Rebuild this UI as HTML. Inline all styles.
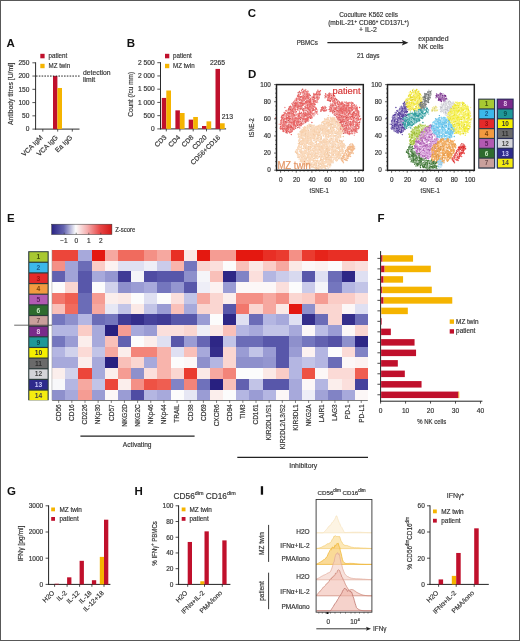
<!DOCTYPE html>
<html><head><meta charset="utf-8"><title>Figure</title>
<style>
html,body{margin:0;padding:0;background:#fff;}
body{width:520px;height:641px;overflow:hidden;position:relative;}
#frame{position:absolute;left:0;top:0;width:518px;height:639px;border:1px solid #585858;}
svg{position:absolute;left:0;top:0;font-family:"Liberation Sans", sans-serif;will-change:transform;}
</style></head><body>
<svg width="520" height="641" viewBox="0 0 520 641">
<text x="6.60" y="46.50" font-size="11.5" text-anchor="start" fill="#111" font-weight="bold">A</text>
<line x1="35.60" y1="62.30" x2="35.60" y2="129.60" stroke="#2a2a2a" stroke-width="1"/>
<line x1="35.10" y1="129.10" x2="79.50" y2="129.10" stroke="#2a2a2a" stroke-width="1"/>
<line x1="32.40" y1="129.10" x2="35.60" y2="129.10" stroke="#2a2a2a" stroke-width="0.8"/>
<text x="29.40" y="131.40" font-size="6.6" text-anchor="end" fill="#353535" font-weight="normal" stroke="#353535" stroke-width="0.18">0</text>
<line x1="32.40" y1="115.84" x2="35.60" y2="115.84" stroke="#2a2a2a" stroke-width="0.8"/>
<text x="29.40" y="118.14" font-size="6.6" text-anchor="end" fill="#353535" font-weight="normal" stroke="#353535" stroke-width="0.18">50</text>
<line x1="32.40" y1="102.58" x2="35.60" y2="102.58" stroke="#2a2a2a" stroke-width="0.8"/>
<text x="29.40" y="104.88" font-size="6.6" text-anchor="end" fill="#353535" font-weight="normal" stroke="#353535" stroke-width="0.18">100</text>
<line x1="32.40" y1="89.32" x2="35.60" y2="89.32" stroke="#2a2a2a" stroke-width="0.8"/>
<text x="29.40" y="91.62" font-size="6.6" text-anchor="end" fill="#353535" font-weight="normal" stroke="#353535" stroke-width="0.18">150</text>
<line x1="32.40" y1="76.06" x2="35.60" y2="76.06" stroke="#2a2a2a" stroke-width="0.8"/>
<text x="29.40" y="78.36" font-size="6.6" text-anchor="end" fill="#353535" font-weight="normal" stroke="#353535" stroke-width="0.18">200</text>
<line x1="32.40" y1="62.80" x2="35.60" y2="62.80" stroke="#2a2a2a" stroke-width="0.8"/>
<text x="29.40" y="65.10" font-size="6.6" text-anchor="end" fill="#353535" font-weight="normal" stroke="#353535" stroke-width="0.18">250</text>
<line x1="42.80" y1="129.10" x2="42.80" y2="131.60" stroke="#2a2a2a" stroke-width="0.8"/>
<line x1="57.70" y1="129.10" x2="57.70" y2="131.60" stroke="#2a2a2a" stroke-width="0.8"/>
<line x1="72.30" y1="129.10" x2="72.30" y2="131.60" stroke="#2a2a2a" stroke-width="0.8"/>
<rect x="53.00" y="76.06" width="4.40" height="53.04" fill="#c0102c"/>
<rect x="57.40" y="87.99" width="4.60" height="41.11" fill="#f5b400"/>
<line x1="36.00" y1="76.06" x2="80.00" y2="76.06" stroke="#111" stroke-width="0.9" stroke-dasharray="1.6,1.2"/>
<text x="83.00" y="75.00" font-size="6.8" text-anchor="start" fill="#353535" font-weight="normal" stroke="#353535" stroke-width="0.18">detection</text>
<text x="83.00" y="82.30" font-size="6.8" text-anchor="start" fill="#353535" font-weight="normal" stroke="#353535" stroke-width="0.18">limit</text>
<rect x="40.30" y="53.80" width="4.30" height="4.50" fill="#c0102c"/>
<text x="48.50" y="58.30" font-size="6.6" text-anchor="start" fill="#353535" font-weight="normal" stroke="#353535" stroke-width="0.18" textLength="18.8" lengthAdjust="spacingAndGlyphs">patient</text>
<rect x="40.30" y="63.80" width="4.30" height="4.40" fill="#f5b400"/>
<text x="48.50" y="68.30" font-size="6.6" text-anchor="start" fill="#353535" font-weight="normal" stroke="#353535" stroke-width="0.18" textLength="21.6" lengthAdjust="spacingAndGlyphs">MZ twin</text>
<text x="13.30" y="93.80" font-size="7" text-anchor="middle" fill="#353535" font-weight="normal" stroke="#353535" stroke-width="0.18" transform="rotate(-90 13.30 93.80)" textLength="62.5" lengthAdjust="spacingAndGlyphs">Antibody titres [U/ml]</text>
<text x="43.30" y="137.90" font-size="6.8" text-anchor="end" fill="#353535" font-weight="normal" stroke="#353535" stroke-width="0.18" transform="rotate(-45 43.30 137.90)">VCA IgM</text>
<text x="58.20" y="137.90" font-size="6.8" text-anchor="end" fill="#353535" font-weight="normal" stroke="#353535" stroke-width="0.18" transform="rotate(-45 58.20 137.90)">VCA IgG</text>
<text x="72.80" y="137.90" font-size="6.8" text-anchor="end" fill="#353535" font-weight="normal" stroke="#353535" stroke-width="0.18" transform="rotate(-45 72.80 137.90)">Ea IgG</text>
<text x="126.80" y="47.00" font-size="11.5" text-anchor="start" fill="#111" font-weight="bold">B</text>
<line x1="160.50" y1="62.20" x2="160.50" y2="129.40" stroke="#2a2a2a" stroke-width="1"/>
<line x1="160.00" y1="128.90" x2="226.10" y2="128.90" stroke="#2a2a2a" stroke-width="1"/>
<line x1="157.30" y1="128.90" x2="160.50" y2="128.90" stroke="#2a2a2a" stroke-width="0.8"/>
<text x="154.60" y="131.20" font-size="6.6" text-anchor="end" fill="#353535" font-weight="normal" stroke="#353535" stroke-width="0.18">0</text>
<line x1="157.30" y1="115.66" x2="160.50" y2="115.66" stroke="#2a2a2a" stroke-width="0.8"/>
<text x="154.60" y="117.96" font-size="6.6" text-anchor="end" fill="#353535" font-weight="normal" stroke="#353535" stroke-width="0.18">500</text>
<line x1="157.30" y1="102.42" x2="160.50" y2="102.42" stroke="#2a2a2a" stroke-width="0.8"/>
<text x="154.60" y="104.72" font-size="6.6" text-anchor="end" fill="#353535" font-weight="normal" stroke="#353535" stroke-width="0.18">1 000</text>
<line x1="157.30" y1="89.18" x2="160.50" y2="89.18" stroke="#2a2a2a" stroke-width="0.8"/>
<text x="154.60" y="91.48" font-size="6.6" text-anchor="end" fill="#353535" font-weight="normal" stroke="#353535" stroke-width="0.18">1 500</text>
<line x1="157.30" y1="75.94" x2="160.50" y2="75.94" stroke="#2a2a2a" stroke-width="0.8"/>
<text x="154.60" y="78.24" font-size="6.6" text-anchor="end" fill="#353535" font-weight="normal" stroke="#353535" stroke-width="0.18">2 000</text>
<line x1="157.30" y1="62.70" x2="160.50" y2="62.70" stroke="#2a2a2a" stroke-width="0.8"/>
<text x="154.60" y="65.00" font-size="6.6" text-anchor="end" fill="#353535" font-weight="normal" stroke="#353535" stroke-width="0.18">2 500</text>
<rect x="161.80" y="97.92" width="4.50" height="30.98" fill="#c0102c"/>
<rect x="166.30" y="90.50" width="4.70" height="38.40" fill="#f5b400"/>
<line x1="166.30" y1="128.90" x2="166.30" y2="131.40" stroke="#2a2a2a" stroke-width="0.8"/>
<rect x="175.40" y="110.36" width="4.50" height="18.54" fill="#c0102c"/>
<rect x="179.90" y="113.01" width="4.70" height="15.89" fill="#f5b400"/>
<line x1="179.90" y1="128.90" x2="179.90" y2="131.40" stroke="#2a2a2a" stroke-width="0.8"/>
<rect x="188.70" y="119.63" width="4.50" height="9.27" fill="#c0102c"/>
<rect x="193.20" y="116.98" width="4.70" height="11.92" fill="#f5b400"/>
<line x1="193.20" y1="128.90" x2="193.20" y2="131.40" stroke="#2a2a2a" stroke-width="0.8"/>
<rect x="202.00" y="125.99" width="4.50" height="2.91" fill="#c0102c"/>
<rect x="206.50" y="121.35" width="4.70" height="7.55" fill="#f5b400"/>
<line x1="206.50" y1="128.90" x2="206.50" y2="131.40" stroke="#2a2a2a" stroke-width="0.8"/>
<rect x="215.50" y="68.92" width="4.50" height="59.98" fill="#c0102c"/>
<rect x="220.00" y="123.26" width="4.70" height="5.64" fill="#f5b400"/>
<line x1="220.00" y1="128.90" x2="220.00" y2="131.40" stroke="#2a2a2a" stroke-width="0.8"/>
<text x="217.60" y="65.00" font-size="6.8" text-anchor="middle" fill="#353535" font-weight="normal" stroke="#353535" stroke-width="0.18">2265</text>
<text x="221.80" y="119.20" font-size="6.8" text-anchor="start" fill="#353535" font-weight="normal" stroke="#353535" stroke-width="0.18">213</text>
<rect x="165.00" y="53.80" width="4.30" height="4.50" fill="#c0102c"/>
<text x="173.00" y="58.30" font-size="6.6" text-anchor="start" fill="#353535" font-weight="normal" stroke="#353535" stroke-width="0.18" textLength="18.8" lengthAdjust="spacingAndGlyphs">patient</text>
<rect x="165.00" y="63.80" width="4.30" height="4.40" fill="#f5b400"/>
<text x="173.00" y="68.30" font-size="6.6" text-anchor="start" fill="#353535" font-weight="normal" stroke="#353535" stroke-width="0.18" textLength="21.6" lengthAdjust="spacingAndGlyphs">MZ twin</text>
<text x="133.30" y="94.30" font-size="7" text-anchor="middle" fill="#353535" font-weight="normal" stroke="#353535" stroke-width="0.18" transform="rotate(-90 133.30 94.30)" textLength="45" lengthAdjust="spacingAndGlyphs">Count (/cu mm)</text>
<text x="167.00" y="137.80" font-size="6.8" text-anchor="end" fill="#353535" font-weight="normal" stroke="#353535" stroke-width="0.18" transform="rotate(-45 167.00 137.80)">CD3</text>
<text x="180.60" y="137.80" font-size="6.8" text-anchor="end" fill="#353535" font-weight="normal" stroke="#353535" stroke-width="0.18" transform="rotate(-45 180.60 137.80)">CD4</text>
<text x="193.90" y="137.80" font-size="6.8" text-anchor="end" fill="#353535" font-weight="normal" stroke="#353535" stroke-width="0.18" transform="rotate(-45 193.90 137.80)">CD8</text>
<text x="207.20" y="137.80" font-size="6.8" text-anchor="end" fill="#353535" font-weight="normal" stroke="#353535" stroke-width="0.18" transform="rotate(-45 207.20 137.80)">CD20</text>
<text x="220.70" y="137.80" font-size="6.8" text-anchor="end" fill="#353535" font-weight="normal" stroke="#353535" stroke-width="0.18" transform="rotate(-45 220.70 137.80)">CD56+CD16</text>
<text x="247.70" y="16.50" font-size="11.5" text-anchor="start" fill="#111" font-weight="bold">C</text>
<text x="296.70" y="45.30" font-size="6.9" text-anchor="start" fill="#353535" font-weight="normal" stroke="#353535" stroke-width="0.18" textLength="21.2" lengthAdjust="spacingAndGlyphs">PBMCs</text>
<text x="368.60" y="16.60" font-size="6.9" text-anchor="middle" fill="#353535" font-weight="normal" stroke="#353535" stroke-width="0.18" textLength="58.8" lengthAdjust="spacingAndGlyphs">Coculture K562 cells</text>
<text x="368.60" y="24.70" font-size="6.9" text-anchor="middle" fill="#353535" font-weight="normal" stroke="#353535" stroke-width="0.18" textLength="80.9" lengthAdjust="spacingAndGlyphs">(mbIL-21<tspan dy="-2" font-size="4.5">+</tspan><tspan dy="2"> CD86</tspan><tspan dy="-2" font-size="4.5">+</tspan><tspan dy="2"> CD137L</tspan><tspan dy="-2" font-size="4.5">+</tspan><tspan dy="2">)</tspan></text>
<text x="368.00" y="31.90" font-size="6.9" text-anchor="middle" fill="#353535" font-weight="normal" stroke="#353535" stroke-width="0.18">+ IL-2</text>
<line x1="327.40" y1="42.70" x2="403.50" y2="42.70" stroke="#222" stroke-width="1.3"/>
<path d="M408.4 42.7 L401.8 39.9 L403.2 42.7 L401.8 45.5 Z" fill="#222"/>
<text x="368.30" y="57.80" font-size="6.9" text-anchor="middle" fill="#353535" font-weight="normal" stroke="#353535" stroke-width="0.18" textLength="22.6" lengthAdjust="spacingAndGlyphs">21 days</text>
<text x="418.20" y="41.20" font-size="6.9" text-anchor="start" fill="#353535" font-weight="normal" stroke="#353535" stroke-width="0.18">expanded</text>
<text x="418.20" y="48.60" font-size="6.9" text-anchor="start" fill="#353535" font-weight="normal" stroke="#353535" stroke-width="0.18">NK cells</text>
<text x="248.00" y="78.00" font-size="11.5" text-anchor="start" fill="#111" font-weight="bold">D</text>
<path d="M289.0 113.1h0M287.8 122.2h0M283.4 117.1h0M287.8 112.9h0M297.3 105.5h0M295.0 103.3h0M286.5 113.9h0M289.4 119.8h0M293.7 121.8h0M287.4 118.5h0M291.2 127.3h0M294.2 115.6h0M289.1 109.0h0M287.0 117.7h0M288.0 117.6h0M283.4 119.5h0M289.4 119.0h0M283.9 123.6h0M288.0 112.8h0M293.3 111.1h0M289.7 117.1h0M287.3 128.2h0M288.7 116.3h0M294.9 110.9h0M286.4 131.8h0M286.0 110.8h0M283.9 119.2h0M287.3 130.4h0M291.2 126.2h0M290.0 113.8h0M288.9 108.5h0M291.9 106.9h0M286.3 128.7h0M283.7 126.0h0M291.8 116.1h0M294.3 111.3h0M291.0 108.5h0M294.6 119.4h0M289.9 122.8h0M291.0 111.4h0M294.8 106.8h0M286.9 118.4h0M291.9 130.3h0M287.3 130.9h0M293.5 127.8h0M292.8 111.6h0M287.9 125.7h0M285.9 125.0h0M283.3 129.1h0M287.8 127.3h0M292.6 129.2h0M293.6 123.4h0M292.4 113.5h0M286.0 121.5h0M286.3 123.0h0M296.0 102.3h0M291.3 126.2h0M287.3 130.5h0M289.4 109.8h0M294.3 120.0h0M292.7 109.2h0M290.2 109.3h0M282.9 126.5h0M288.2 120.8h0M290.7 129.3h0M292.9 118.9h0M288.8 117.9h0M293.7 106.2h0M291.1 127.6h0M283.7 121.6h0M286.3 122.5h0M288.9 124.8h0M286.8 126.9h0M282.3 126.3h0M289.9 112.6h0M286.0 125.8h0M288.4 127.6h0M283.5 128.7h0M285.3 121.5h0M287.1 133.0h0M288.2 115.3h0M286.7 128.6h0M292.0 127.3h0M283.9 119.9h0M288.6 120.5h0M294.1 105.7h0M293.3 102.8h0M282.4 115.6h0M291.3 110.0h0M290.0 118.4h0M283.8 124.5h0M308.9 97.8h0M302.0 105.0h0M295.7 105.2h0M297.2 106.1h0M310.0 108.0h0M307.0 97.3h0M302.3 109.4h0M309.5 104.2h0M307.0 101.0h0M296.5 106.4h0M303.9 98.2h0M301.0 103.3h0M302.7 105.2h0M311.6 104.3h0M306.0 91.6h0M303.1 100.9h0M298.9 106.0h0M299.1 95.9h0M296.4 104.1h0M300.0 92.6h0M299.8 99.9h0M307.3 107.1h0M303.8 108.7h0M298.1 96.0h0M307.9 98.5h0M307.0 94.5h0M304.7 96.9h0M299.3 102.8h0M301.9 108.4h0M295.9 103.7h0M310.4 105.8h0M298.1 106.6h0M310.9 100.0h0M300.9 106.2h0M309.4 101.3h0M310.3 108.0h0M307.2 108.2h0M309.3 100.3h0M311.7 104.8h0M302.3 103.6h0M298.2 92.8h0M302.9 92.3h0M304.2 93.5h0M299.0 99.2h0M300.1 97.7h0M298.8 98.6h0M301.8 101.0h0M300.6 97.4h0M304.6 96.7h0M309.5 102.0h0M308.1 94.5h0M301.1 99.5h0M298.0 105.2h0M302.6 105.5h0M299.4 105.4h0M300.2 108.9h0M301.4 96.7h0M306.1 110.5h0M310.2 95.4h0M300.4 94.1h0M308.8 101.0h0M302.7 89.3h0M300.1 104.9h0M297.5 106.1h0M316.8 92.3h0M314.0 99.5h0M317.1 96.4h0M317.2 97.1h0M316.3 101.3h0M313.6 101.7h0M314.2 103.7h0M313.4 97.5h0M312.7 105.8h0M313.2 108.3h0M314.9 98.6h0M309.8 102.4h0M309.7 105.8h0M319.8 93.2h0M320.0 94.5h0M311.7 103.2h0M314.0 94.2h0M318.1 97.3h0M313.7 96.8h0M315.9 94.1h0M317.2 95.1h0M313.9 99.9h0M306.0 121.0h0M305.9 115.3h0M304.0 119.8h0M310.3 109.9h0M304.5 116.6h0M300.9 125.5h0M299.2 117.1h0M306.1 115.8h0M299.3 117.5h0M300.1 122.1h0M293.6 122.6h0M312.9 109.5h0M305.0 118.8h0M301.9 117.1h0M304.9 113.3h0M294.2 121.3h0M302.5 121.0h0M294.6 120.1h0M305.6 122.5h0M298.0 118.4h0M313.7 110.1h0M310.3 115.1h0M293.9 128.0h0M310.4 118.3h0M303.5 111.9h0M300.5 119.2h0M301.3 123.4h0M310.9 113.1h0M303.0 123.3h0M307.2 120.7h0M313.0 110.2h0M297.9 121.1h0M293.7 120.8h0M307.5 111.6h0M307.8 113.1h0M297.3 124.4h0M313.9 113.7h0M299.3 124.6h0M301.6 118.1h0M307.1 114.8h0M296.3 121.9h0M308.7 117.1h0M304.7 118.9h0M297.2 119.7h0M310.4 114.8h0M309.0 112.3h0M294.6 121.7h0M299.0 127.0h0M313.1 108.5h0M297.8 121.8h0M297.0 125.2h0M303.5 113.2h0M303.9 113.0h0M297.7 127.6h0M328.3 100.4h0M328.2 100.2h0M329.8 100.8h0M330.7 100.6h0M331.6 99.0h0M328.6 95.6h0M329.2 96.4h0M331.5 97.4h0M329.5 96.6h0M329.4 93.1h0M329.0 93.8h0M329.2 95.6h0M326.0 96.1h0M333.0 98.3h0M325.7 96.2h0M338.4 115.1h0M332.7 111.5h0M335.0 105.0h0M330.8 104.2h0M340.8 110.6h0M340.0 103.8h0M334.9 103.5h0M339.0 108.5h0M337.8 104.0h0M334.7 111.5h0M339.7 102.6h0M336.9 110.4h0M336.9 108.5h0M334.5 112.1h0M335.2 115.2h0M333.1 105.0h0M332.5 106.1h0M333.7 109.9h0M329.1 109.6h0M333.2 101.9h0M336.9 100.2h0M333.5 110.2h0M339.6 110.2h0M336.7 99.4h0M338.4 106.8h0M340.8 108.5h0M338.4 101.1h0M334.8 113.4h0M339.1 105.3h0M332.6 110.9h0M335.5 108.3h0M337.7 103.0h0M338.6 113.2h0M330.7 105.8h0M339.9 107.7h0M338.0 107.1h0M338.1 104.6h0M332.8 112.7h0M338.9 106.6h0M356.8 120.9h0M345.6 116.2h0M346.9 124.6h0M356.5 118.1h0M346.9 129.1h0M353.2 114.7h0M357.2 112.4h0M342.8 129.9h0M345.9 105.6h0M347.7 119.1h0M344.6 130.1h0M353.3 112.8h0M359.7 121.9h0M344.8 107.6h0M344.4 121.7h0M346.4 124.5h0M355.3 130.3h0M357.2 107.9h0M346.4 130.5h0M343.2 104.1h0M346.4 124.6h0M348.0 104.0h0M345.7 116.9h0M345.4 128.9h0M357.4 111.9h0M340.5 109.7h0M346.1 109.8h0M347.5 132.6h0M346.5 112.5h0M347.5 131.0h0M341.9 109.9h0M356.6 112.2h0M353.6 129.2h0M348.7 119.2h0M347.3 112.1h0M336.9 121.8h0M352.3 131.6h0M345.2 105.2h0M341.5 116.8h0M350.3 121.4h0M343.1 124.6h0M347.8 105.5h0M342.3 106.5h0M343.6 111.9h0M351.0 103.1h0M346.9 110.5h0M338.2 120.4h0M339.3 119.0h0M353.0 103.3h0M349.8 123.4h0M353.8 129.6h0M349.9 116.2h0M343.6 112.1h0M349.9 111.0h0M347.9 123.8h0M355.3 126.2h0M347.0 107.6h0M354.4 128.8h0M346.0 108.7h0M359.2 122.6h0M349.8 123.8h0M340.6 122.7h0M338.8 120.0h0M342.6 125.0h0M350.5 117.6h0M339.7 115.0h0M351.5 130.2h0M358.6 111.2h0M354.1 121.5h0M346.0 125.6h0M354.4 113.3h0M342.9 111.2h0M338.3 113.2h0M344.8 132.0h0M349.3 110.6h0M346.2 127.7h0M343.7 133.3h0M342.8 117.0h0M356.7 112.7h0M341.2 121.3h0M351.3 130.8h0M350.2 118.6h0M346.3 102.1h0M343.4 121.5h0M356.1 131.6h0M358.0 115.2h0M348.7 121.8h0M350.7 124.9h0M341.0 119.5h0M341.1 120.3h0M341.6 117.1h0M357.4 120.7h0M338.7 117.5h0M349.6 108.4h0M348.0 124.5h0M341.7 122.7h0M336.9 114.6h0M354.0 126.8h0M340.6 122.2h0M340.6 115.6h0M352.7 128.3h0M343.0 108.3h0M352.4 114.5h0M341.1 120.2h0M338.9 125.1h0M349.9 107.6h0M348.2 122.4h0M341.9 121.6h0M340.6 117.7h0M343.7 117.0h0M346.9 128.5h0M348.5 110.6h0M357.0 126.6h0M346.6 117.8h0M339.2 119.4h0M345.0 129.8h0M353.7 111.9h0M358.2 118.9h0M345.3 127.6h0M346.5 107.0h0M337.5 117.0h0M352.6 110.0h0M341.9 107.3h0M340.2 127.9h0M354.6 117.4h0M341.0 121.6h0M342.5 115.6h0M340.2 120.3h0M343.3 127.9h0M343.6 119.3h0M342.7 121.0h0M349.7 108.2h0M349.8 112.4h0M345.6 123.6h0M349.7 112.2h0M348.8 127.2h0M337.8 113.4h0M345.1 130.8h0M355.9 125.3h0M358.7 111.7h0M353.8 107.9h0M344.6 120.0h0M342.6 112.9h0M323.9 108.1h0M320.8 110.9h0M323.5 110.8h0M324.1 110.8h0M324.9 106.4h0M324.0 109.7h0M322.2 109.7h0M321.3 109.4h0M323.0 108.4h0M325.4 108.1h0" stroke="#ca4949" stroke-width="1.45" stroke-linecap="round" fill="none"/>
<path d="M293.8 104.1h0M291.4 114.8h0M288.6 131.4h0M294.2 106.2h0M291.0 119.0h0M294.7 111.1h0M290.4 106.3h0M280.7 129.1h0M275.8 117.9h0M294.0 125.4h0M288.0 131.8h0M290.1 130.8h0M290.3 118.8h0M287.8 118.8h0M281.8 116.5h0M288.4 118.3h0M286.7 116.8h0M292.1 103.4h0M294.4 124.6h0M282.8 125.2h0M292.3 127.7h0M280.5 128.0h0M293.0 113.7h0M282.2 127.5h0M285.0 124.5h0M286.1 115.2h0M294.5 122.6h0M286.8 118.5h0M293.6 108.3h0M291.7 124.3h0M284.0 115.3h0M285.1 129.0h0M283.5 114.7h0M291.5 113.8h0M286.0 132.4h0M291.3 134.6h0M287.6 118.2h0M285.4 113.1h0M294.9 122.9h0M283.9 120.9h0M285.1 123.7h0M294.7 106.4h0M294.3 114.5h0M280.9 120.4h0M293.5 126.9h0M290.4 112.6h0M295.4 104.1h0M283.5 121.0h0M289.7 132.8h0M280.6 126.5h0M292.1 117.3h0M287.6 114.6h0M283.2 131.5h0M293.1 115.1h0M282.2 115.3h0M293.1 127.9h0M284.9 118.6h0M281.8 128.4h0M288.4 117.4h0M286.8 115.2h0M289.6 117.2h0M290.5 112.6h0M288.5 126.7h0M289.8 127.8h0M293.8 112.6h0M290.9 125.8h0M291.2 122.3h0M291.6 112.5h0M290.5 116.3h0M291.2 127.4h0M293.8 121.3h0M294.4 115.3h0M292.1 119.5h0M295.4 118.0h0M290.0 126.4h0M289.3 106.9h0M282.5 126.6h0M295.8 109.3h0M296.3 102.4h0M283.3 115.4h0M286.5 130.9h0M295.4 117.4h0M281.4 123.2h0M284.0 119.4h0M281.4 128.6h0M287.7 129.0h0M283.7 131.0h0M293.4 109.8h0M292.4 108.9h0M294.2 109.9h0M280.4 124.6h0M282.0 128.7h0M288.2 118.2h0M295.5 106.7h0M290.1 107.5h0M282.3 124.8h0M294.0 107.9h0M291.4 111.9h0M308.0 103.1h0M306.5 102.0h0M298.2 108.1h0M297.3 106.4h0M307.5 104.5h0M306.3 103.4h0M302.6 98.8h0M310.6 100.2h0M304.2 94.6h0M301.3 99.9h0M309.6 103.0h0M307.4 97.1h0M309.3 108.7h0M309.4 94.3h0M302.4 103.2h0M298.1 101.9h0M303.3 91.4h0M309.1 102.6h0M307.4 104.8h0M309.6 108.7h0M301.8 102.8h0M300.7 108.5h0M297.6 107.9h0M305.7 103.1h0M303.8 97.3h0M304.3 100.3h0M297.1 103.3h0M309.3 99.6h0M310.5 101.5h0M307.8 93.0h0M305.9 107.4h0M298.6 98.2h0M298.6 105.4h0M308.2 94.6h0M299.2 113.2h0M298.9 98.1h0M306.5 101.7h0M297.8 96.7h0M298.6 102.5h0M307.6 102.5h0M296.7 100.4h0M305.9 99.2h0M303.9 103.9h0M305.3 90.1h0M302.1 92.7h0M300.9 104.9h0M303.7 103.2h0M299.6 106.6h0M299.5 98.9h0M310.7 98.8h0M307.8 106.9h0M300.5 109.4h0M307.9 91.2h0M302.8 105.6h0M308.8 108.7h0M300.5 105.6h0M297.2 99.0h0M302.2 93.0h0M295.0 105.1h0M303.5 99.6h0M305.0 109.9h0M310.7 106.1h0M319.0 98.1h0M316.2 97.5h0M317.7 94.5h0M314.7 106.9h0M316.3 101.5h0M308.1 104.5h0M309.8 106.6h0M315.7 101.9h0M317.8 98.9h0M319.5 91.8h0M312.2 97.7h0M317.6 94.3h0M319.6 94.9h0M310.8 108.4h0M317.3 95.4h0M316.4 102.2h0M317.3 100.9h0M319.2 97.2h0M318.5 93.9h0M314.3 98.5h0M313.0 103.3h0M313.2 103.0h0M320.4 90.8h0M305.4 114.2h0M308.8 113.7h0M300.4 121.6h0M297.7 122.1h0M311.2 112.5h0M294.6 118.5h0M302.9 119.3h0M310.0 114.1h0M299.4 115.1h0M307.8 111.1h0M316.2 113.1h0M295.6 118.4h0M297.7 119.8h0M312.1 110.8h0M300.2 113.8h0M307.1 117.7h0M304.5 114.4h0M300.6 117.4h0M301.1 124.9h0M301.4 122.2h0M304.8 118.9h0M295.7 120.7h0M306.5 119.0h0M316.0 108.2h0M316.9 111.5h0M308.9 113.6h0M292.7 118.0h0M301.8 115.2h0M301.1 113.4h0M298.4 115.8h0M298.8 117.6h0M295.7 128.2h0M293.6 123.1h0M297.9 116.1h0M300.3 121.1h0M316.2 109.3h0M297.8 114.3h0M295.2 118.3h0M297.7 120.1h0M307.9 118.5h0M297.5 120.5h0M304.7 119.1h0M311.4 116.3h0M301.9 115.7h0M315.4 111.8h0M308.1 120.9h0M307.2 113.8h0M316.7 112.1h0M305.1 119.3h0M295.3 128.0h0M294.2 120.0h0M305.3 115.4h0M298.8 124.6h0M308.4 115.0h0M305.7 113.2h0M299.2 116.4h0M297.6 125.5h0M301.6 115.4h0M307.6 115.7h0M313.9 115.1h0M301.2 124.6h0M298.3 116.9h0M312.4 110.2h0M293.1 118.0h0M295.1 126.0h0M296.6 117.9h0M325.1 95.8h0M329.7 100.4h0M334.6 98.9h0M329.8 96.2h0M330.4 101.6h0M332.5 100.9h0M333.2 100.7h0M334.4 95.7h0M332.0 93.9h0M334.1 99.0h0M334.0 101.0h0M332.4 96.9h0M328.8 98.0h0M327.6 100.0h0M329.2 98.3h0M333.4 100.9h0M341.7 113.4h0M331.5 108.7h0M339.6 107.4h0M342.2 102.3h0M342.4 107.0h0M333.3 109.6h0M335.2 102.0h0M341.8 110.6h0M331.2 110.7h0M340.3 110.6h0M343.2 107.5h0M336.8 102.5h0M330.2 111.3h0M341.0 109.2h0M329.9 108.9h0M336.1 112.0h0M344.3 106.2h0M338.9 104.6h0M343.7 108.7h0M340.8 104.3h0M337.3 110.4h0M335.0 102.2h0M341.8 108.5h0M341.8 104.7h0M341.8 107.4h0M340.8 110.2h0M338.3 104.8h0M339.3 114.7h0M336.8 106.3h0M332.9 112.8h0M332.3 104.0h0M339.9 106.6h0M337.6 101.7h0M350.9 117.0h0M352.3 117.2h0M354.4 108.0h0M346.0 132.1h0M360.1 119.7h0M352.1 102.7h0M339.6 122.5h0M348.5 105.9h0M352.2 116.6h0M344.3 113.4h0M358.8 122.6h0M341.0 125.5h0M338.4 118.1h0M342.9 116.3h0M349.8 123.9h0M351.6 104.8h0M348.1 113.2h0M338.4 115.2h0M347.0 121.9h0M350.7 110.1h0M352.4 106.3h0M349.9 108.0h0M338.2 124.8h0M358.7 115.1h0M357.2 124.8h0M355.2 108.3h0M354.3 130.3h0M337.0 114.3h0M353.8 122.7h0M349.1 102.4h0M356.5 113.1h0M340.2 112.3h0M346.7 107.9h0M346.1 125.4h0M342.1 129.1h0M345.0 126.0h0M342.9 109.8h0M357.0 107.1h0M348.4 120.0h0M351.3 108.0h0M348.4 108.2h0M348.4 119.4h0M337.5 112.6h0M346.1 121.5h0M356.2 118.4h0M359.5 116.4h0M348.4 115.0h0M348.9 125.3h0M344.7 114.8h0M359.6 107.4h0M346.5 127.2h0M337.5 118.3h0M350.2 131.1h0M343.3 116.7h0M346.5 118.9h0M342.6 105.9h0M357.9 112.3h0M342.8 131.2h0M360.7 118.7h0M352.7 116.4h0M349.4 133.0h0M345.9 108.0h0M347.7 111.1h0M348.9 129.7h0M346.6 127.6h0M345.5 121.7h0M347.8 131.4h0M357.9 117.4h0M338.6 112.3h0M352.9 123.6h0M344.5 116.5h0M353.0 113.7h0M352.8 125.6h0M348.9 113.9h0M342.3 118.9h0M352.2 106.5h0M353.1 115.6h0M339.2 113.0h0M344.2 105.0h0M359.1 124.2h0M351.5 124.0h0M342.7 120.1h0M351.0 133.5h0M341.6 115.9h0M357.9 125.7h0M339.1 111.2h0M354.0 128.3h0M342.8 113.4h0M346.9 103.5h0M346.3 107.0h0M356.3 129.6h0M347.8 114.9h0M341.2 126.2h0M351.7 116.1h0M346.0 113.5h0M342.6 115.5h0M347.4 133.3h0M350.2 124.6h0M348.9 105.0h0M342.1 111.6h0M343.8 105.6h0M354.8 111.6h0M355.4 124.8h0M348.0 129.5h0M352.5 115.1h0M357.0 132.3h0M358.4 120.1h0M358.9 127.3h0M353.2 116.2h0M348.0 106.1h0M348.6 119.3h0M346.7 130.7h0M338.9 117.7h0M345.2 116.5h0M350.7 125.3h0M356.3 124.3h0M343.2 126.4h0M342.2 108.5h0M355.1 131.8h0M356.1 110.7h0M347.3 120.5h0M344.9 108.2h0M345.7 108.3h0M349.7 107.7h0M358.2 119.2h0M355.9 114.6h0M352.7 113.2h0M344.3 110.4h0M350.0 117.9h0M353.4 124.7h0M358.6 112.4h0M341.9 108.1h0M323.8 107.4h0M322.5 108.5h0M321.7 110.3h0M321.1 110.8h0M326.3 110.5h0" stroke="#e65454" stroke-width="1.45" stroke-linecap="round" fill="none"/>
<path d="M291.0 114.4h0M284.7 127.9h0M294.4 110.4h0M281.5 127.8h0M291.0 110.4h0M293.7 116.5h0M286.6 121.1h0M284.1 119.2h0M291.7 119.4h0M284.2 116.3h0M287.2 114.8h0M292.6 127.8h0M291.7 125.4h0M284.8 114.1h0M290.5 131.2h0M287.2 110.2h0M290.8 116.2h0M293.2 107.2h0M296.5 107.0h0M293.7 109.5h0M290.9 115.1h0M283.5 125.1h0M291.1 123.2h0M300.3 108.9h0M290.7 111.9h0M289.1 129.2h0M294.7 110.0h0M286.8 120.1h0M292.4 129.0h0M293.9 125.1h0M283.2 127.7h0M295.1 110.4h0M294.6 111.9h0M287.0 120.5h0M293.7 124.3h0M291.3 124.2h0M285.4 122.5h0M287.0 123.0h0M284.5 113.9h0M295.4 112.1h0M291.8 117.3h0M291.8 113.4h0M281.4 122.5h0M287.7 130.9h0M281.5 125.5h0M288.1 121.9h0M283.0 117.1h0M293.8 110.8h0M280.6 121.5h0M290.3 124.2h0M286.9 124.4h0M285.1 124.3h0M290.3 119.8h0M284.6 114.7h0M288.7 128.4h0M283.6 123.8h0M295.7 115.5h0M288.1 118.7h0M291.8 108.8h0M284.7 131.4h0M292.6 103.8h0M291.0 108.5h0M288.7 110.5h0M295.7 112.0h0M291.1 111.9h0M281.9 126.6h0M280.6 122.9h0M292.5 123.8h0M293.0 106.2h0M279.2 124.2h0M286.5 111.3h0M289.5 114.5h0M294.1 104.4h0M285.5 116.8h0M284.0 126.1h0M290.7 130.4h0M300.3 100.5h0M304.3 92.6h0M305.4 97.6h0M299.3 99.3h0M306.4 95.9h0M308.0 108.3h0M297.4 108.9h0M311.0 105.9h0M306.3 98.3h0M299.6 104.9h0M305.8 105.3h0M296.6 106.9h0M300.3 105.5h0M308.3 95.9h0M307.3 99.1h0M299.4 95.0h0M303.5 97.0h0M295.2 99.2h0M299.3 110.7h0M307.1 91.8h0M304.4 100.7h0M298.6 108.9h0M304.5 95.4h0M298.4 102.1h0M299.0 108.7h0M309.1 96.9h0M298.6 104.0h0M302.5 107.6h0M301.4 97.6h0M298.8 96.6h0M305.6 108.2h0M297.9 103.7h0M304.7 100.3h0M308.1 97.0h0M305.8 89.5h0M304.6 103.4h0M307.2 94.8h0M308.5 99.1h0M308.7 94.0h0M302.3 95.2h0M307.2 91.2h0M311.1 97.3h0M304.8 92.8h0M298.6 98.9h0M306.1 103.9h0M298.6 102.6h0M303.3 94.5h0M297.3 101.1h0M308.8 98.5h0M306.7 108.9h0M309.7 107.8h0M305.9 103.4h0M296.1 103.5h0M304.1 92.0h0M304.9 104.5h0M303.5 111.4h0M302.4 91.8h0M300.3 107.6h0M312.9 107.5h0M314.4 101.2h0M316.7 99.3h0M317.1 100.3h0M319.7 92.9h0M315.0 93.8h0M316.6 98.7h0M310.8 108.0h0M311.4 106.0h0M308.4 104.1h0M315.1 93.6h0M314.6 100.3h0M317.3 95.4h0M314.3 98.6h0M318.9 97.3h0M311.1 102.6h0M314.8 98.4h0M311.5 102.8h0M312.4 96.5h0M312.2 99.0h0M309.7 104.4h0M311.4 106.7h0M311.5 101.7h0M317.6 102.4h0M310.1 104.5h0M311.8 107.0h0M315.0 94.8h0M317.3 92.3h0M316.6 101.7h0M312.3 106.1h0M314.6 96.3h0M309.8 108.3h0M313.7 102.9h0M318.0 95.9h0M312.0 109.6h0M314.1 105.2h0M311.4 107.6h0M315.3 96.1h0M297.7 114.6h0M300.4 123.3h0M298.7 123.2h0M312.0 114.5h0M298.2 124.0h0M309.9 116.9h0M303.6 120.0h0M295.6 120.8h0M312.1 116.2h0M298.8 123.6h0M304.9 113.6h0M304.5 121.4h0M314.1 113.5h0M302.3 116.3h0M298.4 119.7h0M298.8 116.9h0M312.3 114.3h0M293.6 127.0h0M303.2 117.3h0M304.8 117.3h0M297.5 118.8h0M299.3 117.9h0M305.9 113.4h0M303.4 122.0h0M309.1 113.4h0M304.9 122.1h0M307.2 116.0h0M313.9 116.0h0M302.0 115.6h0M308.8 120.3h0M304.4 118.5h0M315.5 110.8h0M307.2 113.1h0M294.4 116.7h0M298.4 122.7h0M304.4 123.1h0M292.0 122.8h0M305.9 111.1h0M296.0 125.4h0M299.4 116.5h0M300.7 122.3h0M312.3 114.8h0M299.2 118.8h0M317.5 109.9h0M302.4 124.1h0M309.4 116.6h0M301.7 120.1h0M315.0 114.3h0M297.0 115.7h0M294.4 125.6h0M304.5 119.4h0M304.0 112.3h0M307.6 109.7h0M294.3 118.0h0M314.5 112.8h0M311.6 118.6h0M325.8 95.5h0M333.3 96.8h0M331.8 96.1h0M333.4 102.5h0M331.9 98.6h0M334.8 96.2h0M328.3 99.5h0M330.7 94.7h0M328.6 96.7h0M328.0 99.8h0M328.3 99.4h0M330.0 99.0h0M329.0 96.8h0M325.6 97.6h0M333.1 96.7h0M333.0 99.6h0M330.5 97.7h0M330.0 99.3h0M326.2 94.9h0M329.1 95.0h0M330.2 95.7h0M332.5 100.3h0M334.1 100.8h0M328.3 95.5h0M329.2 96.5h0M333.8 96.6h0M332.9 97.0h0M341.1 105.8h0M334.7 112.7h0M334.7 105.3h0M334.0 109.4h0M338.5 111.5h0M337.2 113.1h0M336.2 102.3h0M335.0 113.3h0M340.4 106.0h0M339.3 103.6h0M343.0 107.5h0M342.1 103.2h0M338.5 111.1h0M331.3 105.6h0M341.2 105.5h0M330.4 104.3h0M335.0 113.2h0M338.0 107.1h0M333.6 108.7h0M335.7 103.2h0M338.4 113.4h0M337.8 116.2h0M334.5 110.0h0M330.0 107.5h0M334.4 107.3h0M339.0 105.1h0M334.5 112.9h0M331.1 111.3h0M336.6 108.6h0M338.8 110.9h0M330.1 108.8h0M337.5 112.1h0M342.2 108.9h0M330.7 111.6h0M338.5 101.2h0M329.8 111.5h0M340.2 106.3h0M336.0 102.5h0M332.1 109.5h0M335.5 102.0h0M344.6 106.3h0M329.4 106.5h0M338.3 114.1h0M338.7 105.4h0M344.8 105.4h0M331.7 110.6h0M334.0 106.7h0M336.3 111.3h0M339.0 116.3h0M336.5 116.0h0M338.5 112.6h0M345.2 103.1h0M345.3 110.2h0M354.4 127.3h0M359.0 113.4h0M344.1 126.5h0M353.4 107.2h0M344.9 120.3h0M345.9 125.1h0M352.0 105.6h0M352.6 128.2h0M354.7 128.4h0M354.6 122.1h0M344.8 126.3h0M358.6 112.4h0M337.9 117.9h0M337.3 118.8h0M355.3 106.4h0M346.2 131.1h0M343.4 110.2h0M340.7 113.4h0M343.4 115.7h0M347.3 128.3h0M345.1 128.6h0M351.5 110.5h0M355.5 124.2h0M354.3 135.3h0M342.0 118.4h0M349.4 119.2h0M342.7 110.6h0M357.3 116.5h0M348.9 107.1h0M346.1 107.0h0M348.5 124.3h0M355.0 109.0h0M345.3 108.8h0M348.7 132.1h0M338.6 121.9h0M354.0 131.1h0M344.5 129.8h0M352.6 107.2h0M339.5 109.2h0M348.7 118.5h0M344.8 120.5h0M340.8 124.3h0M348.1 107.6h0M345.8 112.9h0M352.3 121.2h0M341.8 106.4h0M339.7 120.3h0M356.6 112.5h0M338.5 121.7h0M350.5 119.5h0M344.6 113.5h0M355.6 113.4h0M345.2 115.5h0M350.3 113.9h0M343.4 104.6h0M345.1 114.9h0M351.6 124.8h0M340.5 125.9h0M356.8 106.5h0M356.6 129.1h0M349.5 121.5h0M341.7 126.3h0M355.9 122.0h0M356.9 129.9h0M357.3 119.3h0M345.9 112.0h0M346.7 124.0h0M349.4 133.7h0M341.6 125.3h0M348.1 103.1h0M356.7 107.3h0M356.0 127.7h0M346.0 121.3h0M341.1 112.8h0M349.2 129.6h0M351.1 123.4h0M352.6 107.5h0M352.1 112.1h0M352.9 126.7h0M356.2 114.8h0M348.0 121.6h0M339.9 112.3h0M354.5 113.2h0M347.7 103.7h0M340.6 112.5h0M342.5 116.1h0M346.2 109.9h0M350.1 107.5h0M345.3 113.2h0M341.3 126.7h0M355.8 126.0h0M359.6 115.5h0M345.5 102.5h0M353.3 128.8h0M346.6 126.3h0M346.9 131.0h0M343.9 116.1h0M343.9 118.4h0M345.4 128.0h0M343.9 129.5h0M354.7 116.1h0M351.5 117.8h0M357.1 114.8h0M357.7 113.3h0M352.9 105.8h0M353.7 131.6h0M351.2 109.8h0M342.9 126.7h0M343.9 112.9h0M355.4 124.3h0M340.4 116.3h0M345.1 125.3h0M352.5 105.5h0M348.4 109.4h0M343.5 114.3h0M354.3 108.3h0M341.7 118.9h0M351.8 108.7h0M353.7 130.8h0M339.9 118.2h0M350.2 128.8h0M349.0 128.2h0M344.5 133.1h0M346.8 125.6h0M338.9 120.8h0M337.4 114.2h0M357.9 120.3h0M321.4 110.1h0M324.0 107.6h0M325.8 110.4h0M322.0 110.1h0M320.8 110.2h0M324.9 107.6h0M323.7 109.5h0M324.7 106.5h0M321.5 110.7h0M321.7 108.4h0" stroke="#f2a9a9" stroke-width="1.45" stroke-linecap="round" fill="none"/>
<path d="M294.2 106.6h0M293.2 120.7h0M294.8 114.4h0M284.1 112.4h0M293.4 116.3h0M294.6 108.4h0M286.2 115.8h0M280.6 122.9h0M292.7 110.5h0M295.2 109.2h0M280.0 128.1h0M289.2 109.5h0M294.4 119.5h0M292.2 131.1h0M289.4 124.1h0M291.2 111.1h0M292.5 130.6h0M295.4 110.4h0M285.6 128.2h0M286.9 127.8h0M294.0 109.3h0M284.5 127.1h0M290.8 130.7h0M286.7 119.7h0M282.6 127.2h0M281.8 118.0h0M293.5 115.4h0M284.9 107.5h0M283.2 130.7h0M288.8 122.6h0M284.2 118.6h0M284.3 123.3h0M292.1 128.6h0M291.0 128.5h0M285.0 118.5h0M292.8 115.2h0M281.6 119.7h0M287.1 120.4h0M282.0 123.0h0M281.3 117.3h0M289.8 124.9h0M286.2 110.5h0M291.3 108.0h0M291.0 128.8h0M289.5 121.7h0M281.4 121.9h0M284.5 129.3h0M285.2 130.8h0M288.3 117.9h0M282.0 121.1h0M286.0 129.5h0M284.2 118.0h0M282.1 124.2h0M283.2 121.0h0M285.6 126.9h0M286.7 115.8h0M294.7 125.2h0M289.6 117.2h0M284.2 114.2h0M293.6 129.2h0M290.4 120.0h0M288.4 118.4h0M290.0 112.0h0M287.7 118.6h0M288.8 115.5h0M285.3 125.0h0M293.1 114.7h0M289.2 109.1h0M290.1 111.4h0M293.3 124.6h0M292.5 115.0h0M293.6 102.0h0M291.6 119.1h0M293.4 128.9h0M292.1 116.3h0M282.2 126.4h0M285.0 112.4h0M291.6 115.3h0M283.4 130.6h0M289.8 125.7h0M288.2 113.6h0M295.1 115.8h0M281.8 120.9h0M299.3 100.6h0M297.4 105.8h0M308.0 93.8h0M306.0 101.8h0M303.7 111.5h0M305.7 97.3h0M310.8 107.1h0M309.7 100.8h0M302.6 99.2h0M303.3 99.1h0M301.6 106.9h0M302.8 110.3h0M304.4 92.0h0M303.4 104.5h0M298.8 105.4h0M294.4 101.1h0M304.3 99.0h0M307.4 107.0h0M303.9 99.4h0M296.5 106.4h0M298.2 99.0h0M303.6 109.6h0M310.6 103.6h0M307.0 100.2h0M297.3 102.3h0M308.2 102.9h0M300.0 97.1h0M309.8 103.6h0M301.5 99.4h0M308.3 107.5h0M307.3 105.1h0M298.7 106.2h0M303.0 97.5h0M304.8 97.4h0M297.5 96.0h0M311.9 105.0h0M296.2 102.8h0M304.9 103.3h0M297.4 103.2h0M296.0 106.9h0M299.5 97.0h0M298.7 108.0h0M301.9 91.9h0M305.7 98.3h0M307.8 91.6h0M307.3 98.2h0M305.5 91.7h0M306.9 102.2h0M296.0 103.8h0M305.5 90.2h0M298.8 94.3h0M300.7 108.0h0M304.6 98.0h0M307.3 93.3h0M308.9 94.4h0M305.8 95.5h0M312.5 98.9h0M309.9 110.0h0M317.1 91.9h0M313.9 104.9h0M318.5 91.8h0M314.1 95.9h0M309.6 103.4h0M309.1 106.1h0M310.9 104.9h0M313.6 93.5h0M317.2 97.6h0M309.0 105.5h0M314.9 94.4h0M313.0 106.7h0M312.2 108.7h0M313.9 102.8h0M317.9 95.5h0M314.8 106.9h0M312.1 106.2h0M314.7 101.5h0M312.6 108.5h0M310.8 107.6h0M310.3 106.1h0M313.9 96.0h0M310.9 106.9h0M311.6 104.4h0M319.4 92.8h0M314.8 104.0h0M319.0 93.3h0M303.6 116.5h0M297.9 120.7h0M304.7 119.1h0M316.8 112.5h0M294.7 125.5h0M316.1 108.7h0M293.4 123.4h0M299.2 118.5h0M297.0 124.0h0M296.4 114.6h0M291.9 118.9h0M303.3 115.7h0M303.6 118.9h0M310.2 114.0h0M298.1 121.4h0M297.0 118.4h0M298.0 120.4h0M317.6 114.1h0M292.3 122.5h0M295.0 127.1h0M304.4 121.0h0M298.9 123.0h0M302.5 116.0h0M315.5 109.0h0M310.8 109.9h0M300.0 115.9h0M296.4 124.4h0M315.1 109.7h0M294.2 122.5h0M301.8 113.9h0M312.5 114.2h0M296.0 119.3h0M310.2 116.2h0M306.2 116.4h0M307.3 112.6h0M308.9 110.0h0M294.1 125.6h0M315.4 107.5h0M300.9 125.3h0M294.1 123.9h0M297.2 123.2h0M308.2 118.9h0M298.1 113.9h0M293.6 125.8h0M292.5 122.7h0M307.9 112.0h0M293.3 124.5h0M312.0 111.7h0M306.8 119.9h0M299.2 121.7h0M303.0 114.4h0M301.5 113.3h0M302.8 124.2h0M311.9 117.2h0M295.7 117.8h0M299.7 120.9h0M298.9 125.3h0M304.3 118.6h0M303.0 119.5h0M309.2 117.8h0M304.6 113.4h0M293.7 120.2h0M299.8 128.0h0M304.6 121.3h0M309.4 114.8h0M294.2 123.2h0M307.6 116.5h0M303.4 115.0h0M294.2 118.6h0M305.4 112.8h0M311.7 113.3h0M302.8 114.5h0M296.9 119.9h0M308.3 119.6h0M301.6 118.0h0M293.2 126.1h0M302.4 118.4h0M299.6 121.7h0M296.5 122.8h0M305.9 120.5h0M298.2 120.5h0M309.8 110.3h0M300.9 125.8h0M303.8 110.8h0M328.9 99.5h0M329.1 94.0h0M328.6 96.2h0M333.5 101.5h0M332.1 99.4h0M329.2 99.7h0M332.7 99.9h0M325.0 97.8h0M325.8 94.8h0M330.5 93.6h0M331.1 98.1h0M333.7 95.2h0M329.3 94.4h0M327.7 98.3h0M332.0 95.8h0M327.9 95.8h0M338.4 115.3h0M338.2 109.6h0M339.3 101.7h0M336.8 107.0h0M334.3 107.6h0M336.0 105.5h0M343.2 104.8h0M342.0 103.7h0M344.0 105.1h0M339.9 112.5h0M335.5 108.7h0M333.4 105.1h0M340.6 112.9h0M340.5 107.3h0M340.0 113.6h0M339.4 105.5h0M341.7 108.8h0M331.7 110.5h0M330.6 111.2h0M340.6 107.4h0M340.8 113.3h0M344.6 106.3h0M341.7 106.9h0M338.0 104.3h0M332.4 111.9h0M340.1 103.8h0M339.3 107.7h0M331.6 109.4h0M333.9 108.6h0M336.4 106.8h0M337.2 104.0h0M340.4 104.8h0M335.4 107.8h0M342.9 109.3h0M338.1 116.5h0M333.9 102.9h0M330.6 110.9h0M337.2 111.6h0M338.2 101.5h0M329.7 109.6h0M334.6 109.0h0M346.2 109.3h0M358.5 126.2h0M356.8 124.6h0M353.1 108.8h0M340.3 117.7h0M347.6 128.6h0M343.2 126.2h0M355.1 122.0h0M345.8 102.6h0M352.4 121.4h0M356.0 122.2h0M344.8 109.0h0M337.4 117.4h0M352.5 128.5h0M341.6 123.9h0M341.4 112.6h0M338.0 118.8h0M356.0 108.2h0M347.1 119.5h0M344.1 109.4h0M341.7 117.9h0M349.1 131.9h0M344.8 130.6h0M342.7 122.2h0M338.5 123.2h0M348.8 121.7h0M356.2 105.3h0M342.1 127.1h0M354.6 111.3h0M355.2 124.3h0M359.8 119.8h0M352.8 129.2h0M345.1 129.2h0M350.5 111.3h0M343.4 117.3h0M349.3 128.9h0M351.6 106.3h0M351.7 123.5h0M342.1 109.9h0M350.6 126.5h0M348.0 118.1h0M357.8 123.2h0M346.6 115.8h0M339.1 112.0h0M346.7 103.6h0M349.2 134.5h0M351.7 110.4h0M349.6 134.4h0M343.6 107.2h0M344.7 116.8h0M344.3 111.5h0M355.3 106.8h0M343.7 111.7h0M347.1 130.3h0M345.2 107.4h0M342.9 106.5h0M342.9 116.9h0M359.1 124.8h0M340.9 120.3h0M349.6 108.5h0M349.0 109.0h0M351.8 109.6h0M346.7 130.7h0M356.1 113.8h0M350.8 122.9h0M344.2 120.0h0M351.9 119.1h0M348.4 122.4h0M347.3 125.2h0M358.1 111.4h0M348.7 107.4h0M353.7 117.6h0M353.8 105.5h0M348.6 111.7h0M350.0 118.3h0M345.5 118.2h0M349.4 123.6h0M352.3 130.8h0M350.8 111.9h0M351.4 119.0h0M347.5 103.2h0M356.7 130.3h0M347.1 119.3h0M346.7 126.6h0M354.8 133.3h0M352.0 106.3h0M352.0 125.6h0M354.9 106.3h0M348.2 103.4h0M349.1 131.8h0M357.3 117.7h0M351.3 102.2h0M340.4 125.2h0M347.5 117.6h0M350.3 113.4h0M346.2 122.7h0M349.8 111.0h0M348.1 126.6h0M353.5 116.0h0M351.1 105.7h0M349.9 102.8h0M354.3 131.8h0M358.0 114.2h0M353.6 116.3h0M357.0 109.0h0M348.1 128.4h0M358.4 117.0h0M336.3 117.1h0M351.1 111.3h0M346.2 105.4h0M347.4 129.5h0M345.9 113.1h0M354.3 108.7h0M340.7 113.4h0M356.2 128.5h0M349.0 117.0h0M338.9 118.1h0M347.7 119.5h0M357.7 117.7h0M350.4 118.6h0M352.7 105.2h0M343.8 107.1h0M347.7 110.8h0M344.3 106.8h0M346.1 122.3h0M342.7 118.6h0M341.8 120.1h0M345.3 128.2h0M347.6 119.2h0M346.4 120.3h0M352.1 123.2h0M348.8 128.9h0M345.2 120.0h0M347.5 133.3h0M348.7 127.0h0M355.4 127.7h0M356.4 127.4h0M356.8 122.6h0M352.2 133.8h0M357.3 119.3h0M343.4 121.7h0M344.6 117.1h0M350.7 110.2h0M342.0 113.9h0M355.1 127.6h0M344.0 124.0h0M342.9 105.7h0M355.4 121.3h0M352.8 107.7h0M345.8 119.4h0M345.7 105.5h0M339.8 118.1h0M357.7 116.3h0M347.1 110.1h0M348.5 122.6h0M322.8 106.8h0M322.1 108.3h0M326.7 109.7h0M325.3 107.4h0" stroke="#ed8787" stroke-width="1.45" stroke-linecap="round" fill="none"/>
<path d="M285.0 113.8h0M285.8 130.0h0M289.9 121.8h0M288.0 118.2h0M284.5 126.1h0M291.9 131.4h0M291.0 122.5h0M283.9 122.8h0M281.7 120.0h0M283.4 130.6h0M281.6 117.3h0M282.8 117.9h0M288.4 124.1h0M288.2 113.8h0M284.0 124.7h0M284.9 118.6h0M289.2 112.7h0M295.3 109.3h0M285.4 122.6h0M297.4 109.5h0M286.5 122.0h0M296.4 111.4h0M292.1 121.7h0M283.8 125.9h0M287.1 125.9h0M293.6 123.6h0M283.5 115.3h0M291.9 113.4h0M290.7 125.8h0M287.9 130.6h0M291.6 122.9h0M289.1 118.8h0M295.1 118.1h0M292.5 110.9h0M294.0 107.3h0M294.4 115.5h0M290.0 121.2h0M283.1 122.8h0M292.9 105.6h0M282.6 129.6h0M295.3 120.3h0M283.9 119.7h0M294.1 124.4h0M294.5 122.6h0M289.5 116.3h0M286.6 129.9h0M293.5 112.7h0M291.1 110.5h0M288.5 109.8h0M288.0 111.9h0M289.7 113.8h0M289.8 131.9h0M288.4 129.3h0M284.6 128.5h0M289.0 128.0h0M286.3 117.7h0M292.9 128.4h0M282.0 119.0h0M290.9 132.3h0M294.0 129.4h0M293.6 114.5h0M290.4 127.1h0M288.7 109.2h0M287.1 128.6h0M292.4 104.6h0M294.6 103.7h0M292.6 127.7h0M281.9 117.4h0M282.0 128.4h0M282.5 128.3h0M286.1 119.4h0M292.1 120.2h0M286.0 129.8h0M295.9 112.9h0M310.7 103.8h0M294.9 102.9h0M307.2 107.2h0M298.6 106.2h0M300.0 108.3h0M304.1 90.4h0M303.6 92.0h0M303.6 97.9h0M303.7 103.4h0M302.6 105.4h0M304.2 100.2h0M307.7 95.6h0M295.9 103.8h0M307.2 97.1h0M305.6 98.6h0M302.6 103.3h0M298.3 96.4h0M299.4 102.6h0M306.6 92.0h0M308.9 107.7h0M300.9 105.6h0M300.5 102.2h0M306.6 96.3h0M304.8 108.1h0M295.1 100.7h0M308.7 97.0h0M302.2 101.0h0M307.7 105.4h0M305.0 106.4h0M296.4 98.3h0M300.4 92.9h0M308.3 101.2h0M304.6 103.5h0M307.0 93.7h0M302.9 97.2h0M307.1 105.5h0M308.3 108.7h0M306.6 102.5h0M305.5 102.6h0M307.1 94.5h0M297.9 110.1h0M306.2 96.7h0M305.5 101.7h0M299.4 91.5h0M301.3 106.6h0M296.8 103.5h0M298.0 107.7h0M307.2 108.2h0M296.4 99.2h0M303.3 110.6h0M309.2 101.3h0M301.6 90.2h0M307.3 100.9h0M306.4 101.1h0M305.5 107.1h0M302.8 104.0h0M297.9 104.8h0M297.7 107.4h0M305.1 108.2h0M303.5 95.7h0M297.9 95.8h0M309.1 95.2h0M308.5 98.6h0M307.3 96.7h0M309.2 104.6h0M305.7 94.0h0M302.6 97.0h0M300.0 96.5h0M305.2 106.7h0M298.3 94.6h0M300.4 108.5h0M301.8 96.6h0M300.3 103.5h0M299.5 100.0h0M310.0 106.5h0M303.6 110.4h0M301.3 103.1h0M300.9 96.6h0M317.9 90.2h0M313.6 106.6h0M313.8 94.9h0M316.2 94.4h0M309.4 106.6h0M316.6 93.4h0M318.0 99.6h0M313.1 101.2h0M314.5 94.7h0M315.2 104.5h0M312.1 103.8h0M312.8 99.8h0M315.1 100.6h0M318.1 91.7h0M311.9 107.9h0M313.9 100.9h0M314.6 98.2h0M314.0 104.7h0M313.8 101.8h0M315.2 100.7h0M310.6 102.6h0M314.2 97.3h0M317.3 97.9h0M313.9 103.3h0M315.3 94.6h0M310.7 104.5h0M312.0 104.6h0M298.4 122.4h0M304.3 115.6h0M310.0 111.8h0M308.8 113.8h0M313.4 109.3h0M307.5 119.5h0M312.9 113.2h0M305.7 121.5h0M310.7 111.5h0M311.9 117.8h0M311.1 115.8h0M293.4 122.6h0M310.5 117.4h0M299.6 112.0h0M309.6 114.3h0M294.5 121.6h0M301.4 112.4h0M306.2 118.8h0M306.7 114.0h0M316.2 108.4h0M303.8 117.0h0M298.9 116.5h0M306.1 120.6h0M295.8 126.3h0M298.4 118.9h0M298.9 115.3h0M311.9 122.5h0M310.5 112.5h0M303.9 118.9h0M296.7 123.2h0M299.1 113.9h0M296.1 126.4h0M307.8 117.8h0M294.4 123.6h0M293.1 125.0h0M305.5 113.2h0M300.9 117.1h0M302.9 118.7h0M309.4 110.2h0M299.0 116.5h0M310.2 117.6h0M298.6 121.5h0M309.4 116.6h0M308.4 117.6h0M297.0 121.6h0M299.7 124.9h0M309.8 109.9h0M294.5 124.2h0M303.2 113.8h0M297.0 118.2h0M306.0 121.6h0M314.8 110.0h0M305.9 119.7h0M295.2 125.2h0M300.5 123.8h0M299.6 118.6h0M308.8 109.5h0M305.4 119.4h0M299.7 118.4h0M334.3 100.4h0M334.8 99.6h0M334.3 95.7h0M328.5 97.4h0M331.5 95.6h0M327.6 94.9h0M329.7 94.3h0M335.6 98.8h0M329.5 95.3h0M333.8 97.1h0M325.6 93.7h0M335.4 98.3h0M327.7 99.9h0M330.9 98.4h0M331.1 99.0h0M326.9 97.0h0M328.5 95.3h0M327.4 100.1h0M329.4 96.8h0M333.5 110.7h0M334.9 109.3h0M336.1 110.3h0M331.3 106.9h0M342.1 103.5h0M331.1 109.0h0M335.7 103.2h0M342.5 109.4h0M335.7 109.6h0M338.6 104.5h0M343.2 106.6h0M341.8 102.2h0M341.3 108.1h0M335.4 108.6h0M333.3 105.7h0M338.0 110.9h0M343.5 110.2h0M336.6 107.6h0M342.9 103.4h0M340.0 109.6h0M342.0 111.7h0M334.9 100.8h0M331.9 105.3h0M333.0 107.7h0M339.8 102.4h0M335.4 104.9h0M341.4 103.4h0M330.7 111.0h0M340.8 104.1h0M344.0 105.7h0M330.4 107.3h0M329.7 109.2h0M331.5 108.2h0M335.6 108.4h0M342.7 109.5h0M336.1 109.1h0M334.2 114.8h0M344.5 104.8h0M334.7 103.0h0M336.2 113.9h0M352.8 115.3h0M349.8 111.8h0M356.0 110.6h0M343.4 106.7h0M347.9 125.2h0M355.9 115.5h0M350.3 121.8h0M353.0 117.9h0M345.1 114.5h0M353.3 118.9h0M355.4 131.0h0M358.9 118.9h0M340.5 125.8h0M340.1 120.6h0M343.4 121.3h0M345.9 118.6h0M341.1 109.8h0M346.3 125.6h0M345.8 133.0h0M355.0 115.7h0M357.1 128.6h0M349.3 113.5h0M348.8 103.3h0M358.2 128.8h0M352.5 122.1h0M356.5 114.9h0M346.6 108.6h0M354.1 120.1h0M353.2 130.3h0M351.7 127.1h0M344.4 113.0h0M358.6 114.6h0M340.0 110.4h0M340.9 111.2h0M346.6 105.1h0M349.5 133.4h0M353.0 120.9h0M350.4 123.0h0M341.0 128.8h0M344.4 105.7h0M339.1 110.1h0M342.1 125.0h0M352.1 109.4h0M348.5 114.2h0M338.9 111.9h0M339.7 124.0h0M348.7 105.0h0M336.6 116.8h0M347.6 117.2h0M355.8 128.8h0M338.1 121.9h0M341.4 122.5h0M349.3 131.7h0M358.3 112.4h0M337.6 119.0h0M344.3 102.1h0M357.3 109.3h0M342.6 126.3h0M352.3 107.2h0M345.3 110.9h0M344.8 128.4h0M340.5 108.9h0M345.7 110.0h0M358.4 113.3h0M341.0 129.4h0M356.5 107.9h0M347.1 116.5h0M355.2 118.9h0M337.7 114.1h0M351.0 129.3h0M358.9 128.1h0M354.3 104.6h0M347.1 109.3h0M342.9 121.1h0M356.0 122.8h0M345.7 108.5h0M344.6 110.1h0M357.7 110.5h0M351.3 132.1h0M351.4 114.3h0M351.0 114.8h0M342.3 112.4h0M351.3 124.4h0M343.5 122.9h0M356.7 118.7h0M353.1 124.7h0M357.4 124.3h0M341.2 124.9h0M352.7 109.4h0M347.7 103.2h0M353.3 121.0h0M343.6 116.6h0M343.5 129.6h0M355.0 113.4h0M342.3 120.1h0M341.8 107.9h0M353.8 117.9h0M344.4 128.7h0M352.1 110.1h0M351.4 108.3h0M346.3 111.3h0M356.6 107.6h0M352.0 122.3h0M356.7 124.9h0M357.2 123.0h0M354.4 112.7h0M354.3 104.9h0M349.2 107.5h0M346.6 123.0h0M344.5 104.7h0M346.6 115.3h0M343.2 117.1h0M351.2 106.1h0M354.6 114.1h0M344.2 126.0h0M344.1 116.6h0M345.1 125.1h0M341.1 121.8h0M342.6 111.8h0M356.0 116.1h0M353.9 129.3h0M350.1 127.9h0M339.8 116.9h0M355.8 109.8h0M352.0 114.1h0M347.5 106.0h0M356.8 114.3h0M348.9 109.3h0M352.1 103.2h0M350.5 107.7h0M339.9 114.8h0M341.4 122.4h0M338.9 117.4h0M354.0 120.8h0M346.3 107.6h0M346.7 105.2h0M356.1 108.7h0M355.9 129.8h0M348.9 113.8h0M352.8 133.1h0M348.3 117.2h0M355.6 126.0h0M358.9 126.3h0M348.1 133.8h0M351.6 119.4h0M325.0 111.0h0M321.4 109.9h0M325.4 110.1h0M321.5 107.7h0M326.0 107.6h0M322.5 107.2h0M324.1 110.4h0M323.7 108.2h0" stroke="#e86565" stroke-width="1.45" stroke-linecap="round" fill="none"/>
<path d="M301.5 144.2h0M304.3 139.4h0M301.7 132.6h0M309.2 128.0h0M311.1 125.6h0M299.6 143.7h0M307.6 128.2h0M304.5 134.2h0M298.8 136.6h0M299.7 140.0h0M316.4 130.0h0M307.0 136.6h0M300.2 131.4h0M308.1 135.4h0M302.5 138.6h0M301.6 135.1h0M308.5 130.3h0M311.8 129.6h0M308.3 131.9h0M304.7 129.5h0M318.3 126.4h0M308.0 126.5h0M301.9 137.6h0M303.5 130.6h0M305.5 133.3h0M306.3 138.6h0M305.6 137.5h0M310.8 138.7h0M304.6 143.9h0M305.6 133.2h0M301.6 142.4h0M301.7 135.6h0M299.6 142.4h0M311.9 131.7h0M301.8 136.1h0M305.8 134.3h0M303.9 128.8h0M299.0 134.6h0M310.2 126.5h0M301.7 132.5h0M315.4 132.0h0M311.3 132.1h0M301.2 142.1h0M308.4 137.7h0M304.2 135.8h0M314.2 130.2h0M310.6 129.1h0M302.6 133.1h0M307.4 140.0h0M303.1 135.0h0M301.3 130.6h0M309.4 125.5h0M308.9 134.5h0M308.8 133.1h0M316.7 127.8h0M305.6 136.5h0M303.9 138.5h0M302.8 133.6h0M303.5 142.9h0M305.3 136.1h0M310.9 124.8h0M302.6 131.5h0M303.2 141.0h0M312.1 128.5h0M315.3 131.3h0M301.5 137.9h0M302.3 130.4h0M300.7 144.4h0M303.1 132.0h0M311.4 126.9h0M310.0 135.7h0M313.9 130.7h0M310.4 129.8h0M314.7 128.8h0M301.5 133.7h0M299.7 138.9h0M298.8 134.9h0M301.6 135.8h0M308.2 146.4h0M307.1 147.9h0M308.6 148.2h0M310.7 146.4h0M314.9 138.0h0M305.4 153.2h0M309.6 137.6h0M320.6 136.2h0M319.0 129.6h0M325.2 142.8h0M304.9 146.7h0M325.3 142.0h0M307.1 153.9h0M318.2 132.9h0M308.9 143.1h0M310.2 142.1h0M307.8 152.4h0M317.3 156.1h0M320.9 151.6h0M303.9 146.7h0M320.3 149.5h0M316.6 144.7h0M324.3 141.8h0M316.4 141.2h0M320.3 141.5h0M312.1 144.1h0M305.7 146.8h0M314.9 145.8h0M320.0 145.1h0M321.3 136.9h0M320.4 149.4h0M322.0 150.8h0M320.8 154.3h0M320.3 142.5h0M316.4 130.6h0M321.0 139.2h0M319.3 156.6h0M327.2 139.3h0M318.1 138.6h0M304.5 147.4h0M323.3 135.7h0M319.6 156.7h0M312.3 130.5h0M321.4 153.2h0M312.5 154.8h0M319.3 146.8h0M314.5 130.2h0M310.5 137.8h0M311.7 143.0h0M314.4 135.6h0M311.2 153.0h0M305.9 148.7h0M318.1 135.4h0M318.0 137.2h0M314.7 158.6h0M311.2 143.0h0M307.3 142.1h0M314.7 136.6h0M318.7 144.3h0M323.6 151.4h0M324.8 131.2h0M313.5 133.9h0M316.8 156.0h0M304.7 141.5h0M308.4 149.5h0M317.0 138.7h0M308.2 135.9h0M315.1 156.3h0M314.0 140.4h0M304.8 141.3h0M315.5 153.9h0M307.7 142.1h0M322.0 128.0h0M322.5 131.0h0M308.3 150.3h0M314.1 150.7h0M315.6 149.9h0M309.4 158.0h0M319.7 134.1h0M315.3 153.2h0M325.1 146.5h0M323.0 142.4h0M322.3 145.9h0M315.5 147.8h0M316.7 138.1h0M319.5 132.4h0M320.6 134.1h0M325.4 147.8h0M309.3 153.5h0M305.8 148.3h0M305.6 144.7h0M321.7 142.9h0M310.4 147.1h0M314.4 145.9h0M309.5 149.2h0M316.8 129.5h0M308.9 147.3h0M310.3 131.9h0M322.9 140.2h0M307.2 142.3h0M321.3 146.8h0M318.4 134.6h0M309.5 146.7h0M315.6 135.0h0M304.9 144.8h0M310.6 148.6h0M304.3 150.1h0M305.2 148.0h0M316.9 156.2h0M319.2 144.9h0M306.6 140.6h0M321.7 151.7h0M321.1 149.8h0M320.7 142.5h0M309.4 153.0h0M320.0 144.8h0M322.7 142.2h0M314.9 147.0h0M319.4 149.7h0M317.5 128.8h0M317.4 134.7h0M317.4 145.1h0M308.3 138.2h0M319.3 135.4h0M323.1 140.8h0M307.7 152.8h0M320.0 125.8h0M317.1 134.2h0M318.1 149.1h0M314.4 155.8h0M307.4 143.0h0M305.4 146.3h0M310.3 154.4h0M313.7 134.8h0M324.6 139.1h0M318.9 131.7h0M314.5 150.6h0M321.2 138.4h0M313.8 153.1h0M325.7 136.5h0M324.6 130.7h0M314.3 134.5h0M311.8 155.7h0M317.2 145.7h0M320.7 129.9h0M322.2 142.8h0M314.3 154.9h0M318.3 153.1h0M317.3 133.5h0M312.3 137.9h0M317.0 156.2h0M324.9 132.0h0M314.4 131.9h0M331.7 124.3h0M338.8 136.5h0M341.0 131.5h0M339.4 125.0h0M338.3 128.9h0M336.0 135.4h0M328.3 125.0h0M324.2 127.5h0M329.6 125.2h0M331.9 121.9h0M328.3 119.3h0M335.7 125.6h0M328.8 129.8h0M325.0 128.4h0M329.0 122.7h0M334.9 119.9h0M339.8 125.3h0M331.8 124.7h0M330.8 135.6h0M332.8 123.8h0M331.6 126.4h0M326.9 120.1h0M335.3 133.3h0M324.5 126.8h0M337.6 132.1h0M335.7 121.7h0M336.6 139.5h0M340.6 125.0h0M327.3 124.4h0M340.8 132.0h0M336.6 127.9h0M323.8 128.7h0M323.6 128.6h0M338.7 133.0h0M327.2 118.9h0M334.2 118.2h0M330.5 128.8h0M328.0 131.7h0M332.9 120.3h0M332.0 132.9h0M328.6 122.2h0M328.0 125.5h0M331.7 138.4h0M333.8 127.5h0M325.5 133.0h0M330.4 124.4h0M323.9 132.9h0M337.0 139.0h0M328.6 132.0h0M331.5 130.3h0M322.9 131.8h0M337.2 132.7h0M324.1 125.2h0M328.5 123.3h0M336.5 133.8h0M337.4 122.0h0M327.8 123.1h0M340.6 127.4h0M326.7 119.1h0M325.6 134.4h0M323.8 129.0h0M323.4 128.7h0M327.4 118.1h0M328.1 131.8h0M328.8 131.0h0M337.7 134.7h0M332.2 131.7h0M338.5 121.7h0M327.6 130.4h0M339.5 133.6h0M338.3 136.7h0M337.8 124.8h0M331.0 126.8h0M322.9 126.7h0M322.3 132.2h0M340.7 125.2h0M337.0 136.9h0M330.7 123.8h0M338.8 137.1h0M341.0 126.4h0M329.1 124.7h0M321.4 128.7h0M325.1 129.3h0M328.9 135.4h0M330.6 127.1h0M329.8 132.1h0M323.7 121.5h0M333.4 128.4h0M336.9 133.5h0M331.4 120.0h0M333.8 135.6h0M339.3 131.3h0M332.1 124.6h0M326.1 128.6h0M326.2 131.5h0M322.5 131.4h0M333.9 124.7h0M322.1 122.7h0M330.7 129.2h0M335.3 136.1h0M323.9 123.5h0M329.1 123.4h0M338.6 131.3h0M328.2 126.4h0M331.0 127.3h0M322.6 129.7h0M333.2 120.9h0M330.6 118.3h0M334.0 125.3h0M321.8 129.4h0M325.6 135.1h0M335.4 121.0h0M328.4 134.3h0M328.0 132.6h0M332.5 127.5h0M340.0 133.7h0M343.1 127.9h0M325.0 124.5h0M335.4 139.7h0M333.3 119.1h0M343.3 136.5h0M320.7 128.5h0M326.0 129.9h0M320.9 150.8h0M336.5 151.0h0M342.8 150.7h0M323.0 146.8h0M327.0 141.3h0M330.2 143.5h0M328.1 161.3h0M321.4 149.8h0M336.2 141.1h0M333.6 151.2h0M332.9 154.4h0M332.7 153.6h0M343.2 151.6h0M341.8 141.0h0M342.1 143.2h0M320.9 159.0h0M325.4 152.6h0M325.1 161.4h0M322.1 156.6h0M327.0 145.0h0M330.7 157.3h0M332.9 161.2h0M338.7 158.2h0M337.3 141.7h0M342.6 149.2h0M326.9 141.9h0M339.8 150.5h0M338.6 154.8h0M327.1 142.0h0M335.0 150.5h0M337.8 154.2h0M343.3 144.8h0M333.1 154.2h0M323.1 150.0h0M332.4 139.8h0M327.4 152.2h0M326.0 159.0h0M333.4 146.4h0M327.2 153.5h0M324.8 155.3h0M339.6 151.9h0M336.4 154.4h0M328.0 157.2h0M339.3 146.2h0M332.9 149.4h0M337.4 155.3h0M342.6 156.4h0M325.6 161.2h0M335.7 158.0h0M335.5 140.0h0M338.2 147.3h0M335.6 144.4h0M337.3 159.5h0M329.3 152.4h0M339.1 156.0h0M332.0 145.6h0M336.3 160.4h0M327.5 146.2h0M339.4 140.3h0M335.4 151.0h0M339.2 147.5h0M326.5 157.6h0M325.5 162.5h0M338.2 148.5h0M333.8 145.3h0M329.4 141.7h0M340.4 151.5h0M321.8 150.2h0M338.3 151.7h0M338.1 146.1h0M328.4 153.9h0M339.5 147.9h0M326.6 148.7h0M340.7 155.8h0M332.2 150.5h0M329.0 160.8h0M338.6 152.9h0M340.8 155.3h0M324.8 161.6h0M325.8 150.2h0M329.4 141.2h0M325.6 157.8h0M331.9 138.8h0M324.8 145.9h0M340.8 145.7h0M329.1 149.2h0M340.0 155.4h0M323.4 158.7h0M330.0 141.3h0M336.9 155.5h0M335.7 155.5h0M332.1 144.3h0M327.3 148.5h0M342.7 153.3h0M328.1 157.9h0M332.6 147.6h0M335.9 150.3h0M321.0 152.0h0M325.6 154.9h0M328.7 156.4h0M323.3 154.1h0M327.5 158.0h0M333.0 141.4h0M343.1 151.4h0M329.1 142.2h0M338.2 153.9h0M321.4 156.3h0M333.9 153.5h0M339.5 140.9h0M325.1 156.3h0M336.8 148.3h0M336.5 139.8h0M328.0 157.6h0M329.4 155.3h0M321.4 147.7h0M327.2 141.4h0M330.9 140.8h0M327.8 153.1h0M328.1 151.3h0M326.3 146.2h0M326.6 159.7h0M345.0 145.8h0M340.5 141.0h0M320.9 159.8h0M331.1 153.4h0M332.0 157.3h0M331.2 159.3h0M328.2 155.4h0M342.4 147.0h0M335.3 146.9h0M332.3 146.3h0M326.7 151.0h0M332.0 143.2h0M340.2 150.9h0M338.6 145.4h0M326.8 154.4h0M331.5 157.6h0M336.9 157.6h0M331.7 150.8h0M338.9 154.2h0M333.0 162.7h0M342.0 145.2h0M335.0 152.0h0M324.5 151.7h0M328.8 157.6h0M326.7 149.2h0M336.0 145.1h0M337.4 140.4h0M336.9 155.7h0M341.8 146.1h0M324.0 153.4h0M322.2 159.8h0M341.4 142.0h0M333.4 154.9h0M330.9 161.3h0M323.9 154.6h0M332.5 148.6h0M333.2 141.7h0M301.9 151.9h0M309.4 162.7h0M318.2 169.0h0M301.7 153.4h0M312.2 166.4h0M310.2 160.3h0M309.1 159.8h0M307.3 157.1h0M323.4 166.9h0M311.6 165.2h0M316.4 164.7h0M324.4 165.8h0M308.6 157.2h0M319.2 163.9h0M301.2 152.0h0M308.9 161.8h0M311.2 164.9h0M320.5 163.4h0M325.8 168.5h0M320.2 164.1h0M300.3 152.0h0M297.4 153.8h0M316.8 160.9h0M303.7 156.5h0M314.6 164.1h0M321.1 164.3h0M306.7 157.9h0M313.5 165.1h0M323.5 163.7h0M320.4 160.2h0M304.9 162.2h0M314.3 164.2h0M311.2 159.7h0M316.4 163.0h0M313.9 167.5h0M307.2 160.8h0M317.6 160.8h0M315.5 164.4h0M300.5 160.0h0M318.2 167.1h0M321.0 166.4h0M311.3 163.1h0M305.9 158.3h0M314.7 165.0h0M313.9 164.6h0M318.7 165.4h0M311.7 164.7h0M310.4 164.8h0M301.7 151.0h0M295.6 151.8h0M318.3 163.4h0M306.5 165.4h0M314.7 158.1h0M310.6 163.5h0M296.6 153.0h0M311.9 166.9h0M301.0 149.7h0M307.1 164.2h0M302.0 157.2h0M308.1 164.2h0M320.3 167.1h0M326.0 165.9h0M324.4 166.6h0M309.5 158.4h0M302.3 160.6h0M298.4 148.5h0M301.6 161.0h0M308.2 156.7h0M297.1 152.4h0M301.7 161.1h0M318.4 162.9h0M321.1 168.6h0M316.3 163.4h0M305.9 159.3h0M317.9 168.5h0M316.5 167.7h0M304.7 160.6h0M297.7 157.1h0M311.7 166.0h0M298.9 157.3h0M322.2 165.2h0M316.4 169.2h0M317.0 166.0h0M328.9 162.3h0M330.1 160.8h0M327.2 166.2h0M328.5 159.7h0M330.6 164.7h0M328.2 168.1h0M328.1 164.8h0M328.7 163.5h0" stroke="#eac39f" stroke-width="1.45" stroke-linecap="round" fill="none"/>
<path d="M307.4 136.6h0M303.2 131.4h0M305.7 131.9h0M310.6 130.1h0M316.8 126.9h0M308.3 134.5h0M313.2 130.9h0M301.5 131.6h0M305.7 141.9h0M300.0 137.3h0M315.9 126.7h0M298.7 140.9h0M314.9 131.6h0M300.4 141.6h0M313.1 131.6h0M302.6 140.3h0M305.9 127.3h0M301.5 132.5h0M316.7 131.0h0M301.7 144.4h0M303.2 136.0h0M300.2 136.3h0M304.3 144.2h0M302.3 140.9h0M310.2 134.1h0M312.3 130.8h0M314.4 128.5h0M313.7 125.8h0M303.4 140.5h0M311.8 137.4h0M301.0 134.3h0M303.0 140.7h0M312.9 125.3h0M321.2 126.7h0M304.6 127.0h0M301.7 140.6h0M302.6 144.4h0M304.9 131.8h0M302.3 143.5h0M303.2 138.2h0M301.9 134.3h0M306.7 141.2h0M307.1 138.3h0M307.4 125.4h0M312.5 133.3h0M307.6 134.5h0M307.5 136.7h0M307.8 136.5h0M301.7 145.0h0M298.4 143.5h0M307.0 131.9h0M300.2 141.8h0M313.5 133.5h0M306.0 129.9h0M304.0 128.8h0M300.5 132.3h0M307.3 133.2h0M303.1 127.8h0M301.0 137.4h0M302.3 129.7h0M303.2 138.3h0M309.0 124.2h0M305.7 127.1h0M312.5 127.7h0M301.3 144.2h0M301.6 135.1h0M316.9 129.8h0M302.1 142.2h0M299.1 140.6h0M303.6 129.8h0M307.1 130.7h0M312.2 135.6h0M305.2 130.5h0M307.2 133.4h0M306.3 142.3h0M309.5 138.1h0M303.8 130.2h0M306.6 135.2h0M305.1 127.5h0M303.8 141.9h0M305.3 139.3h0M303.7 142.0h0M314.7 134.8h0M305.9 128.3h0M303.8 142.6h0M306.7 138.5h0M312.3 136.3h0M309.9 125.3h0M311.1 156.6h0M318.0 127.8h0M317.4 152.0h0M325.3 129.5h0M308.9 139.3h0M319.6 135.3h0M311.4 153.6h0M318.5 153.5h0M327.2 139.5h0M323.6 148.2h0M322.5 149.3h0M310.6 157.9h0M320.8 147.3h0M320.9 146.3h0M323.9 131.7h0M313.5 138.4h0M314.4 146.6h0M310.3 148.1h0M311.7 154.1h0M316.3 156.0h0M310.4 144.8h0M305.9 151.9h0M310.2 143.9h0M315.5 130.5h0M323.4 150.1h0M315.5 133.0h0M315.4 152.1h0M305.9 146.4h0M319.2 130.7h0M314.2 155.9h0M313.6 135.6h0M319.8 137.5h0M307.7 155.4h0M321.8 149.3h0M305.3 150.6h0M308.7 154.4h0M311.6 141.8h0M319.0 147.1h0M324.5 145.4h0M309.2 136.9h0M322.7 149.2h0M309.8 153.1h0M309.3 156.9h0M321.4 126.0h0M314.4 135.2h0M311.9 132.6h0M307.7 140.7h0M322.3 144.9h0M308.7 151.6h0M310.1 140.8h0M326.0 141.4h0M308.1 138.1h0M325.4 140.3h0M311.6 147.3h0M308.4 148.6h0M324.9 128.4h0M322.2 145.6h0M318.3 157.1h0M316.7 132.8h0M319.6 131.7h0M323.1 144.6h0M315.0 136.4h0M316.0 147.9h0M311.0 150.5h0M315.5 146.8h0M307.4 143.3h0M318.8 133.4h0M318.5 129.8h0M322.8 147.4h0M326.9 139.1h0M311.6 140.6h0M319.6 127.2h0M305.9 138.9h0M315.2 133.0h0M313.3 130.3h0M326.8 143.0h0M315.2 155.6h0M310.5 135.6h0M323.0 146.5h0M306.5 148.3h0M316.7 143.4h0M319.4 150.1h0M318.2 136.3h0M315.6 131.9h0M314.5 128.7h0M324.7 133.1h0M312.7 155.5h0M308.9 151.5h0M320.2 140.1h0M305.3 145.0h0M322.8 141.4h0M309.0 158.4h0M316.7 130.5h0M304.3 143.3h0M326.2 150.8h0M308.8 153.4h0M323.8 141.6h0M322.9 132.8h0M313.7 158.4h0M316.8 149.7h0M313.6 130.0h0M317.1 133.7h0M317.3 129.4h0M319.1 145.8h0M312.7 150.8h0M308.6 140.2h0M304.3 143.5h0M305.4 148.1h0M317.6 140.5h0M314.8 145.2h0M311.9 143.3h0M314.5 138.9h0M313.1 148.6h0M308.2 141.2h0M309.1 147.1h0M326.0 136.5h0M319.5 134.7h0M308.8 155.0h0M321.1 136.2h0M316.1 148.3h0M323.9 140.4h0M313.9 143.8h0M306.8 140.4h0M320.5 126.8h0M312.5 156.2h0M317.5 145.5h0M309.2 156.8h0M315.4 157.6h0M309.6 142.4h0M319.9 131.8h0M317.9 132.1h0M310.7 138.8h0M310.5 146.9h0M317.6 136.6h0M313.6 151.3h0M306.5 150.5h0M303.6 148.4h0M308.0 138.3h0M310.3 150.5h0M311.6 135.3h0M314.2 149.1h0M317.7 146.2h0M316.9 155.3h0M322.0 151.4h0M317.0 146.2h0M326.5 136.5h0M314.4 148.1h0M312.2 157.4h0M307.3 156.0h0M308.0 149.1h0M324.9 141.7h0M319.8 148.5h0M313.4 136.2h0M321.7 127.7h0M315.4 128.3h0M311.2 145.0h0M318.0 150.5h0M323.3 146.4h0M305.8 144.8h0M314.0 133.8h0M323.8 151.8h0M305.7 150.6h0M314.1 134.0h0M318.4 143.6h0M311.3 155.5h0M309.3 143.6h0M313.3 136.3h0M324.6 143.7h0M315.9 132.0h0M306.2 143.6h0M311.8 141.9h0M313.9 137.4h0M319.1 126.6h0M321.7 147.7h0M305.8 138.0h0M310.6 134.5h0M312.2 131.5h0M317.4 158.7h0M313.9 128.9h0M308.5 154.7h0M304.3 145.9h0M323.7 121.4h0M338.8 137.4h0M322.3 130.0h0M332.4 120.9h0M333.3 136.9h0M336.1 124.0h0M339.5 133.8h0M329.5 121.8h0M329.6 133.7h0M327.3 121.6h0M334.6 121.4h0M332.4 119.5h0M331.6 126.0h0M321.7 130.2h0M333.4 118.2h0M326.1 133.7h0M337.7 132.7h0M327.9 118.1h0M327.2 131.7h0M333.3 128.4h0M324.0 125.7h0M338.2 131.1h0M330.1 121.6h0M326.3 127.2h0M324.7 121.3h0M337.2 128.3h0M327.0 136.9h0M324.2 121.3h0M341.5 131.3h0M340.5 135.5h0M332.0 118.7h0M326.0 132.1h0M322.2 125.5h0M334.3 133.0h0M327.7 119.7h0M326.5 123.5h0M330.8 135.7h0M327.6 121.4h0M326.3 122.4h0M330.5 133.2h0M324.2 121.2h0M325.1 124.6h0M339.4 134.0h0M331.2 131.5h0M334.5 119.2h0M335.9 131.4h0M326.0 127.7h0M328.7 124.8h0M330.3 125.6h0M339.2 131.3h0M337.5 128.7h0M334.2 120.1h0M328.4 136.9h0M338.3 122.5h0M326.2 126.1h0M327.4 130.9h0M337.6 123.7h0M335.6 120.6h0M321.8 129.5h0M339.9 135.4h0M341.8 133.7h0M328.0 124.6h0M333.8 127.0h0M332.9 133.8h0M334.0 127.2h0M325.8 119.5h0M329.4 124.9h0M331.1 121.1h0M322.9 121.6h0M321.8 129.4h0M340.6 136.4h0M335.5 135.4h0M334.2 131.1h0M326.6 122.0h0M328.9 124.3h0M334.3 135.8h0M327.9 130.3h0M334.1 119.7h0M331.2 131.9h0M332.5 130.9h0M337.4 124.6h0M322.2 122.2h0M338.5 122.3h0M325.2 130.0h0M327.7 124.4h0M340.7 136.1h0M334.9 120.8h0M337.8 133.8h0M335.0 125.5h0M329.6 120.9h0M328.4 115.6h0M333.6 130.5h0M338.6 134.7h0M320.9 127.2h0M333.0 117.5h0M328.4 130.0h0M324.2 128.3h0M327.9 122.5h0M330.9 118.4h0M339.7 126.9h0M330.3 133.5h0M330.9 117.8h0M338.1 129.5h0M325.0 134.3h0M339.2 129.8h0M321.5 124.2h0M333.1 139.3h0M333.9 129.3h0M333.2 118.3h0M325.5 119.4h0M326.6 136.2h0M323.4 146.0h0M335.5 146.4h0M324.7 154.6h0M322.0 148.2h0M327.1 158.9h0M333.6 147.0h0M330.1 146.3h0M337.6 156.5h0M331.0 142.7h0M327.0 156.4h0M324.5 153.8h0M337.5 141.2h0M329.8 150.0h0M327.5 154.4h0M340.5 143.3h0M323.5 151.8h0M325.6 149.6h0M333.0 150.7h0M325.0 151.6h0M340.7 155.2h0M342.4 144.8h0M329.8 150.5h0M321.8 152.9h0M337.8 139.6h0M329.2 149.8h0M332.5 150.3h0M338.4 155.8h0M329.0 144.6h0M337.1 150.3h0M341.0 146.6h0M331.5 152.7h0M331.0 140.0h0M335.6 160.1h0M328.5 149.6h0M341.0 143.9h0M342.3 141.7h0M324.7 144.6h0M339.1 153.6h0M324.5 152.7h0M342.1 149.1h0M331.4 157.3h0M326.2 146.5h0M325.6 160.0h0M342.6 143.3h0M330.2 159.8h0M322.7 156.4h0M336.2 155.6h0M341.0 145.7h0M337.2 160.6h0M324.8 156.7h0M337.3 141.9h0M321.1 152.0h0M322.4 155.0h0M326.8 162.3h0M337.0 152.7h0M333.3 159.7h0M343.6 145.2h0M341.3 150.1h0M332.2 157.5h0M323.7 159.0h0M344.7 147.2h0M325.6 158.4h0M327.6 146.5h0M342.9 146.9h0M327.9 150.5h0M331.5 156.9h0M338.4 152.4h0M326.4 153.5h0M343.7 147.1h0M333.9 144.6h0M320.6 158.9h0M341.2 153.3h0M339.0 152.8h0M333.6 151.9h0M335.7 150.6h0M342.1 149.0h0M336.2 153.7h0M342.0 150.0h0M328.8 150.5h0M340.8 154.3h0M328.8 148.9h0M329.5 159.4h0M326.0 144.5h0M337.2 147.6h0M321.0 157.4h0M327.1 149.2h0M336.9 141.1h0M335.9 142.9h0M339.1 157.9h0M338.2 146.6h0M339.7 149.3h0M332.4 148.6h0M322.5 150.5h0M332.7 146.8h0M330.7 138.9h0M323.7 146.1h0M328.4 143.1h0M342.5 152.7h0M338.6 142.4h0M328.9 148.7h0M330.0 149.0h0M338.3 145.5h0M339.2 157.9h0M320.7 150.2h0M320.5 150.6h0M331.4 153.5h0M341.2 147.7h0M344.4 144.2h0M334.3 143.1h0M338.6 148.7h0M328.9 140.3h0M323.3 156.6h0M343.5 146.1h0M331.1 161.6h0M339.2 154.1h0M336.9 138.6h0M335.2 153.5h0M331.5 156.9h0M335.2 151.8h0M342.3 151.0h0M323.6 150.7h0M331.2 155.5h0M325.3 159.3h0M324.9 153.8h0M321.9 160.3h0M326.9 146.1h0M330.2 161.5h0M343.7 144.1h0M326.6 144.2h0M322.5 160.2h0M328.6 154.3h0M328.2 156.9h0M335.7 154.3h0M329.8 149.2h0M334.1 157.4h0M328.1 147.5h0M327.1 155.1h0M337.6 142.7h0M324.1 153.7h0M343.8 146.4h0M338.2 154.3h0M313.9 161.5h0M307.9 163.2h0M317.3 161.9h0M306.0 163.9h0M309.3 164.1h0M302.1 148.4h0M309.6 163.3h0M299.0 145.3h0M298.1 154.0h0M311.8 166.0h0M315.2 167.1h0M310.8 159.4h0M297.1 151.6h0M323.4 165.1h0M308.1 161.9h0M299.1 146.4h0M295.5 151.1h0M322.6 161.7h0M302.4 153.4h0M301.9 152.4h0M313.5 160.4h0M315.8 165.5h0M304.4 154.9h0M300.1 161.7h0M304.9 162.6h0M316.0 163.0h0M304.9 160.8h0M323.2 165.8h0M312.1 160.0h0M323.3 163.2h0M304.2 157.8h0M315.1 160.2h0M312.8 159.2h0M308.4 153.8h0M322.4 163.5h0M302.3 161.9h0M299.7 156.5h0M312.0 159.7h0M322.6 163.3h0M308.1 162.7h0M314.2 162.7h0M303.7 164.3h0M300.3 147.3h0M299.1 159.1h0M313.3 164.7h0M301.6 159.9h0M299.2 154.5h0M318.9 169.2h0M297.6 153.6h0M309.2 166.0h0M313.0 159.6h0M301.2 157.9h0M317.4 168.3h0M297.1 149.8h0M307.5 157.7h0M320.0 163.9h0M319.7 166.2h0M302.0 148.5h0M321.1 167.1h0M304.8 163.4h0M299.3 156.6h0M319.0 168.3h0M301.6 150.6h0M315.0 167.8h0M304.1 159.8h0M316.3 160.9h0M298.9 146.5h0M308.1 163.2h0M325.4 162.6h0M300.6 160.8h0M323.1 167.3h0M323.9 163.9h0M313.2 161.0h0M301.0 156.3h0M301.5 157.4h0M306.9 163.6h0M323.1 167.4h0M302.9 160.9h0M312.0 167.1h0M316.2 161.8h0M318.8 161.1h0M305.6 164.8h0M299.9 151.0h0M298.3 148.8h0M327.6 164.4h0M328.9 163.8h0M329.4 165.7h0M326.6 161.4h0M329.0 157.7h0M327.7 162.0h0M330.3 165.4h0M327.7 162.7h0" stroke="#f9d0aa" stroke-width="1.45" stroke-linecap="round" fill="none"/>
<path d="M302.0 137.5h0M300.4 136.2h0M306.5 131.1h0M301.6 141.8h0M299.3 140.1h0M307.1 127.0h0M306.1 133.3h0M304.6 135.8h0M306.1 137.9h0M303.6 132.4h0M307.4 141.3h0M304.2 143.5h0M303.8 139.3h0M313.2 132.0h0M313.7 127.0h0M314.8 129.8h0M303.8 130.6h0M302.1 131.8h0M299.5 139.7h0M318.1 126.3h0M300.2 132.9h0M304.2 140.5h0M303.1 140.1h0M307.5 142.0h0M304.4 127.0h0M303.2 133.9h0M311.8 125.6h0M307.1 127.2h0M311.1 133.9h0M302.6 139.1h0M304.8 129.5h0M302.6 143.3h0M305.0 131.2h0M301.4 134.7h0M314.9 127.2h0M306.5 130.3h0M308.7 131.6h0M313.4 135.7h0M301.9 142.8h0M302.5 140.3h0M309.5 125.9h0M316.9 126.2h0M311.2 129.3h0M308.1 132.1h0M311.7 136.4h0M301.4 130.9h0M299.0 134.2h0M304.4 131.4h0M301.0 136.2h0M306.3 133.6h0M305.4 135.4h0M304.3 138.8h0M301.7 144.1h0M308.2 132.8h0M307.4 127.5h0M311.4 135.4h0M302.3 138.8h0M315.5 128.0h0M298.9 137.0h0M306.1 141.2h0M308.3 140.2h0M303.9 132.1h0M312.6 134.2h0M312.9 128.9h0M304.0 139.7h0M301.9 137.8h0M317.1 132.4h0M326.3 138.2h0M315.9 139.5h0M312.3 150.2h0M322.8 143.1h0M306.5 152.4h0M318.9 139.1h0M310.9 142.4h0M319.4 143.7h0M311.6 152.6h0M316.8 129.7h0M312.7 132.8h0M314.0 138.9h0M308.8 144.6h0M316.8 138.8h0M322.8 153.1h0M311.1 141.0h0M309.7 138.0h0M312.4 133.7h0M311.5 141.1h0M305.1 150.6h0M308.7 143.7h0M312.4 154.2h0M309.8 137.3h0M322.8 149.2h0M321.7 147.2h0M310.9 140.1h0M314.9 151.6h0M307.3 143.2h0M317.4 140.2h0M320.0 148.8h0M308.3 147.7h0M323.2 144.2h0M313.1 152.9h0M323.5 135.7h0M314.1 148.9h0M321.9 153.5h0M307.0 154.3h0M322.8 144.6h0M323.6 139.2h0M316.6 153.6h0M311.8 152.7h0M312.5 149.0h0M315.5 144.7h0M317.9 157.9h0M309.5 146.3h0M320.5 138.8h0M318.7 137.4h0M312.6 156.3h0M319.1 128.5h0M319.8 148.4h0M309.8 154.5h0M320.3 141.8h0M315.2 157.8h0M317.7 127.2h0M318.6 154.0h0M304.2 146.4h0M303.5 145.8h0M321.0 139.2h0M318.9 126.6h0M316.1 150.0h0M315.1 142.2h0M315.6 142.5h0M323.7 135.0h0M309.3 151.4h0M312.2 157.3h0M315.6 154.0h0M306.9 145.7h0M310.8 134.4h0M324.9 130.2h0M309.4 153.2h0M315.5 131.3h0M308.4 147.5h0M317.2 155.4h0M308.7 157.6h0M317.6 153.5h0M322.5 142.6h0M325.1 140.4h0M306.7 149.2h0M322.0 151.9h0M315.3 141.1h0M318.5 130.7h0M306.6 146.1h0M315.7 134.7h0M308.4 141.3h0M325.7 133.7h0M309.7 156.9h0M322.4 142.9h0M320.0 134.8h0M314.5 154.5h0M309.4 143.6h0M305.8 150.9h0M311.5 156.8h0M317.2 146.7h0M323.5 128.3h0M306.4 141.1h0M315.8 146.8h0M321.7 141.2h0M312.7 142.4h0M322.9 131.3h0M322.5 147.2h0M321.1 141.5h0M316.8 153.5h0M318.6 151.9h0M320.0 142.6h0M314.9 152.2h0M321.1 125.6h0M306.1 142.0h0M305.2 144.7h0M312.1 138.8h0M319.6 145.3h0M319.1 146.3h0M310.7 133.8h0M325.8 141.9h0M305.0 151.6h0M319.3 141.6h0M309.5 153.9h0M323.5 141.3h0M326.2 130.6h0M313.2 150.6h0M306.0 145.6h0M319.2 155.0h0M305.1 152.9h0M310.3 134.4h0M307.2 148.3h0M318.4 125.5h0M322.3 150.6h0M306.6 149.2h0M314.3 137.7h0M318.3 147.3h0M326.1 140.2h0M316.0 153.6h0M315.3 132.5h0M311.8 144.8h0M316.5 138.3h0M323.8 139.1h0M314.5 138.0h0M312.2 146.1h0M320.1 152.7h0M326.3 135.3h0M323.0 150.8h0M305.2 147.0h0M318.3 144.1h0M309.5 134.0h0M322.8 150.8h0M313.2 143.5h0M313.0 145.6h0M316.5 148.4h0M317.5 129.3h0M317.8 135.6h0M316.4 127.1h0M306.5 140.2h0M318.4 150.2h0M310.6 139.2h0M322.5 132.7h0M314.1 154.6h0M322.8 145.7h0M316.4 157.8h0M318.1 149.3h0M321.5 152.3h0M322.2 149.4h0M306.5 148.0h0M322.6 151.4h0M319.1 147.0h0M308.4 154.1h0M321.3 137.1h0M313.7 155.4h0M316.2 142.8h0M318.0 127.6h0M323.7 146.4h0M314.3 136.9h0M325.3 148.7h0M306.3 151.1h0M318.9 139.9h0M337.1 126.5h0M327.8 136.5h0M327.4 128.0h0M338.5 125.6h0M331.8 121.8h0M337.8 132.6h0M333.2 127.2h0M331.3 123.7h0M325.7 119.7h0M325.3 123.3h0M327.3 121.9h0M324.5 123.1h0M326.9 134.2h0M331.8 128.0h0M337.0 121.1h0M323.6 125.3h0M328.4 123.7h0M328.3 136.5h0M329.6 131.9h0M325.3 124.3h0M327.4 124.7h0M329.3 136.8h0M324.4 129.2h0M335.1 121.7h0M335.7 123.8h0M331.9 129.1h0M331.8 134.4h0M326.2 127.9h0M334.5 117.6h0M325.7 128.6h0M327.7 117.6h0M324.6 118.8h0M330.4 117.9h0M335.3 127.3h0M340.3 130.7h0M328.9 120.4h0M328.4 137.6h0M335.3 122.7h0M333.6 125.7h0M330.5 129.8h0M323.6 122.0h0M340.9 133.1h0M330.7 131.9h0M325.3 131.9h0M342.5 129.3h0M334.2 121.3h0M333.3 129.5h0M322.0 128.5h0M330.5 118.7h0M322.1 126.2h0M338.0 136.8h0M329.9 126.9h0M322.3 133.3h0M324.0 133.8h0M330.3 117.7h0M335.9 137.7h0M334.3 127.1h0M329.2 122.9h0M329.9 122.6h0M339.5 131.7h0M336.5 130.7h0M332.9 135.6h0M327.8 127.4h0M328.5 125.6h0M343.1 130.9h0M330.6 117.7h0M328.2 126.1h0M326.4 134.6h0M332.1 133.5h0M338.8 129.6h0M325.7 126.9h0M332.8 117.4h0M328.0 123.7h0M324.7 132.8h0M323.1 130.7h0M328.2 134.5h0M334.3 126.6h0M338.4 133.1h0M328.1 133.6h0M326.5 130.0h0M340.7 137.2h0M322.5 126.3h0M342.0 129.5h0M339.0 128.9h0M326.0 131.3h0M341.7 132.2h0M324.0 132.5h0M338.3 127.0h0M327.6 118.6h0M327.6 134.4h0M341.4 131.9h0M330.4 123.7h0M331.7 129.5h0M325.8 135.5h0M342.2 133.0h0M339.1 129.7h0M334.4 129.6h0M321.3 126.8h0M334.8 131.7h0M321.7 128.0h0M329.5 130.4h0M324.9 126.0h0M327.9 129.2h0M329.6 120.3h0M331.6 129.7h0M324.8 133.5h0M339.8 125.0h0M326.8 131.3h0M339.1 123.7h0M330.4 126.1h0M322.9 160.1h0M336.0 140.8h0M327.8 143.7h0M334.2 152.1h0M330.3 156.8h0M336.4 147.8h0M338.3 151.9h0M333.2 144.2h0M326.7 142.8h0M334.6 159.0h0M338.9 155.8h0M328.6 149.6h0M339.0 143.7h0M323.9 157.7h0M322.4 145.8h0M333.0 150.2h0M328.3 151.2h0M326.0 163.1h0M332.9 142.8h0M328.6 164.3h0M332.3 149.2h0M329.1 146.8h0M339.6 151.7h0M337.5 154.8h0M326.6 151.6h0M325.2 152.9h0M339.2 157.5h0M339.7 153.8h0M326.1 150.7h0M324.4 148.3h0M333.3 145.4h0M321.7 161.7h0M320.8 150.3h0M337.1 157.5h0M328.6 147.9h0M336.6 150.9h0M325.1 150.8h0M323.8 156.2h0M340.9 144.8h0M332.7 155.3h0M334.0 145.9h0M321.2 155.1h0M331.5 160.4h0M331.6 150.7h0M340.1 158.7h0M331.4 153.8h0M336.4 156.1h0M337.7 140.3h0M339.0 148.2h0M338.1 153.6h0M320.9 155.8h0M327.8 149.3h0M342.6 151.3h0M328.9 157.8h0M329.6 145.9h0M333.3 141.0h0M330.8 139.7h0M339.1 142.6h0M327.9 164.5h0M328.3 150.2h0M342.1 148.5h0M332.1 146.8h0M336.9 151.6h0M331.4 147.2h0M322.0 146.5h0M333.7 155.8h0M333.5 141.9h0M328.9 157.7h0M323.2 144.4h0M324.6 151.2h0M339.0 144.5h0M324.3 158.3h0M342.2 151.1h0M332.0 152.5h0M331.0 152.3h0M332.1 147.9h0M326.0 151.6h0M322.0 148.4h0M321.8 157.5h0M331.2 161.6h0M331.1 161.1h0M337.1 153.9h0M321.4 154.2h0M338.7 148.4h0M338.3 152.8h0M328.4 157.3h0M340.1 156.9h0M341.6 146.8h0M325.6 159.6h0M325.5 143.9h0M327.1 150.7h0M323.9 147.4h0M327.7 141.4h0M330.3 158.1h0M335.7 149.5h0M323.9 151.0h0M339.6 146.6h0M340.1 149.4h0M331.7 161.6h0M332.2 154.8h0M334.6 141.1h0M325.3 156.4h0M324.3 155.4h0M329.3 140.8h0M343.2 143.9h0M341.2 145.2h0M331.5 146.7h0M334.3 143.5h0M331.5 149.6h0M341.1 151.6h0M327.6 147.5h0M324.4 145.9h0M332.1 157.6h0M327.3 162.0h0M327.6 159.5h0M329.8 158.2h0M325.6 157.2h0M336.2 156.1h0M327.3 150.2h0M321.4 149.8h0M335.7 147.7h0M339.7 149.4h0M323.7 158.6h0M321.5 157.7h0M323.7 158.0h0M328.7 150.8h0M334.6 141.2h0M325.9 159.8h0M321.1 157.6h0M332.7 152.0h0M339.8 146.9h0M321.9 148.1h0M299.5 151.3h0M300.9 152.1h0M320.8 164.3h0M302.4 153.0h0M299.3 144.8h0M303.6 152.5h0M321.6 165.8h0M309.4 160.4h0M300.9 153.7h0M314.8 160.8h0M324.9 167.2h0M305.0 158.4h0M302.4 154.5h0M316.7 164.2h0M303.3 159.9h0M297.7 154.0h0M303.0 159.3h0M303.1 155.8h0M324.8 167.9h0M315.3 160.3h0M302.5 159.9h0M316.6 160.9h0M322.9 161.3h0M309.2 162.7h0M302.7 157.9h0M307.1 163.4h0M314.1 163.3h0M325.1 167.4h0M321.4 162.1h0M300.9 160.5h0M305.2 161.4h0M313.5 166.3h0M308.8 157.2h0M302.3 154.4h0M325.4 166.7h0M322.7 165.2h0M311.8 159.2h0M304.3 157.9h0M304.1 152.5h0M315.7 168.4h0M308.0 155.5h0M313.5 165.0h0M324.1 166.4h0M299.6 154.6h0M319.5 161.8h0M306.1 163.0h0M303.7 162.2h0M316.3 164.5h0M299.4 157.8h0M301.4 150.5h0M302.2 155.2h0M323.0 162.6h0M307.5 164.0h0M296.6 149.8h0M312.5 159.4h0M303.8 151.6h0M302.4 151.9h0M322.7 161.6h0M322.0 163.2h0M304.9 156.4h0M298.1 146.7h0M302.9 154.2h0M300.3 155.1h0M307.1 157.1h0M317.5 160.6h0M300.7 150.7h0M318.6 163.6h0M305.0 154.1h0M314.8 167.7h0M324.8 165.2h0M306.8 163.3h0M315.6 162.8h0M298.4 156.4h0M301.3 146.5h0M297.7 147.8h0M298.7 146.0h0M310.1 158.4h0M323.7 161.6h0M310.5 158.2h0M304.8 155.6h0M309.6 165.5h0M301.5 148.0h0M315.8 166.7h0M309.1 159.7h0M300.8 150.9h0M297.4 155.1h0M306.7 159.7h0M304.7 158.6h0M301.8 161.9h0M295.5 152.3h0M310.1 161.3h0M303.0 158.9h0M313.0 164.6h0M310.2 162.0h0M303.9 153.5h0M319.2 163.2h0M325.8 166.2h0M305.0 165.9h0M322.3 168.0h0M328.9 160.4h0M327.7 161.3h0M328.6 160.4h0M327.5 164.3h0M328.9 163.2h0M331.5 162.4h0M330.1 162.4h0M329.8 167.1h0M327.3 162.0h0M329.7 160.6h0M330.6 163.1h0M329.5 164.7h0M330.6 163.3h0M329.3 161.6h0M327.8 166.8h0" stroke="#f9d4b2" stroke-width="1.45" stroke-linecap="round" fill="none"/>
<path d="M303.3 134.0h0M311.8 132.3h0M307.1 128.4h0M310.9 127.9h0M302.1 133.4h0M302.1 130.4h0M314.0 126.0h0M314.3 125.2h0M309.5 134.5h0M314.2 133.2h0M311.0 130.2h0M302.2 142.5h0M308.1 127.2h0M301.0 138.2h0M303.9 142.9h0M302.1 136.4h0M316.5 128.3h0M312.8 125.7h0M304.3 138.7h0M313.9 128.4h0M301.3 129.1h0M303.9 137.1h0M313.4 127.5h0M311.6 137.1h0M300.5 137.7h0M310.3 130.5h0M300.3 133.0h0M310.4 131.7h0M316.1 128.1h0M298.3 133.8h0M309.3 131.9h0M303.7 127.8h0M315.6 126.5h0M308.6 131.6h0M300.0 134.4h0M303.1 141.4h0M308.2 139.3h0M307.9 126.5h0M307.1 132.0h0M311.6 132.8h0M303.8 135.0h0M300.7 136.4h0M306.6 138.5h0M315.7 128.4h0M310.4 132.8h0M313.0 130.7h0M304.4 134.0h0M299.0 139.9h0M306.6 136.2h0M305.7 136.9h0M300.6 143.0h0M300.5 134.4h0M307.7 129.8h0M301.0 143.0h0M304.7 132.7h0M310.3 138.1h0M310.9 133.1h0M312.5 128.2h0M308.6 137.4h0M307.2 133.9h0M298.3 137.2h0M305.1 139.5h0M312.6 132.2h0M308.1 129.3h0M312.2 126.7h0M298.8 136.0h0M300.0 144.8h0M305.7 140.6h0M303.0 142.1h0M312.3 136.2h0M315.6 133.2h0M301.2 140.8h0M309.5 140.0h0M309.8 132.6h0M309.3 137.9h0M308.4 134.9h0M300.6 135.1h0M309.7 136.1h0M299.7 140.2h0M304.6 141.2h0M297.9 134.2h0M311.0 133.7h0M308.3 126.2h0M307.1 133.1h0M304.8 150.1h0M309.7 152.2h0M325.8 146.8h0M324.3 151.0h0M313.0 143.1h0M315.7 129.4h0M312.5 146.5h0M309.1 142.9h0M323.5 130.3h0M317.0 127.8h0M311.7 150.3h0M316.9 139.8h0M315.7 155.1h0M324.6 143.7h0M317.0 152.1h0M317.7 151.5h0M319.8 145.1h0M305.2 152.8h0M319.1 139.7h0M325.2 148.7h0M316.0 136.6h0M312.9 135.6h0M319.5 128.8h0M325.5 144.6h0M318.9 134.1h0M304.9 143.6h0M306.1 152.2h0M314.6 127.6h0M312.7 155.4h0M310.8 149.2h0M322.7 141.9h0M316.3 145.5h0M308.8 156.3h0M319.7 124.9h0M311.9 133.3h0M318.9 152.3h0M322.5 144.4h0M311.3 136.6h0M309.4 142.9h0M313.8 155.4h0M311.2 140.5h0M319.5 144.0h0M313.5 146.9h0M321.4 128.9h0M316.9 150.6h0M320.6 151.7h0M320.2 137.1h0M304.7 147.1h0M318.4 141.0h0M306.9 150.3h0M304.0 146.0h0M325.1 141.8h0M313.0 152.7h0M315.9 147.9h0M308.2 141.2h0M309.1 135.5h0M328.4 141.3h0M321.2 143.4h0M309.7 147.4h0M311.5 143.0h0M315.1 136.8h0M319.4 144.6h0M315.5 139.7h0M320.0 143.1h0M317.0 145.4h0M324.9 144.3h0M305.2 143.7h0M319.0 148.2h0M322.7 133.9h0M313.2 136.6h0M306.0 151.5h0M320.5 134.7h0M322.6 152.8h0M315.3 150.6h0M317.1 145.6h0M323.7 131.5h0M321.5 149.5h0M312.2 129.3h0M317.9 131.9h0M316.8 152.2h0M326.1 139.6h0M316.3 130.4h0M324.5 129.1h0M318.6 150.7h0M325.8 138.7h0M312.5 138.1h0M320.2 155.9h0M315.3 130.5h0M307.5 152.3h0M326.3 140.1h0M304.3 147.6h0M318.9 134.2h0M320.4 143.2h0M310.7 132.5h0M318.4 156.9h0M311.0 135.7h0M309.7 153.9h0M317.9 149.7h0M316.4 150.3h0M306.3 146.3h0M315.3 145.4h0M318.1 154.7h0M315.5 139.6h0M305.3 145.5h0M310.1 138.3h0M318.4 148.6h0M312.3 155.7h0M323.7 131.1h0M307.0 148.3h0M317.7 133.6h0M322.7 131.9h0M308.1 153.1h0M306.0 141.7h0M324.3 152.0h0M326.1 140.3h0M309.9 137.9h0M312.4 146.4h0M322.5 151.6h0M308.8 150.8h0M305.9 140.5h0M311.5 139.2h0M309.4 156.2h0M318.5 145.1h0M324.6 146.1h0M321.0 126.5h0M318.6 128.3h0M305.9 142.2h0M309.7 149.3h0M322.3 150.5h0M322.1 153.0h0M323.1 144.0h0M315.5 135.2h0M313.9 145.7h0M308.8 158.1h0M309.7 156.0h0M313.4 156.3h0M316.9 150.7h0M320.0 127.0h0M310.7 143.4h0M311.5 152.1h0M319.9 154.1h0M308.2 143.1h0M317.8 140.8h0M312.3 138.3h0M310.8 151.2h0M325.1 137.0h0M316.5 158.1h0M313.1 156.5h0M312.5 143.6h0M324.8 132.4h0M314.4 150.8h0M312.1 138.3h0M309.3 158.3h0M319.7 145.0h0M319.9 152.3h0M311.2 153.4h0M327.0 136.1h0M312.0 146.6h0M321.4 150.3h0M318.2 127.5h0M316.7 148.7h0M312.6 153.0h0M309.3 144.0h0M321.5 133.5h0M318.0 131.4h0M310.1 157.0h0M314.1 144.8h0M320.4 131.8h0M318.5 153.2h0M311.2 142.9h0M314.1 156.4h0M324.5 129.7h0M320.6 136.2h0M311.8 136.9h0M310.2 135.5h0M318.2 136.9h0M310.6 132.0h0M318.3 130.0h0M314.5 133.7h0M305.4 144.9h0M337.6 137.1h0M324.2 131.2h0M333.5 134.9h0M334.5 123.0h0M326.8 126.8h0M339.0 138.6h0M338.9 131.8h0M337.8 124.4h0M336.4 132.8h0M341.8 132.2h0M337.5 133.8h0M330.4 126.1h0M336.7 119.1h0M333.5 121.2h0M337.0 120.8h0M321.7 125.0h0M326.6 126.2h0M339.2 133.3h0M327.3 124.5h0M333.8 123.9h0M325.3 126.1h0M331.9 130.0h0M331.5 129.4h0M327.9 133.9h0M334.0 136.6h0M337.7 128.1h0M334.5 121.3h0M326.1 137.3h0M332.8 131.0h0M320.9 125.3h0M333.5 125.4h0M334.4 136.4h0M339.8 125.4h0M321.4 127.7h0M334.7 131.9h0M334.0 136.2h0M325.7 127.7h0M330.6 119.7h0M328.2 118.9h0M337.0 131.5h0M335.4 119.1h0M330.3 117.1h0M332.8 123.2h0M335.7 138.8h0M338.6 124.3h0M325.7 134.7h0M330.2 138.4h0M324.7 119.5h0M340.4 124.9h0M331.3 136.2h0M335.1 125.9h0M334.1 132.4h0M326.9 136.2h0M325.2 121.1h0M338.2 124.1h0M339.0 132.8h0M323.8 131.0h0M330.1 139.1h0M322.6 126.6h0M328.9 126.6h0M336.9 128.9h0M332.5 139.4h0M329.4 140.2h0M335.4 138.6h0M338.5 122.0h0M338.9 136.5h0M340.5 132.9h0M333.5 122.6h0M333.7 117.7h0M330.9 133.2h0M329.5 130.0h0M327.7 129.3h0M341.3 133.8h0M333.2 120.1h0M332.5 122.7h0M325.2 125.1h0M335.0 138.8h0M330.1 132.2h0M329.4 123.9h0M324.2 133.0h0M324.8 126.9h0M335.5 120.3h0M341.5 128.0h0M333.9 126.3h0M334.7 129.9h0M325.7 130.8h0M329.7 130.2h0M338.8 123.4h0M327.6 118.8h0M341.0 131.5h0M335.9 136.9h0M332.9 136.7h0M325.4 121.5h0M331.8 122.5h0M325.1 120.0h0M337.4 126.8h0M338.9 123.6h0M329.6 121.1h0M324.9 133.4h0M327.5 121.1h0M323.5 132.3h0M338.3 134.8h0M333.6 128.9h0M340.8 133.3h0M328.6 117.6h0M331.6 127.0h0M331.0 137.8h0M337.6 125.3h0M328.3 132.0h0M339.5 126.1h0M340.1 134.6h0M325.6 121.1h0M330.1 136.3h0M324.2 127.3h0M326.3 136.6h0M321.9 126.7h0M337.7 120.7h0M335.6 132.8h0M324.8 120.0h0M325.4 124.8h0M333.1 117.4h0M335.4 126.5h0M324.3 129.6h0M333.8 132.1h0M344.0 146.0h0M343.3 150.0h0M330.1 148.0h0M333.9 158.3h0M325.7 155.3h0M335.9 157.6h0M339.4 143.5h0M333.7 142.0h0M336.5 158.9h0M322.6 150.2h0M335.7 147.6h0M325.8 150.0h0M343.7 144.0h0M331.5 158.7h0M336.6 156.2h0M336.4 160.7h0M330.6 141.3h0M335.0 153.6h0M340.2 150.0h0M334.8 156.9h0M339.0 156.5h0M323.8 161.5h0M323.6 146.7h0M324.0 151.1h0M322.4 150.4h0M321.3 154.8h0M332.3 153.4h0M329.2 153.2h0M330.9 149.0h0M323.3 160.2h0M323.5 151.0h0M337.2 155.7h0M336.5 140.3h0M331.7 139.8h0M321.1 155.6h0M332.9 160.5h0M339.5 155.1h0M342.9 151.9h0M327.2 145.1h0M329.5 162.8h0M328.8 163.2h0M328.4 151.7h0M324.6 158.9h0M330.7 146.5h0M331.6 155.8h0M342.4 144.5h0M321.6 153.5h0M333.7 153.5h0M335.0 144.3h0M323.9 147.9h0M338.7 144.4h0M338.2 146.1h0M323.4 154.1h0M332.3 152.9h0M340.7 150.4h0M337.2 151.7h0M332.4 162.1h0M336.1 153.8h0M328.7 141.7h0M336.0 155.2h0M341.4 144.9h0M327.7 156.1h0M336.9 152.8h0M338.3 146.4h0M335.3 152.6h0M344.7 148.6h0M335.8 159.2h0M336.4 161.0h0M336.8 139.0h0M343.4 140.4h0M340.6 149.9h0M334.8 144.9h0M335.6 147.4h0M329.7 139.8h0M333.0 143.1h0M331.1 144.8h0M322.1 157.0h0M336.1 154.3h0M323.8 146.4h0M323.6 156.4h0M336.2 158.1h0M335.4 141.8h0M334.9 155.6h0M340.1 150.3h0M337.8 159.4h0M331.0 142.9h0M325.6 161.1h0M325.8 161.1h0M329.1 153.3h0M330.8 139.9h0M337.3 144.2h0M334.7 149.3h0M334.8 144.9h0M333.2 144.1h0M323.4 153.0h0M328.0 145.8h0M334.2 143.1h0M329.5 146.7h0M335.2 141.4h0M332.8 150.5h0M340.8 142.0h0M334.3 147.7h0M340.8 153.8h0M328.3 153.3h0M325.9 153.8h0M327.9 158.6h0M340.1 141.4h0M337.2 140.2h0M333.0 148.4h0M328.8 148.2h0M328.6 160.8h0M322.8 145.8h0M323.3 161.0h0M336.4 150.6h0M329.3 161.7h0M328.0 143.2h0M334.5 152.5h0M338.1 157.4h0M334.8 151.3h0M325.9 147.7h0M333.1 157.2h0M332.3 140.0h0M337.8 146.1h0M327.0 143.2h0M333.2 138.6h0M327.4 142.6h0M325.8 160.6h0M337.5 151.4h0M326.7 160.8h0M326.9 147.5h0M331.0 162.7h0M337.0 145.9h0M334.1 141.9h0M326.6 145.3h0M327.3 155.3h0M331.6 150.5h0M330.1 139.0h0M329.3 148.9h0M321.8 160.9h0M344.4 147.7h0M323.6 149.1h0M320.6 156.5h0M320.6 149.0h0M325.4 147.0h0M310.1 164.3h0M298.5 149.1h0M298.8 147.9h0M320.9 162.0h0M325.5 162.2h0M300.0 149.8h0M299.8 156.4h0M325.2 163.1h0M310.0 164.7h0M304.4 152.5h0M302.8 155.2h0M302.4 160.7h0M298.8 149.3h0M297.6 150.5h0M301.2 150.2h0M306.9 165.7h0M319.3 161.0h0M308.4 158.2h0M305.5 160.7h0M319.7 163.7h0M297.8 149.6h0M302.0 159.6h0M299.6 147.2h0M302.2 158.8h0M310.6 159.7h0M302.4 160.9h0M305.8 161.5h0M309.5 167.5h0M310.3 161.7h0M321.5 166.8h0M322.0 167.7h0M313.6 166.5h0M303.3 162.9h0M324.1 162.9h0M304.0 160.2h0M325.0 167.3h0M306.1 164.1h0M305.7 164.0h0M303.4 153.0h0M300.5 155.1h0M315.5 164.7h0M301.3 155.7h0M320.9 162.3h0M310.7 160.7h0M322.6 166.3h0M303.9 154.7h0M312.3 159.5h0M305.1 156.9h0M312.5 162.7h0M324.4 163.4h0M312.3 164.3h0M321.5 167.2h0M321.6 162.6h0M298.4 155.0h0M311.9 159.2h0M318.9 166.2h0M311.5 165.7h0M308.3 160.8h0M323.7 167.4h0M316.6 162.5h0M319.6 167.5h0M300.9 158.6h0M318.4 167.3h0M303.5 151.4h0M302.6 152.4h0M301.3 151.0h0M310.1 163.3h0M307.0 153.6h0M314.3 165.2h0M300.7 156.5h0M304.7 157.1h0M302.7 156.4h0M311.7 159.0h0M298.4 156.3h0M301.6 156.4h0M309.4 161.1h0M301.2 159.8h0M296.5 149.7h0M297.8 152.0h0M312.5 167.4h0M298.6 148.3h0M323.7 165.9h0M299.3 149.1h0M300.7 149.3h0M301.2 155.3h0M305.7 156.0h0M307.5 164.0h0M301.9 153.4h0M309.0 159.1h0M297.7 148.8h0M305.9 157.2h0M329.3 163.0h0M330.4 165.4h0M327.7 161.5h0M327.1 162.3h0M329.6 161.5h0M328.3 164.1h0M328.0 162.3h0M328.9 162.6h0M330.8 165.7h0M328.8 163.6h0M330.3 162.5h0" stroke="#fadbbf" stroke-width="1.45" stroke-linecap="round" fill="none"/>
<path d="M350.1 154.0h0M347.9 155.6h0M351.5 152.4h0M346.1 159.9h0M348.7 156.6h0M346.8 149.8h0M352.5 150.8h0M345.5 150.7h0M348.3 151.1h0M341.3 158.0h0M353.1 147.7h0M350.0 144.7h0M351.6 152.4h0M354.6 148.8h0M343.0 159.0h0M344.7 159.5h0M342.7 158.8h0M348.3 151.3h0M347.1 160.6h0M347.3 150.0h0M348.5 154.5h0M352.6 147.7h0M352.8 144.8h0M353.6 146.1h0M343.5 155.6h0M350.5 152.2h0M349.2 152.9h0M341.5 159.1h0M348.8 146.5h0M347.8 148.3h0M349.1 149.1h0M343.3 155.9h0M348.3 156.0h0" stroke="#e5ac7f" stroke-width="1.45" stroke-linecap="round" fill="none"/>
<path d="M352.1 144.9h0M352.7 150.0h0M347.6 150.5h0M344.3 157.7h0M349.3 149.6h0M343.3 158.0h0M341.8 160.5h0M342.8 160.5h0M344.3 155.6h0M344.9 153.3h0M349.8 146.5h0M346.5 149.5h0M353.3 146.9h0M351.3 147.8h0M352.4 146.6h0M348.4 148.3h0M350.4 148.8h0M348.3 148.5h0M353.2 153.4h0M353.7 146.3h0M349.2 155.7h0M350.4 149.4h0M346.3 154.2h0M353.0 148.4h0M349.9 154.1h0M352.9 152.8h0M352.3 144.0h0M349.5 148.1h0M349.7 147.0h0M341.4 159.7h0M348.3 152.7h0M353.9 148.5h0M345.6 151.2h0M346.8 153.7h0M349.8 153.4h0M351.7 146.1h0M352.5 146.5h0" stroke="#f5bf93" stroke-width="1.45" stroke-linecap="round" fill="none"/>
<path d="M350.9 143.6h0M351.5 153.2h0M346.3 151.5h0M350.3 148.0h0M346.1 157.2h0M353.6 148.6h0M344.0 156.2h0M346.6 159.5h0M343.5 162.7h0M347.6 149.6h0M354.6 146.9h0M345.8 159.7h0M350.3 148.2h0M348.8 153.7h0M343.4 157.4h0M348.7 147.5h0M349.4 153.7h0M344.1 154.4h0M351.5 148.9h0M348.6 153.6h0M349.4 146.9h0M353.2 146.5h0M350.4 154.0h0M351.2 152.9h0M347.7 156.5h0M350.8 150.3h0M352.2 148.9h0M350.4 153.2h0M350.6 156.4h0M341.9 160.5h0M352.3 150.2h0M347.1 149.2h0M341.6 160.3h0M346.5 157.0h0M351.9 152.9h0" stroke="#f6c9a5" stroke-width="1.45" stroke-linecap="round" fill="none"/>
<path d="M349.8 146.3h0M353.0 148.0h0M345.3 152.7h0M343.4 156.2h0M352.5 147.1h0M347.8 151.9h0M343.4 157.0h0M343.9 154.0h0M349.8 147.9h0M352.3 146.4h0M348.4 149.3h0M350.4 147.5h0M345.0 155.4h0M346.7 154.5h0M347.5 147.3h0M349.7 152.2h0M349.0 149.0h0M353.6 148.9h0M347.7 158.5h0M343.1 157.3h0M353.1 150.0h0M350.2 156.2h0M345.7 159.8h0M352.1 151.4h0M342.6 161.2h0M351.0 149.6h0M349.5 153.9h0M343.3 162.1h0M352.3 150.1h0M346.0 158.4h0M351.4 146.6h0M348.6 154.9h0M347.9 157.6h0M350.4 146.2h0M347.7 150.3h0M351.3 150.3h0M348.0 158.3h0M347.9 155.7h0M346.9 155.7h0M351.8 149.4h0M353.2 146.1h0" stroke="#f4b888" stroke-width="1.45" stroke-linecap="round" fill="none"/>
<rect x="276.50" y="84.60" width="86.80" height="85.70" fill="none" stroke="#222" stroke-width="1.5"/>
<line x1="274.10" y1="170.20" x2="276.50" y2="170.20" stroke="#222" stroke-width="0.7"/>
<line x1="275.20" y1="165.92" x2="276.50" y2="165.92" stroke="#222" stroke-width="0.7"/>
<line x1="275.20" y1="161.64" x2="276.50" y2="161.64" stroke="#222" stroke-width="0.7"/>
<line x1="275.20" y1="157.36" x2="276.50" y2="157.36" stroke="#222" stroke-width="0.7"/>
<line x1="274.10" y1="153.08" x2="276.50" y2="153.08" stroke="#222" stroke-width="0.7"/>
<line x1="275.20" y1="148.80" x2="276.50" y2="148.80" stroke="#222" stroke-width="0.7"/>
<line x1="275.20" y1="144.52" x2="276.50" y2="144.52" stroke="#222" stroke-width="0.7"/>
<line x1="275.20" y1="140.24" x2="276.50" y2="140.24" stroke="#222" stroke-width="0.7"/>
<line x1="274.10" y1="135.96" x2="276.50" y2="135.96" stroke="#222" stroke-width="0.7"/>
<line x1="275.20" y1="131.68" x2="276.50" y2="131.68" stroke="#222" stroke-width="0.7"/>
<line x1="275.20" y1="127.40" x2="276.50" y2="127.40" stroke="#222" stroke-width="0.7"/>
<line x1="275.20" y1="123.12" x2="276.50" y2="123.12" stroke="#222" stroke-width="0.7"/>
<line x1="274.10" y1="118.84" x2="276.50" y2="118.84" stroke="#222" stroke-width="0.7"/>
<line x1="275.20" y1="114.56" x2="276.50" y2="114.56" stroke="#222" stroke-width="0.7"/>
<line x1="275.20" y1="110.28" x2="276.50" y2="110.28" stroke="#222" stroke-width="0.7"/>
<line x1="275.20" y1="106.00" x2="276.50" y2="106.00" stroke="#222" stroke-width="0.7"/>
<line x1="274.10" y1="101.72" x2="276.50" y2="101.72" stroke="#222" stroke-width="0.7"/>
<line x1="275.20" y1="97.44" x2="276.50" y2="97.44" stroke="#222" stroke-width="0.7"/>
<line x1="275.20" y1="93.16" x2="276.50" y2="93.16" stroke="#222" stroke-width="0.7"/>
<line x1="275.20" y1="88.88" x2="276.50" y2="88.88" stroke="#222" stroke-width="0.7"/>
<line x1="274.10" y1="84.60" x2="276.50" y2="84.60" stroke="#222" stroke-width="0.7"/>
<text x="270.90" y="172.40" font-size="6.4" text-anchor="end" fill="#353535" font-weight="normal" stroke="#353535" stroke-width="0.18">0</text>
<text x="270.90" y="155.28" font-size="6.4" text-anchor="end" fill="#353535" font-weight="normal" stroke="#353535" stroke-width="0.18">20</text>
<text x="270.90" y="138.16" font-size="6.4" text-anchor="end" fill="#353535" font-weight="normal" stroke="#353535" stroke-width="0.18">40</text>
<text x="270.90" y="121.04" font-size="6.4" text-anchor="end" fill="#353535" font-weight="normal" stroke="#353535" stroke-width="0.18">60</text>
<text x="270.90" y="103.92" font-size="6.4" text-anchor="end" fill="#353535" font-weight="normal" stroke="#353535" stroke-width="0.18">80</text>
<text x="270.90" y="86.80" font-size="6.4" text-anchor="end" fill="#353535" font-weight="normal" stroke="#353535" stroke-width="0.18">100</text>
<line x1="276.69" y1="170.30" x2="276.69" y2="171.60" stroke="#222" stroke-width="0.7"/>
<line x1="280.60" y1="170.30" x2="280.60" y2="172.70" stroke="#222" stroke-width="0.7"/>
<line x1="284.51" y1="170.30" x2="284.51" y2="171.60" stroke="#222" stroke-width="0.7"/>
<line x1="288.42" y1="170.30" x2="288.42" y2="171.60" stroke="#222" stroke-width="0.7"/>
<line x1="292.33" y1="170.30" x2="292.33" y2="171.60" stroke="#222" stroke-width="0.7"/>
<line x1="296.24" y1="170.30" x2="296.24" y2="172.70" stroke="#222" stroke-width="0.7"/>
<line x1="300.15" y1="170.30" x2="300.15" y2="171.60" stroke="#222" stroke-width="0.7"/>
<line x1="304.06" y1="170.30" x2="304.06" y2="171.60" stroke="#222" stroke-width="0.7"/>
<line x1="307.97" y1="170.30" x2="307.97" y2="171.60" stroke="#222" stroke-width="0.7"/>
<line x1="311.88" y1="170.30" x2="311.88" y2="172.70" stroke="#222" stroke-width="0.7"/>
<line x1="315.79" y1="170.30" x2="315.79" y2="171.60" stroke="#222" stroke-width="0.7"/>
<line x1="319.70" y1="170.30" x2="319.70" y2="171.60" stroke="#222" stroke-width="0.7"/>
<line x1="323.61" y1="170.30" x2="323.61" y2="171.60" stroke="#222" stroke-width="0.7"/>
<line x1="327.52" y1="170.30" x2="327.52" y2="172.70" stroke="#222" stroke-width="0.7"/>
<line x1="331.43" y1="170.30" x2="331.43" y2="171.60" stroke="#222" stroke-width="0.7"/>
<line x1="335.34" y1="170.30" x2="335.34" y2="171.60" stroke="#222" stroke-width="0.7"/>
<line x1="339.25" y1="170.30" x2="339.25" y2="171.60" stroke="#222" stroke-width="0.7"/>
<line x1="343.16" y1="170.30" x2="343.16" y2="172.70" stroke="#222" stroke-width="0.7"/>
<line x1="347.07" y1="170.30" x2="347.07" y2="171.60" stroke="#222" stroke-width="0.7"/>
<line x1="350.98" y1="170.30" x2="350.98" y2="171.60" stroke="#222" stroke-width="0.7"/>
<line x1="354.89" y1="170.30" x2="354.89" y2="171.60" stroke="#222" stroke-width="0.7"/>
<line x1="358.80" y1="170.30" x2="358.80" y2="172.70" stroke="#222" stroke-width="0.7"/>
<line x1="362.71" y1="170.30" x2="362.71" y2="171.60" stroke="#222" stroke-width="0.7"/>
<text x="280.80" y="182.10" font-size="6.4" text-anchor="middle" fill="#353535" font-weight="normal" stroke="#353535" stroke-width="0.18">0</text>
<text x="296.44" y="182.10" font-size="6.4" text-anchor="middle" fill="#353535" font-weight="normal" stroke="#353535" stroke-width="0.18">20</text>
<text x="312.08" y="182.10" font-size="6.4" text-anchor="middle" fill="#353535" font-weight="normal" stroke="#353535" stroke-width="0.18">40</text>
<text x="327.72" y="182.10" font-size="6.4" text-anchor="middle" fill="#353535" font-weight="normal" stroke="#353535" stroke-width="0.18">60</text>
<text x="343.36" y="182.10" font-size="6.4" text-anchor="middle" fill="#353535" font-weight="normal" stroke="#353535" stroke-width="0.18">80</text>
<text x="359.00" y="182.10" font-size="6.4" text-anchor="middle" fill="#353535" font-weight="normal" stroke="#353535" stroke-width="0.18">100</text>
<text x="319.20" y="193.30" font-size="6.9" text-anchor="middle" fill="#353535" font-weight="normal" stroke="#353535" stroke-width="0.18" textLength="19.2" lengthAdjust="spacingAndGlyphs">tSNE-1</text>
<path d="M400.0 113.1h0M404.8 104.1h0M399.6 131.4h0M398.8 122.2h0M399.0 131.8h0M401.1 130.8h0M397.5 113.9h0M392.5 127.8h0M397.2 115.8h0M400.4 119.8h0M394.4 119.5h0M399.0 112.8h0M393.2 127.5h0M394.4 130.6h0M398.2 114.8h0M403.5 130.6h0M404.6 108.3h0M402.7 124.3h0M406.4 110.4h0M394.7 126.0h0M395.0 124.7h0M405.0 109.3h0M402.8 116.1h0M405.3 111.3h0M405.8 106.8h0M398.3 130.9h0M401.9 115.1h0M407.4 111.4h0M403.1 117.3h0M398.6 114.6h0M393.0 123.0h0M400.1 118.8h0M397.3 123.0h0M407.0 102.3h0M400.8 127.8h0M401.0 121.2h0M398.0 120.5h0M403.9 105.6h0M404.7 124.3h0M402.3 124.2h0M406.4 112.1h0M405.5 122.6h0M404.8 110.8h0M397.9 124.4h0M406.8 109.3h0M404.7 106.2h0M404.5 112.7h0M394.3 115.4h0M394.6 123.8h0M397.7 115.8h0M397.3 122.5h0M405.7 125.2h0M400.7 113.8h0M400.8 131.9h0M399.4 118.4h0M401.0 112.0h0M398.7 118.6h0M406.7 115.5h0M401.1 111.4h0M402.1 111.9h0M405.2 109.9h0M403.5 123.8h0M398.1 133.0h0M391.4 124.6h0M396.0 112.4h0M405.6 103.7h0M405.0 107.9h0M392.9 117.4h0M402.3 110.0h0M400.8 125.7h0" stroke="#4a348b" stroke-width="1.45" stroke-linecap="round" fill="none"/>
<path d="M402.0 114.4h0M404.2 120.7h0M386.8 117.9h0M405.4 110.4h0M401.3 118.8h0M406.2 109.2h0M400.2 109.5h0M403.3 127.7h0M394.9 122.8h0M402.2 126.2h0M399.9 108.5h0M402.5 113.8h0M402.0 108.5h0M395.9 118.6h0M400.2 112.7h0M406.4 104.1h0M394.5 121.0h0M408.4 109.5h0M400.7 132.8h0M401.7 111.9h0M402.0 128.5h0M405.7 110.0h0M394.5 115.3h0M402.6 122.9h0M404.1 115.1h0M394.2 127.7h0M402.3 126.2h0M402.3 108.0h0M401.5 116.3h0M398.0 123.0h0M393.9 126.5h0M402.8 117.3h0M401.7 129.3h0M405.1 124.4h0M395.2 118.0h0M399.5 109.8h0M393.3 126.3h0M399.4 127.6h0M395.0 119.4h0M392.4 128.6h0M394.5 128.7h0M404.3 124.6h0M403.4 108.9h0M404.6 102.0h0M404.0 106.2h0M401.9 132.3h0M405.0 129.4h0M393.2 126.4h0M397.7 128.6h0M404.3 102.8h0M403.6 127.7h0M393.5 128.3h0M395.0 126.1h0M406.1 115.8h0M392.8 120.9h0" stroke="#513997" stroke-width="1.45" stroke-linecap="round" fill="none"/>
<path d="M405.2 106.6h0M402.0 119.0h0M400.9 121.8h0M401.4 106.3h0M408.3 105.5h0M402.0 110.4h0M404.7 116.5h0M397.6 121.1h0M402.2 127.3h0M404.0 113.7h0M404.3 111.1h0M400.7 117.1h0M398.3 128.2h0M403.2 131.1h0M402.2 111.1h0M398.3 130.4h0M402.9 106.9h0M396.1 129.0h0M398.6 118.2h0M395.8 114.1h0M394.9 120.9h0M402.0 111.4h0M405.3 114.5h0M401.8 130.7h0M393.6 127.2h0M404.2 107.2h0M392.8 118.0h0M404.7 109.5h0M404.5 115.4h0M396.4 122.6h0M399.8 122.6h0M402.9 113.4h0M401.7 125.8h0M392.6 119.7h0M403.5 110.9h0M399.4 117.4h0M405.3 120.0h0M402.0 128.8h0M395.5 113.9h0M391.6 121.5h0M397.6 129.9h0M393.1 124.2h0M395.2 114.2h0M397.5 130.9h0M399.8 115.5h0M406.4 117.4h0M395.6 128.5h0M398.7 129.0h0M402.0 108.5h0M397.3 117.7h0M399.7 109.2h0M405.1 104.4h0M399.2 113.6h0M403.1 120.2h0M397.0 129.8h0M406.9 112.9h0" stroke="#7a66b3" stroke-width="1.45" stroke-linecap="round" fill="none"/>
<path d="M402.4 114.8h0M391.7 129.1h0M405.0 125.4h0M405.6 108.4h0M404.7 121.8h0M399.0 118.2h0M405.2 115.6h0M395.5 126.1h0M398.0 117.7h0M393.8 125.2h0M391.5 128.0h0M400.4 119.0h0M397.4 131.8h0M405.5 122.6h0M393.8 117.9h0M401.0 113.8h0M399.4 124.1h0M402.3 134.6h0M396.4 113.1h0M397.7 119.7h0M404.5 126.9h0M401.4 112.6h0M403.8 111.6h0M397.5 122.0h0M394.5 125.1h0M400.1 129.2h0M403.8 115.2h0M397.8 120.1h0M404.9 125.1h0M398.1 120.4h0M404.1 127.9h0M397.8 115.2h0M404.8 112.6h0M402.2 122.3h0M402.2 127.4h0M394.9 119.7h0M406.4 118.0h0M399.3 117.9h0M399.8 117.9h0M393.0 121.1h0M399.7 128.4h0M399.0 111.9h0M396.6 126.9h0M399.4 129.3h0M395.7 131.4h0M404.1 114.7h0M400.2 109.1h0M396.3 121.5h0M392.9 126.6h0M402.6 119.1h0M393.0 128.7h0M397.5 111.3h0M401.4 127.1h0M402.6 115.3h0M400.5 114.5h0M401.1 107.5h0M393.0 128.4h0M394.4 130.6h0" stroke="#664fa7" stroke-width="1.45" stroke-linecap="round" fill="none"/>
<path d="M395.7 127.9h0M396.0 113.8h0M405.7 111.1h0M395.1 112.4h0M392.8 116.5h0M399.4 118.3h0M397.7 116.8h0M398.4 118.5h0M403.7 110.5h0M400.1 109.0h0M395.2 116.3h0M402.0 122.5h0M392.7 120.0h0M397.1 115.2h0M394.9 119.2h0M397.8 118.5h0M395.0 115.3h0M405.9 122.9h0M400.9 122.8h0M398.2 110.2h0M405.7 106.4h0M402.9 130.3h0M406.3 109.3h0M394.2 130.7h0M395.3 123.3h0M403.1 128.6h0M391.6 126.5h0M394.2 131.5h0M403.6 129.2h0M404.6 123.4h0M403.4 113.5h0M400.6 117.2h0M399.5 126.7h0M400.4 109.8h0M397.2 110.5h0M403.7 109.2h0M405.4 115.3h0M399.2 120.8h0M392.4 122.5h0M398.7 130.9h0M401.0 126.4h0M392.4 121.9h0M395.5 129.3h0M400.3 106.9h0M401.3 124.2h0M400.5 116.3h0M396.1 124.3h0M397.0 129.5h0M407.3 102.4h0M404.6 129.2h0M401.4 120.0h0M397.8 126.9h0M400.0 128.0h0M394.7 131.0h0M399.7 110.5h0M403.9 128.4h0M399.2 118.2h0M399.6 120.5h0M403.4 104.6h0M405.1 105.7h0M393.3 124.8h0M396.5 116.8h0" stroke="#aa9dce" stroke-width="1.45" stroke-linecap="round" fill="none"/>
<path d="M405.2 106.2h0M396.8 130.0h0M406.0 103.3h0M404.4 116.3h0M398.8 118.8h0M395.1 119.2h0M391.6 122.9h0M403.1 103.4h0M391.0 128.1h0M402.9 131.4h0M405.4 119.5h0M394.9 123.6h0M405.9 110.9h0M392.6 117.3h0M397.9 127.8h0M402.7 125.4h0M395.5 127.1h0M405.6 119.4h0M397.9 118.4h0M404.5 127.8h0M407.5 107.0h0M395.2 118.6h0M402.1 123.2h0M411.3 108.9h0M403.1 121.7h0M394.3 129.1h0M396.0 118.5h0M403.4 129.0h0M406.1 118.1h0M393.2 115.3h0M395.9 118.6h0M406.1 110.4h0M392.8 128.4h0M392.3 117.3h0M405.4 115.5h0M401.5 112.6h0M401.9 125.8h0M394.1 122.8h0M402.6 112.5h0M393.6 129.6h0M396.4 122.5h0M406.3 120.3h0M404.8 121.3h0M401.2 109.3h0M402.8 113.4h0M403.1 119.5h0M400.5 121.7h0M399.1 121.9h0M403.9 118.9h0M394.0 117.1h0M393.5 126.6h0M401.3 119.8h0M400.6 117.2h0M392.4 123.2h0M400.9 112.6h0M404.4 109.8h0M391.6 122.9h0M390.2 124.2h0M404.6 114.5h0M398.1 128.6h0M402.4 111.9h0" stroke="#9080bf" stroke-width="1.45" stroke-linecap="round" fill="none"/>
<path d="M394.4 117.1h0M398.8 112.9h0M405.8 114.4h0M402.7 119.4h0M405.4 124.6h0M399.0 117.6h0M399.7 116.3h0M396.0 124.5h0M400.4 124.1h0M397.0 110.8h0M394.5 114.7h0M397.3 128.7h0M397.0 132.4h0M396.6 128.2h0M399.2 113.8h0M403.6 127.8h0M401.5 131.2h0M396.1 123.7h0M391.9 120.4h0M401.8 116.2h0M395.9 107.5h0M398.9 125.7h0M396.9 125.0h0M394.8 125.9h0M398.1 125.9h0M398.8 127.3h0M404.6 123.6h0M398.9 130.6h0M397.0 121.5h0M405.6 111.9h0M405.0 107.3h0M398.3 130.5h0M400.8 124.9h0M392.5 125.5h0M396.2 130.8h0M402.1 127.6h0M402.1 110.5h0M394.7 121.6h0M395.6 114.7h0M394.2 121.0h0M399.9 124.8h0M399.1 118.7h0M396.3 125.0h0M402.8 108.8h0M397.0 125.8h0M403.6 103.8h0M406.7 112.0h0M403.5 115.0h0M393.0 119.0h0M404.4 128.9h0M403.1 116.3h0M399.2 115.3h0M403.0 127.3h0M406.5 106.7h0M394.9 119.9h0M393.4 115.6h0M401.0 118.4h0M397.1 119.4h0M394.8 124.5h0M401.7 130.4h0" stroke="#553c9e" stroke-width="1.45" stroke-linecap="round" fill="none"/>
<path d="M421.7 103.8h0M410.3 100.6h0M414.6 92.0h0M414.6 97.9h0M415.2 94.6h0M407.6 106.9h0M413.8 110.3h0M410.3 110.7h0M422.6 104.3h0M414.1 100.9h0M418.4 104.8h0M409.6 104.0h0M411.0 92.6h0M408.6 107.9h0M414.6 109.6h0M408.3 102.3h0M414.8 97.3h0M417.6 96.3h0M415.8 108.1h0M409.1 96.0h0M418.0 94.5h0M409.6 98.2h0M418.2 108.2h0M409.9 98.1h0M418.2 108.2h0M418.3 100.9h0M413.8 104.0h0M408.9 95.8h0M421.7 98.8h0M420.2 104.6h0M416.9 103.4h0M416.2 106.7h0M416.8 95.5h0M421.0 106.5h0" stroke="#f5eb55" stroke-width="1.45" stroke-linecap="round" fill="none"/>
<path d="M419.0 103.1h0M419.9 97.8h0M413.0 105.0h0M408.4 105.8h0M410.3 99.3h0M408.3 106.4h0M417.3 103.4h0M417.3 98.3h0M420.6 103.0h0M411.3 105.5h0M418.4 97.1h0M416.6 98.6h0M410.4 95.0h0M412.6 106.9h0M413.6 103.3h0M412.0 103.3h0M410.4 102.6h0M417.6 92.0h0M411.5 102.2h0M412.8 102.8h0M418.0 100.2h0M418.9 98.5h0M412.5 99.4h0M421.4 105.8h0M409.1 106.6h0M422.9 105.0h0M418.0 93.7h0M418.1 94.5h0M417.2 96.7h0M410.4 91.5h0M414.3 110.6h0M409.8 98.6h0M411.6 97.4h0M408.7 107.4h0M414.7 103.2h0M409.8 94.3h0M411.4 94.1h0M413.8 105.6h0M406.0 105.1h0M411.3 103.5h0M414.5 99.6h0" stroke="#f3e626" stroke-width="1.45" stroke-linecap="round" fill="none"/>
<path d="M411.3 100.5h0M417.5 102.0h0M413.6 105.4h0M415.2 100.2h0M420.7 100.8h0M413.6 99.2h0M418.7 95.6h0M413.3 109.4h0M414.5 97.0h0M415.4 92.0h0M409.6 108.9h0M410.1 95.9h0M414.9 99.4h0M407.5 106.4h0M420.6 108.7h0M410.0 108.7h0M419.2 102.9h0M415.7 96.9h0M418.7 105.4h0M416.0 106.4h0M408.9 103.7h0M409.7 106.2h0M408.1 103.3h0M421.5 101.5h0M421.9 100.0h0M416.8 89.5h0M418.8 93.0h0M407.0 106.9h0M410.5 97.0h0M415.6 103.4h0M413.3 103.6h0M419.5 99.1h0M419.7 94.0h0M412.6 90.2h0M411.1 97.7h0M412.9 91.9h0M417.4 101.1h0M412.1 99.5h0M419.5 98.6h0M412.4 96.7h0M418.8 106.9h0M413.6 97.0h0M407.1 103.5h0M415.1 92.0h0M419.9 94.4h0M421.7 106.1h0" stroke="#d5ca21" stroke-width="1.45" stroke-linecap="round" fill="none"/>
<path d="M405.9 102.9h0M418.2 107.2h0M409.6 106.2h0M415.3 92.6h0M406.7 105.2h0M416.4 97.6h0M417.0 101.8h0M408.4 108.9h0M414.7 111.5h0M421.6 100.2h0M414.7 103.4h0M418.0 97.3h0M418.2 97.1h0M409.1 101.9h0M409.3 96.4h0M415.3 99.0h0M417.0 91.6h0M414.3 91.4h0M420.1 102.6h0M415.5 95.4h0M409.2 99.0h0M411.7 108.5h0M410.8 99.9h0M413.5 107.6h0M418.3 107.1h0M409.8 96.6h0M410.3 102.8h0M413.2 101.0h0M415.8 97.4h0M407.4 98.3h0M419.3 101.2h0M420.3 99.6h0M415.9 103.3h0M411.9 106.2h0M408.4 103.2h0M416.9 107.4h0M409.2 92.8h0M416.5 101.7h0M412.3 106.6h0M409.0 107.7h0M408.8 96.7h0M407.4 99.2h0M413.9 92.3h0M418.2 91.2h0M416.7 98.3h0M419.1 94.5h0M417.1 103.9h0M418.3 98.2h0M416.5 91.7h0M409.0 105.2h0M420.1 95.2h0M413.6 105.5h0M419.8 101.0h0M413.7 89.3h0M413.2 93.0h0M412.8 96.6h0M412.3 103.1h0M411.1 104.9h0" stroke="#f9f292" stroke-width="1.45" stroke-linecap="round" fill="none"/>
<path d="M419.0 93.8h0M411.0 108.3h0M418.5 104.5h0M415.1 90.4h0M421.8 107.1h0M410.6 104.9h0M421.0 108.0h0M412.3 99.9h0M406.9 103.8h0M420.5 104.2h0M407.5 106.4h0M420.3 108.7h0M414.9 98.2h0M420.4 94.3h0M406.2 99.2h0M405.4 101.1h0M415.4 100.7h0M409.4 102.1h0M409.9 106.0h0M419.9 107.7h0M420.1 96.9h0M421.6 103.6h0M416.7 103.1h0M414.8 108.7h0M411.0 97.1h0M412.4 97.6h0M406.1 100.7h0M419.7 97.0h0M412.9 108.4h0M408.5 96.0h0M415.7 100.3h0M407.2 102.8h0M409.6 105.4h0M417.6 102.5h0M420.3 100.3h0M410.2 113.2h0M407.8 103.5h0M417.5 101.7h0M413.3 95.2h0M407.7 100.4h0M415.8 92.8h0M420.5 102.0h0M416.1 108.2h0M407.0 103.8h0M414.9 103.9h0M409.6 102.6h0M416.5 90.2h0M410.6 106.6h0M419.8 98.5h0M416.7 94.0h0M420.7 107.8h0M411.0 96.5h0M419.8 108.7h0M408.2 99.0h0M414.5 111.4h0M410.5 100.0h0M416.0 109.9h0M408.5 106.1h0" stroke="#e9dc24" stroke-width="1.45" stroke-linecap="round" fill="none"/>
<path d="M417.4 95.9h0M408.2 106.1h0M422.0 105.9h0M416.7 97.3h0M419.3 95.9h0M418.3 99.1h0M413.4 103.2h0M414.4 104.5h0M409.8 105.4h0M418.1 91.8h0M418.4 107.0h0M420.8 103.6h0M415.3 100.3h0M418.3 105.1h0M406.9 103.7h0M411.4 92.9h0M419.1 97.0h0M413.9 97.2h0M420.4 101.3h0M421.3 108.0h0M419.3 108.7h0M419.2 94.6h0M422.7 104.8h0M415.2 93.5h0M409.6 102.5h0M409.7 108.0h0M422.1 97.3h0M416.5 107.1h0M412.8 101.0h0M409.6 98.9h0M418.8 91.6h0M416.3 90.1h0M413.1 92.7h0M411.9 104.9h0M410.5 98.9h0M411.2 108.9h0M415.6 98.0h0M411.5 109.4h0M418.9 91.2h0M409.3 94.6h0M415.9 104.5h0M411.3 107.6h0" stroke="#f4e83b" stroke-width="1.45" stroke-linecap="round" fill="none"/>
<path d="M419.0 108.3h0M409.2 108.1h0M413.6 98.8h0M416.8 105.3h0M418.0 101.0h0M414.3 99.1h0M413.7 105.2h0M411.9 105.6h0M407.4 104.1h0M419.3 107.5h0M416.6 108.2h0M414.0 97.5h0M415.6 103.5h0M418.1 105.5h0M416.5 102.6h0M408.9 110.1h0M418.2 94.8h0M420.2 101.3h0M418.6 102.5h0M410.0 99.2h0M416.9 99.2h0M408.9 104.8h0M415.6 96.7h0M414.5 95.7h0M417.9 102.2h0M414.3 94.5h0M408.3 101.1h0M410.4 105.4h0M418.3 96.7h0M417.1 110.5h0M411.7 108.0h0M421.2 95.4h0M418.3 93.3h0M417.7 108.9h0M411.5 105.6h0M411.4 108.5h0M423.5 98.9h0M413.4 91.8h0M414.6 110.4h0M411.9 96.6h0" stroke="#f7ee71" stroke-width="1.45" stroke-linecap="round" fill="none"/>
<path d="M427.8 92.3h0M428.7 94.5h0M425.7 106.9h0M427.2 94.4h0M420.0 105.5h0M425.6 100.3h0M430.6 94.9h0M423.1 103.8h0M426.1 100.6h0M423.6 108.5h0M425.3 98.5h0M424.0 103.3h0M421.9 106.9h0M424.2 103.0h0M425.8 104.0h0M424.7 96.8h0M422.4 107.6h0M426.9 94.1h0M426.3 96.1h0" stroke="#6d7171" stroke-width="1.45" stroke-linecap="round" fill="none"/>
<path d="M425.0 99.5h0M428.9 90.2h0M420.9 110.0h0M424.6 106.6h0M419.1 104.5h0M425.2 103.7h0M426.7 101.9h0M427.6 93.4h0M428.3 95.4h0M423.2 108.7h0M428.3 95.4h0M422.5 102.8h0M422.9 107.9h0M428.3 92.3h0M425.6 96.3h0M431.0 94.5h0M431.4 90.8h0M422.7 103.2h0M423.0 109.6h0M423.0 104.6h0" stroke="#b8baba" stroke-width="1.45" stroke-linecap="round" fill="none"/>
<path d="M423.9 107.5h0M428.1 91.9h0M424.6 101.7h0M429.0 99.6h0M430.5 91.8h0M426.1 93.6h0M425.9 94.4h0M423.2 97.7h0M425.3 98.6h0M420.8 102.4h0M421.6 102.6h0M424.9 96.0h0M422.6 104.4h0M424.7 102.9h0M425.0 94.2h0M429.1 97.3h0M425.1 105.2h0M426.3 94.6h0" stroke="#646767" stroke-width="1.45" stroke-linecap="round" fill="none"/>
<path d="M428.1 96.4h0M427.2 97.5h0M427.7 99.3h0M427.3 101.3h0M423.4 96.5h0M427.4 102.2h0M423.2 99.0h0M422.4 106.7h0M422.5 101.7h0M425.8 106.9h0M429.5 93.9h0M421.1 104.5h0M423.1 106.2h0M424.8 101.8h0M430.4 92.8h0M421.7 104.5h0" stroke="#a3a5a5" stroke-width="1.45" stroke-linecap="round" fill="none"/>
<path d="M425.4 101.2h0M428.2 97.1h0M429.5 91.8h0M424.8 94.9h0M426.0 93.8h0M427.3 101.5h0M421.8 108.0h0M424.6 93.5h0M428.2 97.6h0M425.5 94.7h0M424.0 106.7h0M424.9 102.8h0M423.7 105.8h0M430.2 97.2h0M429.1 91.7h0M425.7 101.5h0M427.6 101.7h0M420.8 108.3h0M429.0 95.9h0M424.9 103.3h0M430.0 93.3h0" stroke="#919494" stroke-width="1.45" stroke-linecap="round" fill="none"/>
<path d="M430.0 98.1h0M424.9 104.9h0M430.7 92.9h0M427.6 98.7h0M420.8 106.6h0M420.4 106.6h0M422.4 106.0h0M425.1 95.9h0M420.6 103.4h0M420.1 106.1h0M421.9 104.9h0M424.1 101.2h0M426.2 104.5h0M429.9 97.3h0M422.1 102.6h0M425.8 98.4h0M421.8 108.4h0M424.2 108.3h0M422.8 107.0h0M421.8 107.6h0M421.3 106.1h0M426.0 94.8h0M423.3 106.1h0M420.7 105.8h0M430.8 93.2h0" stroke="#808383" stroke-width="1.45" stroke-linecap="round" fill="none"/>
<path d="M428.1 100.3h0M424.4 97.5h0M428.8 98.9h0M419.4 104.1h0M428.6 94.3h0M423.8 99.8h0M425.9 98.6h0M420.7 104.4h0M428.9 95.5h0M428.3 100.9h0M428.6 102.4h0M424.9 100.9h0M425.6 98.2h0M425.0 104.7h0M426.2 100.7h0M425.2 97.3h0M428.3 97.9h0M428.2 95.1h0M424.9 99.9h0" stroke="#727676" stroke-width="1.45" stroke-linecap="round" fill="none"/>
<path d="M409.4 122.4h0M421.0 111.8h0M415.0 119.8h0M408.7 114.6h0M427.1 108.7h0M407.4 114.6h0M414.3 115.7h0M413.9 119.3h0M423.1 116.2h0M409.8 123.6h0M423.1 110.8h0M415.9 113.3h0M426.5 109.0h0M421.8 109.9h0M411.0 115.9h0M412.4 122.2h0M407.4 124.4h0M406.7 120.7h0M417.5 119.0h0M407.0 119.3h0M418.3 112.6h0M408.5 118.8h0M404.9 128.0h0M427.2 108.4h0M410.3 117.9h0M414.8 117.0h0M408.2 123.2h0M411.3 121.1h0M420.1 113.4h0M409.4 118.9h0M418.2 120.7h0M422.9 122.5h0M407.7 123.2h0M419.8 120.3h0M413.8 124.2h0M422.9 117.2h0M426.4 111.8h0M419.1 120.9h0M415.3 118.6h0M418.2 113.8h0M424.9 113.7h0M416.9 111.1h0M419.4 115.0h0M412.6 118.1h0M407.3 121.9h0M418.6 115.7h0M408.2 119.7h0M414.4 115.0h0M422.7 113.3h0M417.0 121.6h0M413.8 114.5h0M412.6 118.0h0M416.9 119.7h0M410.6 121.7h0M410.6 118.6h0M422.6 118.6h0M407.6 117.9h0" stroke="#288c8e" stroke-width="1.45" stroke-linecap="round" fill="none"/>
<path d="M416.4 114.2h0M415.7 119.1h0M411.4 123.3h0M404.4 123.4h0M422.9 117.8h0M411.1 122.1h0M428.6 114.1h0M415.4 121.0h0M423.9 109.5h0M413.5 121.0h0M405.6 120.1h0M416.6 122.5h0M405.2 122.5h0M421.3 115.1h0M427.9 111.5h0M415.8 117.3h0M419.9 110.0h0M412.1 113.4h0M409.4 115.8h0M414.5 111.9h0M408.9 116.1h0M409.9 116.5h0M417.1 120.6h0M419.2 118.9h0M427.2 109.3h0M412.3 123.4h0M409.9 115.3h0M408.5 120.5h0M410.2 121.7h0M415.4 118.5h0M404.7 120.8h0M410.0 116.5h0M415.4 123.1h0M403.0 122.8h0M410.2 116.4h0M419.7 117.1h0M408.0 121.6h0M415.5 119.4h0M414.9 113.0h0M416.4 119.4h0" stroke="#77c1c2" stroke-width="1.45" stroke-linecap="round" fill="none"/>
<path d="M414.6 116.5h0M415.3 115.6h0M408.9 120.7h0M419.8 113.8h0M427.8 112.5h0M405.7 125.5h0M408.7 122.1h0M421.3 109.9h0M408.0 124.0h0M410.2 117.1h0M416.7 121.5h0M415.9 113.6h0M422.1 115.8h0M406.0 127.1h0M411.6 117.4h0M426.1 109.7h0M404.6 127.0h0M423.5 114.2h0M417.2 118.8h0M419.9 113.6h0M409.8 117.6h0M404.6 123.1h0M405.1 123.9h0M406.8 126.3h0M413.0 115.6h0M409.9 125.3h0M416.5 113.2h0M418.8 113.1h0M413.9 118.7h0M416.1 119.3h0M405.2 120.0h0M420.4 110.2h0M410.3 124.6h0M407.0 125.4h0M421.2 117.6h0M411.7 122.3h0M416.7 113.2h0M412.7 120.1h0M412.2 124.6h0M405.6 121.7h0M410.0 127.0h0M407.9 119.9h0M424.1 108.5h0" stroke="#5bb4b6" stroke-width="1.45" stroke-linecap="round" fill="none"/>
<path d="M417.0 121.0h0M409.2 124.0h0M414.6 120.0h0M405.6 118.5h0M406.6 120.8h0M410.2 118.5h0M418.5 119.5h0M411.9 125.5h0M423.9 113.2h0M408.7 119.8h0M411.2 113.8h0M404.4 122.6h0M412.1 124.9h0M421.5 117.4h0M409.0 118.4h0M417.2 116.4h0M412.8 115.2h0M406.7 128.2h0M421.9 113.1h0M415.9 122.1h0M424.0 110.2h0M421.5 112.5h0M408.9 121.1h0M415.7 119.1h0M414.0 114.4h0M422.4 116.3h0M412.5 113.3h0M426.5 110.8h0M406.7 117.8h0M405.4 123.6h0M427.7 112.1h0M420.2 117.8h0M409.8 124.6h0M404.7 120.2h0M410.8 128.0h0M413.4 124.1h0M420.4 114.8h0M415.7 118.9h0M408.0 115.7h0M405.5 124.2h0M418.6 109.7h0M408.8 121.8h0M419.3 119.6h0M407.5 122.8h0M410.7 118.4h0" stroke="#2ea0a2" stroke-width="1.45" stroke-linecap="round" fill="none"/>
<path d="M416.9 115.3h0M424.4 109.3h0M409.7 123.2h0M420.9 116.9h0M402.9 118.9h0M415.5 116.6h0M414.6 118.9h0M409.1 121.4h0M408.0 118.4h0M410.3 117.5h0M421.7 111.5h0M403.3 122.5h0M418.1 117.7h0M413.5 116.0h0M412.9 117.1h0M409.4 119.7h0M423.3 114.3h0M405.5 121.6h0M412.8 113.9h0M403.7 118.0h0M405.1 125.6h0M421.4 118.3h0M409.1 113.9h0M411.5 119.2h0M404.6 125.8h0M404.3 124.5h0M424.9 116.0h0M423.0 111.7h0M407.1 126.4h0M410.7 120.9h0M418.5 111.6h0M414.0 119.5h0M408.3 124.4h0M406.3 128.0h0M428.5 109.9h0M408.6 125.5h0M410.7 124.9h0M405.2 123.2h0M418.6 116.5h0M421.4 114.8h0M415.0 112.3h0M425.8 110.0h0M404.1 118.0h0M404.2 126.1h0M406.1 126.0h0M414.5 113.2h0M411.9 125.8h0" stroke="#42a9ab" stroke-width="1.45" stroke-linecap="round" fill="none"/>
<path d="M419.8 113.7h0M411.4 121.6h0M422.2 112.5h0M417.1 115.8h0M418.8 111.1h0M409.0 120.4h0M425.1 113.5h0M409.9 123.0h0M416.0 118.8h0M415.5 114.4h0M405.2 121.3h0M420.6 114.3h0M427.0 108.2h0M411.9 125.3h0M416.9 113.4h0M414.4 122.0h0M414.0 123.3h0M418.2 116.0h0M403.5 122.7h0M408.8 114.3h0M406.2 118.3h0M418.9 118.5h0M414.9 118.9h0M410.1 113.9h0M412.9 115.7h0M405.4 116.7h0M409.4 122.7h0M404.1 125.0h0M411.9 117.1h0M415.6 113.4h0M416.3 115.4h0M415.6 121.3h0M418.1 114.8h0M420.4 116.6h0M424.9 115.1h0M420.8 109.9h0M405.4 125.6h0M405.2 118.6h0M414.2 113.8h0M409.3 116.9h0M408.0 125.2h0M413.4 118.4h0M425.5 112.8h0M416.9 120.5h0M409.2 120.5h0M420.8 110.3h0M419.8 109.5h0M414.8 110.8h0" stroke="#2c999b" stroke-width="1.45" stroke-linecap="round" fill="none"/>
<path d="M423.0 114.5h0M421.2 114.0h0M421.0 114.1h0M410.4 115.1h0M427.2 113.1h0M415.5 121.4h0M406.6 118.4h0M404.6 122.6h0M413.3 116.3h0M409.8 116.9h0M410.6 112.0h0M424.7 110.1h0M415.8 118.9h0M412.4 112.4h0M414.2 117.3h0M421.2 116.2h0M417.7 114.0h0M426.4 107.5h0M418.9 112.0h0M408.7 120.1h0M417.8 119.9h0M418.8 117.8h0M418.2 113.1h0M410.4 116.5h0M409.6 121.5h0M423.3 114.8h0M410.2 118.8h0M420.4 116.6h0M419.4 117.6h0M412.6 115.4h0M426.0 114.3h0M420.0 112.3h0M408.0 118.2h0M416.4 112.8h0M423.4 110.2h0M405.3 118.0h0M406.2 125.2h0M411.5 123.8h0M408.7 127.6h0" stroke="#96cfd0" stroke-width="1.45" stroke-linecap="round" fill="none"/>
<path d="M439.9 99.5h0M442.8 96.1h0M442.9 98.6h0M445.3 95.7h0M443.7 99.9h0M439.3 99.4h0M440.5 96.6h0M442.1 98.1h0M440.2 95.6h0M445.0 101.0h0M437.0 96.1h0M441.9 98.4h0M440.3 94.4h0M436.7 96.2h0M440.1 95.0h0M438.4 100.1h0" stroke="#7c3090" stroke-width="1.45" stroke-linecap="round" fill="none"/>
<path d="M436.8 95.5h0M445.3 100.4h0M440.8 100.8h0M441.7 100.6h0M444.5 101.5h0M445.6 98.9h0M436.0 97.8h0M436.8 94.8h0M444.2 100.7h0M440.5 95.3h0M446.4 98.3h0M444.0 99.6h0M439.8 98.0h0M443.9 97.0h0M438.9 95.8h0" stroke="#985da8" stroke-width="1.45" stroke-linecap="round" fill="none"/>
<path d="M439.3 100.4h0M444.3 96.8h0M445.8 96.2h0M440.7 100.4h0M439.0 99.8h0M439.6 95.6h0M446.6 98.8h0M441.5 93.6h0M442.5 97.4h0M437.2 94.9h0M444.0 98.3h0M440.2 98.3h0M443.5 100.3h0M445.1 100.8h0M439.3 95.5h0M443.0 95.8h0" stroke="#89449b" stroke-width="1.45" stroke-linecap="round" fill="none"/>
<path d="M436.1 95.8h0M442.5 95.6h0M440.8 96.2h0M441.4 101.6h0M440.2 96.4h0M440.7 94.3h0M445.1 99.0h0M444.8 96.6h0" stroke="#6d2a7e" stroke-width="1.45" stroke-linecap="round" fill="none"/>
<path d="M444.4 102.5h0M439.2 100.2h0M439.6 96.2h0M442.6 99.0h0M441.0 99.0h0M436.6 97.6h0M444.1 96.7h0M443.4 96.9h0M441.2 95.7h0M439.5 95.3h0M444.4 100.9h0" stroke="#bd97c7" stroke-width="1.45" stroke-linecap="round" fill="none"/>
<path d="M445.8 99.6h0M440.1 94.0h0M439.5 97.4h0M443.1 99.4h0M441.7 94.7h0M439.6 96.7h0M443.5 100.9h0M440.0 96.8h0M443.0 93.9h0M444.8 97.1h0M436.6 93.7h0M440.0 93.8h0M438.7 99.9h0M441.5 97.7h0M442.1 99.0h0M440.2 96.5h0M440.4 96.8h0" stroke="#a978b6" stroke-width="1.45" stroke-linecap="round" fill="none"/>
<path d="M440.2 99.7h0M438.6 94.9h0M439.3 99.5h0M440.4 93.1h0M445.4 95.7h0M444.7 95.2h0M441.0 99.3h0M438.6 100.0h0M437.9 97.0h0M438.7 98.3h0" stroke="#772e8a" stroke-width="1.45" stroke-linecap="round" fill="none"/>
<path d="M449.4 115.3h0M449.4 115.1h0M444.4 105.1h0M447.2 102.3h0M446.0 113.3h0M454.0 107.5h0M449.5 111.1h0M441.6 111.2h0M446.2 115.2h0M454.2 106.6h0M444.6 108.7h0M446.7 103.2h0M444.2 101.9h0M449.0 104.3h0M450.0 105.1h0M450.3 107.7h0M447.6 108.6h0M453.0 111.7h0M449.8 110.9h0M441.1 108.8h0M446.4 107.8h0M444.9 102.9h0M455.0 105.7h0M452.8 107.4h0M440.4 106.5h0M450.3 114.7h0M448.2 111.6h0M449.9 106.6h0M447.5 116.0h0" stroke="#d6d7dd" stroke-width="1.45" stroke-linecap="round" fill="none"/>
<path d="M452.7 113.4h0M443.7 111.5h0M445.9 103.5h0M450.7 102.6h0M447.8 102.5h0M445.5 112.1h0M451.6 107.4h0M440.9 108.9h0M444.7 109.9h0M452.3 108.1h0M445.5 110.0h0M445.4 107.3h0M447.4 106.8h0M451.0 109.6h0M445.9 100.8h0M451.4 104.8h0M446.4 104.9h0M446.5 108.3h0M449.3 114.1h0M449.6 113.2h0M445.6 109.0h0" stroke="#dbdce2" stroke-width="1.45" stroke-linecap="round" fill="none"/>
<path d="M442.5 108.7h0M452.1 105.8h0M445.0 109.4h0M450.3 101.7h0M453.2 102.3h0M453.4 107.0h0M454.2 104.8h0M448.8 104.0h0M446.5 108.7h0M445.7 111.5h0M451.3 110.6h0M447.9 110.4h0M447.9 108.5h0M453.1 103.2h0M446.7 109.6h0M442.3 105.6h0M449.6 104.5h0M446.0 113.2h0M444.1 105.0h0M449.4 113.4h0M444.5 110.2h0M454.5 110.2h0M447.6 107.6h0M453.9 103.4h0M442.1 111.3h0M449.9 104.6h0M442.9 105.3h0M450.8 102.4h0M448.3 110.4h0M452.8 108.5h0M453.9 109.3h0M441.7 111.0h0M449.5 101.2h0M443.6 110.9h0M443.1 109.5h0M441.4 107.3h0M448.7 103.0h0M453.7 109.5h0M450.9 106.6h0M445.0 106.7h0M445.7 103.0h0M448.6 101.7h0M449.5 112.6h0" stroke="#c9cad1" stroke-width="1.45" stroke-linecap="round" fill="none"/>
<path d="M444.5 110.7h0M445.7 105.3h0M453.1 103.5h0M448.2 113.1h0M453.0 103.7h0M455.0 105.1h0M451.6 112.9h0M451.5 107.3h0M452.7 108.8h0M452.8 102.2h0M443.4 111.9h0M447.9 100.2h0M444.9 108.6h0M449.4 106.8h0M451.8 108.5h0M452.8 104.7h0M451.2 106.3h0M446.5 102.0h0M443.9 112.8h0M455.8 105.4h0M441.7 105.8h0M455.5 104.8h0M447.3 111.3h0" stroke="#e8e9ec" stroke-width="1.45" stroke-linecap="round" fill="none"/>
<path d="M445.7 112.7h0M445.9 109.3h0M450.6 107.4h0M447.1 110.3h0M446.0 105.0h0M442.3 106.9h0M450.0 108.5h0M452.0 109.2h0M441.4 104.3h0M448.8 116.2h0M455.6 106.3h0M441.0 107.5h0M450.6 110.2h0M445.5 112.9h0M441.7 111.6h0M449.1 116.5h0M450.1 105.3h0M441.6 110.9h0M440.8 111.5h0M455.6 106.3h0M449.2 101.5h0M440.7 109.2h0M447.8 106.3h0M443.3 104.0h0M449.0 107.1h0M447.1 109.1h0" stroke="#b8b9bf" stroke-width="1.45" stroke-linecap="round" fill="none"/>
<path d="M449.2 109.6h0M447.8 107.0h0M445.3 107.6h0M451.0 103.8h0M444.3 109.6h0M446.2 102.0h0M446.7 103.2h0M450.9 112.5h0M451.0 113.6h0M454.2 107.5h0M451.4 106.0h0M449.0 107.1h0M455.3 106.2h0M449.0 110.9h0M451.1 103.8h0M447.7 99.4h0M454.7 108.7h0M448.5 112.1h0M453.2 108.9h0M449.4 101.1h0M452.4 103.4h0M445.8 113.4h0M451.8 110.2h0M449.3 104.8h0M449.7 105.4h0M446.6 108.4h0M442.7 110.6h0M450.9 107.7h0M449.1 104.6h0M440.7 109.6h0M447.2 113.9h0M443.8 112.7h0" stroke="#d2d3da" stroke-width="1.45" stroke-linecap="round" fill="none"/>
<path d="M449.5 111.5h0M441.8 104.2h0M451.8 110.6h0M447.0 105.5h0M452.8 110.6h0M442.2 110.7h0M442.1 109.0h0M453.5 109.4h0M450.4 105.5h0M442.7 110.5h0M441.2 111.3h0M450.3 103.6h0M451.8 113.3h0M452.2 105.5h0M447.1 112.0h0M443.5 106.1h0M440.1 109.6h0M452.7 106.9h0M446.4 108.6h0M444.3 105.7h0M442.6 109.4h0M448.2 104.0h0M444.0 107.7h0M451.8 104.3h0M446.0 102.2h0M451.8 104.1h0M447.0 102.5h0M442.5 108.2h0M445.2 114.8h0M450.0 116.3h0" stroke="#e1e2e6" stroke-width="1.45" stroke-linecap="round" fill="none"/>
<path d="M461.9 117.0h0M460.8 111.8h0M454.4 106.7h0M464.1 108.8h0M469.8 122.6h0M464.3 118.9h0M463.6 128.2h0M453.7 122.2h0M457.2 131.1h0M455.8 107.6h0M454.4 115.7h0M466.2 108.3h0M456.1 129.2h0M453.1 109.9h0M456.4 128.9h0M457.6 115.8h0M460.2 134.5h0M459.5 124.3h0M458.5 131.0h0M456.3 108.8h0M455.4 105.7h0M454.7 111.7h0M459.4 120.0h0M456.2 107.4h0M448.5 112.6h0M456.2 105.2h0M458.8 105.5h0M459.7 105.0h0M453.3 106.5h0M460.6 108.5h0M457.9 110.5h0M449.2 120.4h0M469.3 112.4h0M448.6 119.0h0M450.3 119.0h0M456.3 110.9h0M469.1 111.4h0M466.2 118.9h0M467.8 106.5h0M463.7 116.4h0M462.0 129.3h0M452.7 126.3h0M458.5 103.2h0M466.9 122.0h0M449.8 120.0h0M461.5 117.6h0M453.3 112.4h0M460.1 131.8h0M451.4 125.2h0M458.5 117.6h0M467.7 118.7h0M464.1 124.7h0M467.0 127.7h0M463.8 125.6h0M465.3 131.8h0M463.1 112.1h0M469.0 114.2h0M450.9 112.3h0M464.6 116.3h0M459.1 128.4h0M462.4 108.3h0M457.3 111.3h0M457.9 103.5h0M447.3 117.1h0M462.7 116.1h0M453.6 115.5h0M468.4 120.7h0M457.6 123.0h0M463.7 128.3h0M451.7 113.4h0M467.2 128.5h0M452.1 120.2h0M460.0 117.0h0M456.1 125.1h0M454.9 129.5h0M459.0 106.1h0M457.7 130.7h0M449.9 117.7h0M468.7 113.3h0M457.6 117.8h0M450.8 116.9h0M456.3 128.2h0M467.8 114.3h0M463.1 103.2h0M461.5 107.7h0M463.6 110.0h0M463.5 105.5h0M452.9 107.3h0M454.5 114.3h0M465.3 108.3h0M452.0 121.6h0M461.7 110.2h0M454.3 127.9h0M464.7 130.8h0M450.9 118.2h0M460.7 112.2h0M459.8 127.2h0M456.8 119.4h0M455.3 110.4h0M456.7 105.5h0M469.6 112.4h0M458.1 110.1h0" stroke="#eae220" stroke-width="1.45" stroke-linecap="round" fill="none"/>
<path d="M463.3 117.2h0M458.9 125.2h0M456.8 102.6h0M452.0 125.5h0M466.4 131.0h0M451.5 125.8h0M455.9 120.3h0M449.0 118.8h0M467.0 108.2h0M462.6 104.8h0M453.8 129.9h0M456.8 133.0h0M468.1 128.6h0M469.2 128.8h0M470.8 119.8h0M462.7 127.1h0M462.5 110.5h0M455.4 121.7h0M454.2 104.1h0M457.4 124.6h0M451.2 112.3h0M461.4 123.0h0M453.1 125.0h0M463.1 109.4h0M455.5 129.8h0M459.5 114.2h0M459.7 119.2h0M454.1 124.6h0M454.6 111.9h0M459.1 107.6h0M462.0 103.1h0M452.4 122.5h0M467.1 113.8h0M464.0 103.3h0M468.3 109.3h0M453.6 126.3h0M463.3 107.2h0M461.5 119.5h0M459.4 122.4h0M451.5 108.9h0M456.7 110.0h0M456.1 114.9h0M452.0 129.4h0M458.9 123.8h0M453.8 131.2h0M458.0 107.6h0M458.7 111.1h0M467.9 129.9h0M468.3 119.3h0M457.7 124.0h0M465.9 106.3h0M468.3 117.7h0M468.9 117.4h0M465.4 113.3h0M455.8 132.0h0M464.3 121.0h0M463.9 126.7h0M467.2 114.8h0M463.1 110.1h0M450.1 111.2h0M465.0 128.3h0M469.0 115.2h0M459.7 121.8h0M467.7 124.9h0M460.6 108.4h0M464.3 128.8h0M454.8 105.6h0M457.9 131.0h0M463.5 115.1h0M454.0 108.3h0M465.6 114.1h0M455.1 116.6h0M461.4 118.6h0M459.5 110.6h0M461.7 125.3h0M462.2 109.8h0M453.7 118.6h0M454.2 126.4h0M453.2 108.5h0M458.5 133.3h0M459.7 127.0h0M460.7 107.7h0M463.2 133.8h0M453.5 115.6h0M455.6 117.1h0M457.7 105.2h0M452.7 118.9h0M453.7 121.0h0M455.0 124.0h0M463.8 133.1h0M450.8 118.1h0M464.4 124.7h0M466.9 125.3h0M469.9 126.3h0" stroke="#d6cf1d" stroke-width="1.45" stroke-linecap="round" fill="none"/>
<path d="M467.8 120.9h0M457.2 109.3h0M457.0 132.1h0M469.5 126.2h0M463.1 102.7h0M454.2 126.2h0M466.1 122.0h0M464.0 117.9h0M456.3 110.2h0M452.6 123.9h0M455.1 126.5h0M464.2 114.7h0M465.7 128.4h0M459.8 103.3h0M460.9 108.0h0M467.5 114.9h0M457.6 108.6h0M464.2 130.3h0M465.6 111.3h0M466.5 124.2h0M463.8 129.2h0M448.0 114.3h0M459.0 118.1h0M468.8 123.2h0M450.1 112.0h0M457.5 112.5h0M454.6 107.2h0M452.0 128.8h0M465.0 131.1h0M459.4 119.4h0M458.3 112.1h0M447.9 121.8h0M452.5 116.8h0M461.3 121.4h0M459.9 125.3h0M458.6 117.2h0M448.5 118.3h0M466.8 128.8h0M449.1 121.9h0M460.3 131.7h0M452.8 106.4h0M464.8 129.6h0M455.2 120.0h0M458.3 125.2h0M456.2 115.5h0M454.6 112.1h0M464.7 117.6h0M467.5 107.9h0M464.8 105.5h0M458.1 116.5h0M461.0 118.3h0M465.3 104.6h0M465.4 128.8h0M457.0 108.7h0M456.7 108.5h0M457.6 127.6h0M468.7 110.5h0M463.0 106.3h0M456.5 121.7h0M458.8 131.4h0M452.6 125.3h0M460.8 111.0h0M465.1 121.5h0M457.0 121.3h0M463.7 109.4h0M454.5 129.6h0M463.6 107.5h0M454.7 133.3h0M453.8 117.0h0M464.8 117.9h0M465.5 113.2h0M468.9 125.7h0M463.0 122.3h0M452.0 119.5h0M457.0 113.5h0M461.1 107.5h0M459.0 124.5h0M465.0 126.8h0M453.1 111.6h0M465.8 111.6h0M465.3 108.7h0M454.9 118.4h0M459.2 122.4h0M459.6 119.3h0M468.7 117.7h0M463.7 105.2h0M458.7 110.8h0M468.1 114.8h0M463.9 105.8h0M464.7 131.6h0M450.2 119.4h0M466.8 109.8h0M469.2 118.9h0M458.5 106.0h0M457.4 120.3h0M459.8 128.9h0M459.4 109.4h0M455.9 108.2h0M466.1 127.6h0M456.6 123.6h0M463.7 113.2h0M457.8 125.6h0M459.9 113.8h0M449.9 120.8h0M468.7 116.3h0" stroke="#f4ec22" stroke-width="1.45" stroke-linecap="round" fill="none"/>
<path d="M456.6 116.2h0M465.4 108.0h0M456.2 103.1h0M467.5 118.1h0M463.4 121.4h0M455.8 109.0h0M449.4 118.1h0M454.4 121.3h0M458.0 121.9h0M456.9 118.6h0M465.6 122.1h0M466.0 115.7h0M455.6 130.1h0M463.5 122.1h0M454.4 110.2h0M451.7 113.4h0M465.3 135.3h0M457.4 130.5h0M451.0 110.4h0M468.3 116.5h0M457.6 105.1h0M457.7 103.6h0M462.7 110.4h0M451.5 109.7h0M458.5 132.6h0M457.7 107.9h0M460.6 134.4h0M466.0 109.0h0M453.1 129.1h0M452.9 109.9h0M449.9 111.9h0M467.6 112.2h0M453.9 106.5h0M453.9 116.9h0M459.4 115.0h0M455.7 114.8h0M451.9 120.3h0M455.3 102.1h0M460.8 123.4h0M457.5 118.9h0M454.4 104.6h0M460.9 111.0h0M468.9 112.3h0M466.3 126.2h0M448.7 114.1h0M460.4 133.0h0M458.1 109.3h0M453.9 121.1h0M467.0 122.8h0M470.2 122.6h0M467.7 130.3h0M451.6 122.7h0M465.8 133.3h0M463.0 125.6h0M462.4 114.3h0M453.6 125.0h0M450.7 115.0h0M468.4 124.3h0M452.2 124.9h0M459.9 113.9h0M458.7 103.2h0M457.2 127.7h0M466.0 113.4h0M450.2 113.0h0M470.1 124.2h0M459.0 121.6h0M462.5 124.0h0M469.4 117.0h0M453.5 116.1h0M458.8 114.9h0M461.7 124.9h0M457.2 109.9h0M457.2 105.4h0M458.4 133.3h0M465.3 104.9h0M460.2 107.5h0M449.7 117.5h0M466.8 126.0h0M452.7 122.7h0M456.5 102.5h0M466.4 124.8h0M459.0 129.5h0M454.2 117.1h0M454.9 116.1h0M458.7 119.5h0M454.9 112.9h0M456.0 129.8h0M461.1 127.9h0M456.1 125.3h0M450.9 114.8h0M453.0 113.9h0M467.1 108.7h0M454.6 119.3h0M466.9 129.8h0M460.8 112.4h0M453.9 105.7h0M466.4 121.3h0M455.5 133.1h0M459.3 117.2h0M469.7 111.7h0M452.9 108.1h0" stroke="#f6f052" stroke-width="1.45" stroke-linecap="round" fill="none"/>
<path d="M463.8 115.3h0M450.6 122.5h0M466.9 115.5h0M455.3 113.4h0M461.3 121.8h0M465.4 127.3h0M457.9 129.1h0M467.0 122.2h0M463.5 128.5h0M470.0 113.4h0M469.9 118.9h0M452.4 112.6h0M451.1 120.6h0M458.1 119.5h0M449.4 115.2h0M461.7 110.1h0M455.8 126.3h0M456.9 105.6h0M452.7 117.9h0M455.8 130.6h0M464.3 112.8h0M448.3 118.8h0M465.1 120.1h0M453.1 127.1h0M465.3 130.3h0M457.4 124.5h0M453.0 118.4h0M454.4 117.3h0M460.4 119.2h0M453.7 110.6h0M461.6 126.5h0M456.7 116.9h0M464.8 122.7h0M451.9 111.2h0M460.1 102.4h0M467.5 113.1h0M459.9 107.1h0M457.1 107.0h0M459.7 132.1h0M457.1 125.4h0M466.3 106.8h0M464.6 129.2h0M450.5 109.2h0M467.2 118.4h0M462.8 109.6h0M467.6 112.5h0M461.8 122.9h0M462.9 119.1h0M456.5 118.2h0M460.4 123.6h0M467.6 129.1h0M461.8 111.9h0M459.9 129.7h0M458.1 119.3h0M459.2 103.4h0M462.3 102.2h0M459.1 103.1h0M457.2 122.7h0M464.5 116.0h0M453.9 111.2h0M453.3 118.9h0M455.2 105.0h0M462.0 133.5h0M452.6 115.9h0M468.0 109.0h0M453.8 113.4h0M451.6 112.5h0M454.4 121.5h0M467.1 131.6h0M457.3 107.0h0M467.3 129.6h0M452.2 126.2h0M452.1 120.3h0M461.2 124.6h0M455.5 104.7h0M459.9 105.0h0M457.6 126.3h0M462.2 106.1h0M468.0 132.3h0M469.9 127.3h0M467.0 116.1h0M468.0 126.6h0M464.9 129.3h0M467.3 124.3h0M453.9 126.7h0M466.4 124.3h0M463.0 114.1h0M458.6 119.2h0M451.4 116.3h0M463.1 123.2h0M459.9 109.3h0M467.1 110.7h0M466.4 127.7h0M456.7 108.3h0M467.8 122.6h0M454.4 121.7h0M449.9 117.4h0M451.2 120.3h0M457.3 107.6h0M460.7 108.2h0M461.2 128.8h0M460.0 128.2h0M466.6 126.0h0" stroke="#f5ed38" stroke-width="1.45" stroke-linecap="round" fill="none"/>
<path d="M471.1 119.7h0M457.9 124.6h0M467.0 110.6h0M459.5 105.9h0M458.6 128.6h0M459.1 113.2h0M452.1 109.8h0M463.4 106.3h0M460.1 131.9h0M460.3 113.5h0M449.2 124.8h0M467.2 105.3h0M470.7 121.9h0M466.2 124.3h0M466.3 130.3h0M469.6 114.6h0M459.0 104.0h0M468.4 111.9h0M457.1 109.8h0M460.5 133.4h0M464.0 120.9h0M450.1 110.1h0M458.1 130.3h0M462.3 108.0h0M457.1 121.5h0M470.6 107.4h0M470.1 124.8h0M456.8 112.9h0M460.0 109.0h0M463.3 121.2h0M457.7 130.7h0M450.7 120.3h0M454.3 116.7h0M449.5 121.7h0M455.6 113.5h0M469.4 113.3h0M469.9 128.1h0M460.5 121.5h0M460.8 123.8h0M457.7 126.6h0M462.0 114.8h0M462.3 124.4h0M467.7 107.3h0M461.3 113.4h0M462.5 130.2h0M455.5 116.5h0M469.6 111.2h0M464.0 113.7h0M460.9 102.8h0M452.1 112.8h0M460.2 129.6h0M449.3 113.2h0M463.2 106.5h0M460.3 110.6h0M453.3 120.1h0M452.8 107.9h0M467.7 112.7h0M452.2 121.3h0M453.7 120.1h0M461.2 118.6h0M465.4 112.7h0M458.4 129.5h0M456.9 113.1h0M447.9 114.6h0M451.6 115.6h0M464.2 116.2h0M452.1 121.8h0M452.9 121.6h0M451.6 117.7h0M453.6 111.8h0M454.8 107.1h0M456.2 116.5h0M462.5 117.8h0M454.7 117.0h0M457.9 128.5h0M457.1 122.3h0M452.8 120.1h0M457.5 107.0h0M456.2 120.0h0M451.2 127.9h0M467.4 127.4h0M452.4 122.4h0M465.6 117.4h0M468.3 119.3h0M465.0 120.8h0M466.9 114.6h0M463.8 107.7h0M456.1 130.8h0M468.9 120.3h0M464.8 107.9h0M455.6 120.0h0M459.1 133.8h0M462.6 119.4h0M459.5 122.6h0M453.6 112.9h0" stroke="#f9f590" stroke-width="1.45" stroke-linecap="round" fill="none"/>
<path d="M467.8 124.6h0M451.3 117.7h0M463.2 116.6h0M456.1 114.5h0M448.4 117.4h0M464.4 107.2h0M468.2 112.4h0M456.9 125.1h0M453.9 116.3h0M463.0 105.6h0M460.8 123.9h0M455.1 109.4h0M457.3 125.6h0M458.7 119.1h0M469.6 112.4h0M449.5 123.2h0M448.9 117.9h0M459.8 121.7h0M466.3 106.4h0M469.7 115.1h0M468.2 124.8h0M458.3 128.3h0M456.1 128.6h0M468.2 107.9h0M455.4 113.0h0M461.5 111.3h0M460.3 128.9h0M462.6 106.3h0M462.7 123.5h0M455.7 116.8h0M449.6 121.9h0M456.0 126.0h0M455.3 111.5h0M453.9 109.8h0M468.0 107.1h0M463.6 107.2h0M459.4 108.2h0M459.7 118.5h0M463.3 131.6h0M455.8 120.5h0M450.7 124.0h0M470.5 116.4h0M451.8 124.3h0M457.5 127.2h0M447.6 116.8h0M461.2 131.1h0M460.9 116.2h0M455.8 128.4h0M466.6 113.4h0M461.3 113.9h0M459.7 107.4h0M462.6 124.8h0M453.6 105.9h0M459.6 111.7h0M471.7 118.7h0M451.5 125.9h0M456.9 108.0h0M463.3 130.8h0M462.4 119.0h0M455.6 110.1h0M462.3 132.1h0M456.9 112.0h0M460.4 133.7h0M454.5 122.9h0M449.6 112.3h0M463.9 123.6h0M459.1 126.6h0M462.1 105.7h0M457.0 125.6h0M462.1 123.4h0M454.6 116.6h0M464.1 115.6h0M455.4 128.7h0M462.3 130.8h0M458.7 103.7h0M457.3 102.1h0M467.6 107.6h0M468.2 123.0h0M462.1 111.3h0M452.6 117.1h0M456.3 113.2h0M452.3 126.7h0M470.6 115.5h0M451.6 122.2h0M457.6 115.3h0M463.4 114.5h0M469.4 120.1h0M455.2 126.0h0M456.4 128.0h0M449.9 125.1h0M460.9 107.6h0M449.9 118.1h0M465.7 116.1h0M455.3 106.8h0M464.7 111.9h0M456.3 127.6h0M448.5 117.0h0M466.1 131.8h0M458.3 120.5h0M469.2 119.2h0M462.8 108.7h0M448.8 113.4h0M448.4 114.2h0M461.0 117.9h0" stroke="#f7f26f" stroke-width="1.45" stroke-linecap="round" fill="none"/>
<path d="M432.4 110.1h0M435.0 107.6h0M433.8 106.8h0M435.9 107.6h0M436.0 111.0h0M437.0 107.6h0M434.0 108.4h0M432.7 108.4h0M436.4 108.1h0" stroke="#f3eeb2" stroke-width="1.45" stroke-linecap="round" fill="none"/>
<path d="M434.9 108.1h0M433.5 108.5h0M432.7 110.3h0M437.7 109.7h0M433.5 107.2h0" stroke="#f6f2c4" stroke-width="1.45" stroke-linecap="round" fill="none"/>
<path d="M434.8 107.4h0M436.8 110.4h0M431.8 110.2h0M431.8 110.9h0M434.7 109.5h0M432.4 109.9h0M435.1 110.4h0" stroke="#efe895" stroke-width="1.45" stroke-linecap="round" fill="none"/>
<path d="M433.0 110.1h0M435.1 110.8h0M435.0 109.7h0M433.2 109.7h0M432.1 110.8h0M433.1 108.3h0M432.5 107.7h0M436.3 107.4h0" stroke="#f1eba3" stroke-width="1.45" stroke-linecap="round" fill="none"/>
<path d="M434.5 110.8h0M435.9 106.4h0M435.7 106.5h0" stroke="#e4dc84" stroke-width="1.45" stroke-linecap="round" fill="none"/>
<path d="M436.4 110.1h0M432.3 109.4h0M437.3 110.5h0" stroke="#eee68a" stroke-width="1.45" stroke-linecap="round" fill="none"/>
<path d="M432.5 110.7h0M434.7 108.2h0" stroke="#d1ca79" stroke-width="1.45" stroke-linecap="round" fill="none"/>
<path d="M412.5 144.2h0M413.0 137.5h0M416.7 131.9h0M424.2 130.9h0M410.3 140.1h0M415.6 135.8h0M422.8 129.6h0M422.0 130.2h0M419.1 127.2h0M418.4 141.3h0M412.9 137.6h0M414.5 130.6h0M424.2 132.0h0M415.3 138.7h0M417.3 138.6h0M423.3 130.8h0M425.8 129.8h0M429.1 126.3h0M412.7 135.6h0M410.6 142.4h0M422.8 137.4h0M412.8 136.1h0M416.8 134.3h0M415.6 127.0h0M413.6 144.4h0M414.7 127.8h0M418.4 125.4h0M412.2 142.1h0M418.9 126.5h0M412.4 134.7h0M418.1 132.0h0M425.2 130.2h0M412.3 130.6h0M419.9 134.5h0M411.6 143.0h0M419.1 132.1h0M412.4 130.9h0M412.0 143.0h0M412.6 135.1h0M413.6 131.5h0M409.3 137.2h0M423.1 128.5h0M416.2 130.5h0M418.4 127.5h0M414.8 141.9h0M412.6 135.8h0" stroke="#a7c53f" stroke-width="1.45" stroke-linecap="round" fill="none"/>
<path d="M415.3 139.4h0M412.7 132.6h0M422.8 132.3h0M411.4 136.2h0M412.5 131.6h0M413.1 133.4h0M416.7 141.9h0M413.1 130.4h0M411.0 137.3h0M420.5 134.5h0M425.2 133.2h0M413.2 142.5h0M424.7 125.8h0M413.1 131.8h0M412.6 142.4h0M415.2 140.5h0M414.4 140.5h0M414.1 140.1h0M410.0 134.6h0M423.9 125.3h0M409.3 133.8h0M426.4 132.0h0M422.1 133.9h0M413.6 139.1h0M418.5 136.7h0M418.8 136.5h0M417.5 130.3h0M409.4 143.5h0M414.8 135.0h0M424.4 135.7h0M424.5 133.5h0M412.9 142.8h0M413.8 133.6h0M416.7 127.1h0M423.5 127.7h0M416.3 136.1h0M415.4 131.4h0M423.5 128.2h0M419.6 137.4h0M416.4 135.4h0M418.2 133.4h0M413.3 130.4h0M411.0 144.8h0M414.1 132.0h0M422.4 126.9h0M414.9 132.1h0M424.9 130.7h0M422.0 133.7h0M415.0 139.7h0M409.8 134.9h0M414.8 142.6h0M419.3 126.2h0" stroke="#cadf84" stroke-width="1.45" stroke-linecap="round" fill="none"/>
<path d="M420.2 128.0h0M422.1 125.6h0M418.4 136.6h0M414.2 131.4h0M410.7 140.0h0M419.1 135.4h0M417.1 133.3h0M425.3 125.2h0M411.4 141.6h0M429.3 126.4h0M413.6 140.3h0M412.0 138.2h0M412.5 132.5h0M414.9 142.9h0M411.2 136.3h0M415.3 144.2h0M416.6 137.5h0M421.3 130.5h0M427.1 128.1h0M414.2 133.9h0M421.2 126.5h0M418.1 127.2h0M422.3 132.1h0M415.8 129.5h0M416.0 131.2h0M425.9 127.2h0M419.7 131.6h0M426.7 128.4h0M413.5 140.3h0M411.5 132.3h0M427.9 126.2h0M414.1 127.8h0M427.7 127.8h0M413.3 129.7h0M422.2 129.3h0M418.7 129.8h0M414.6 129.8h0M423.2 135.6h0M416.7 140.6h0M423.3 136.2h0M426.6 133.2h0M417.1 141.2h0M421.4 129.8h0M408.9 134.2h0M412.5 133.7h0M425.7 134.8h0M417.7 138.5h0" stroke="#b6d254" stroke-width="1.45" stroke-linecap="round" fill="none"/>
<path d="M410.6 143.7h0M415.5 134.2h0M421.6 130.1h0M417.5 131.1h0M419.3 134.5h0M413.5 138.6h0M425.9 131.6h0M424.1 131.6h0M412.7 144.4h0M414.2 136.0h0M423.8 125.7h0M424.7 127.0h0M414.0 140.7h0M432.2 126.7h0M418.1 138.3h0M418.6 134.5h0M415.2 135.8h0M414.1 135.0h0M420.4 125.5h0M410.0 139.9h0M417.6 136.2h0M416.6 136.5h0M414.2 138.3h0M421.3 138.1h0M412.3 144.2h0M417.3 133.6h0M413.1 142.2h0M426.3 131.3h0M412.5 137.9h0M419.2 132.8h0M409.9 137.0h0M416.1 127.5h0M415.6 141.2h0M416.3 139.3h0M423.9 128.9h0M425.7 128.8h0M410.7 138.9h0M412.9 137.8h0" stroke="#bfd86b" stroke-width="1.45" stroke-linecap="round" fill="none"/>
<path d="M418.6 128.2h0M421.9 127.9h0M412.6 141.8h0M425.0 126.0h0M415.7 129.5h0M413.1 136.4h0M427.5 128.3h0M424.9 128.4h0M424.4 127.5h0M425.4 128.5h0M414.8 130.6h0M411.3 133.0h0M411.2 132.9h0M418.5 142.0h0M414.9 128.8h0M415.9 131.8h0M413.3 143.5h0M414.2 138.2h0M426.6 126.5h0M412.9 134.3h0M417.7 141.2h0M419.6 131.6h0M411.0 134.4h0M419.4 137.7h0M412.7 145.0h0M422.6 132.8h0M418.0 131.9h0M411.7 136.4h0M418.4 140.0h0M420.5 125.9h0M418.3 133.2h0M414.9 138.5h0M422.7 136.4h0M415.7 132.7h0M410.0 134.2h0M427.9 129.8h0M421.9 124.8h0M410.1 140.6h0M416.1 139.5h0M419.1 129.3h0M423.2 126.7h0M417.3 142.3h0M420.5 138.1h0M414.8 130.2h0M422.4 135.4h0M413.3 138.8h0M426.5 128.0h0M419.3 140.2h0M414.7 142.0h0" stroke="#d6e6a0" stroke-width="1.45" stroke-linecap="round" fill="none"/>
<path d="M409.8 136.6h0M418.1 128.4h0M427.8 126.9h0M419.5 130.3h0M419.3 131.9h0M409.7 140.9h0M427.7 131.0h0M414.8 139.3h0M413.3 140.9h0M414.9 137.1h0M422.6 137.1h0M416.6 133.2h0M421.4 131.7h0M422.9 131.7h0M412.0 134.3h0M415.4 127.0h0M412.7 140.6h0M412.7 132.5h0M422.8 125.6h0M420.3 131.9h0M419.2 139.3h0M423.5 133.3h0M421.6 129.1h0M411.2 141.8h0M417.6 138.5h0M417.0 129.9h0M424.0 130.7h0M415.4 134.0h0M412.0 137.4h0M411.5 134.4h0M412.0 136.2h0M418.2 133.9h0M415.3 138.8h0M423.6 132.2h0M418.1 130.7h0M409.8 136.0h0M412.7 144.1h0M414.0 142.1h0M417.6 135.2h0M412.2 140.8h0M420.8 132.6h0M410.7 140.2h0M423.6 134.2h0M423.3 136.3h0M418.1 133.1h0M420.9 125.3h0" stroke="#aece42" stroke-width="1.45" stroke-linecap="round" fill="none"/>
<path d="M414.3 134.0h0M427.4 130.0h0M418.0 136.6h0M411.2 131.4h0M418.1 127.0h0M412.6 135.1h0M426.9 126.7h0M417.1 137.9h0M416.9 127.3h0M414.6 132.4h0M419.0 126.5h0M415.2 143.5h0M416.5 133.3h0M421.8 138.7h0M412.3 129.1h0M421.2 134.1h0M411.5 137.7h0M415.6 143.9h0M410.5 139.7h0M414.1 141.4h0M413.6 143.3h0M413.6 133.1h0M421.4 132.8h0M415.0 128.8h0M416.7 136.9h0M419.8 133.1h0M420.0 124.2h0M414.5 142.9h0M421.9 133.1h0M414.2 141.0h0M411.7 144.4h0M420.5 140.0h0M421.0 135.7h0M420.3 137.9h0M419.4 134.9h0M411.6 135.1h0M420.7 136.1h0M416.9 128.3h0" stroke="#99b53a" stroke-width="1.45" stroke-linecap="round" fill="none"/>
<path d="M415.8 150.1h0M429.0 127.8h0M419.6 148.2h0M430.6 135.3h0M425.9 138.0h0M420.6 137.6h0M417.5 152.4h0M436.2 142.8h0M416.2 152.8h0M427.0 136.6h0M423.9 135.6h0M421.3 148.1h0M427.3 156.0h0M422.5 141.1h0M426.5 130.5h0M429.9 152.3h0M416.7 146.8h0M421.9 140.1h0M431.8 154.3h0M434.5 135.7h0M424.5 146.9h0M431.3 142.5h0M425.2 155.9h0M427.4 130.6h0M430.8 137.5h0M432.8 149.3h0M433.8 144.6h0M427.6 153.6h0M434.3 135.7h0M432.4 126.0h0M432.2 143.4h0M419.7 151.6h0M420.5 146.3h0M425.5 130.2h0M435.9 128.4h0M421.5 137.8h0M430.1 128.5h0M422.2 153.0h0M424.2 136.6h0M428.1 145.6h0M434.7 131.5h0M423.2 129.3h0M428.9 131.9h0M429.6 154.0h0M431.2 155.9h0M427.8 156.0h0M419.2 135.9h0M426.2 155.6h0M426.5 131.3h0M419.7 157.6h0M415.8 141.3h0M429.5 130.7h0M419.3 150.3h0M426.3 145.4h0M419.4 141.3h0M436.7 133.7h0M433.4 142.9h0M431.0 134.8h0M436.1 146.5h0M420.4 143.6h0M418.0 148.3h0M428.1 133.7h0M433.5 147.2h0M432.1 141.5h0M429.6 151.9h0M417.1 142.0h0M420.4 156.2h0M429.5 145.1h0M416.0 151.6h0M419.8 158.1h0M430.9 154.1h0M431.5 126.8h0M418.2 148.3h0M430.4 149.7h0M429.3 147.3h0M428.4 134.7h0M421.5 146.9h0M417.5 150.5h0M418.7 152.8h0M423.1 138.3h0M420.3 158.3h0M433.0 151.4h0M421.3 154.4h0M428.0 146.2h0M416.2 147.0h0M433.8 150.8h0M424.4 136.2h0M429.0 131.4h0M425.1 134.0h0M422.2 142.9h0M425.1 156.4h0M427.4 157.8h0M433.6 151.4h0M430.1 147.0h0M428.3 133.5h0M426.9 132.0h0M422.8 141.9h0M432.7 147.7h0M429.3 130.0h0M417.3 151.1h0M415.3 145.9h0" stroke="#d091d4" stroke-width="1.45" stroke-linecap="round" fill="none"/>
<path d="M422.1 156.6h0M419.2 146.4h0M426.7 129.4h0M423.5 146.5h0M431.6 136.2h0M433.8 143.1h0M426.7 155.1h0M422.6 152.6h0M433.5 149.3h0M424.5 138.4h0M428.3 156.1h0M419.8 144.6h0M420.7 138.0h0M422.9 133.3h0M420.4 142.9h0M418.3 143.2h0M432.3 136.9h0M432.4 128.9h0M420.3 156.9h0M428.9 157.9h0M419.1 138.1h0M426.5 139.7h0M422.6 147.3h0M422.7 143.0h0M429.3 157.1h0M425.7 158.6h0M426.5 146.8h0M427.3 130.4h0M418.4 143.3h0M429.9 126.6h0M426.1 142.2h0M426.6 142.5h0M415.3 147.6h0M431.4 143.2h0M435.9 130.2h0M421.7 132.5h0M417.5 148.3h0M430.4 150.1h0M419.9 151.5h0M425.1 150.7h0M431.2 140.1h0M429.1 154.7h0M427.7 130.5h0M416.3 145.5h0M426.5 147.8h0M422.5 156.8h0M417.4 141.1h0M427.8 129.5h0M433.9 140.2h0M427.8 153.5h0M422.5 139.2h0M435.6 146.1h0M426.6 135.0h0M421.6 148.6h0M433.3 150.5h0M434.1 144.0h0M430.2 144.9h0M424.2 150.6h0M427.9 150.7h0M432.7 151.7h0M421.7 143.4h0M417.0 145.6h0M430.2 155.0h0M431.7 142.5h0M419.2 143.1h0M433.3 150.6h0M425.9 147.0h0M420.6 142.4h0M425.3 137.7h0M436.1 137.0h0M423.5 143.6h0M435.8 132.4h0M428.6 136.6h0M425.4 150.8h0M419.0 138.3h0M430.7 145.0h0M422.6 135.3h0M431.1 152.7h0M435.6 139.1h0M429.4 150.2h0M432.7 127.7h0M429.0 150.5h0M420.3 144.0h0M421.6 139.2h0M433.8 145.7h0M435.5 129.7h0" stroke="#c980cd" stroke-width="1.45" stroke-linecap="round" fill="none"/>
<path d="M420.7 152.2h0M437.3 138.2h0M418.1 147.9h0M428.4 152.0h0M428.0 127.8h0M416.4 153.2h0M422.7 150.3h0M429.9 139.1h0M421.9 142.4h0M429.5 153.5h0M438.2 139.5h0M430.1 139.7h0M436.2 148.7h0M418.1 153.9h0M434.9 131.7h0M419.8 156.3h0M427.4 141.2h0M431.3 141.5h0M434.4 150.1h0M424.8 155.4h0M431.0 145.1h0M428.4 140.2h0M431.4 149.4h0M419.3 147.7h0M424.6 135.6h0M432.9 153.5h0M432.0 139.2h0M419.7 154.4h0M430.0 147.1h0M415.0 146.0h0M419.2 141.2h0M420.1 135.5h0M425.4 135.2h0M422.9 132.6h0M430.3 146.8h0M426.1 136.8h0M430.4 144.6h0M431.5 138.8h0M423.6 156.3h0M420.8 154.5h0M418.3 142.1h0M427.8 152.2h0M427.0 147.9h0M426.2 157.8h0M430.6 127.2h0M424.5 133.9h0M429.9 134.2h0M428.0 138.7h0M420.4 153.2h0M433.5 142.6h0M429.2 136.3h0M417.7 149.2h0M425.5 128.7h0M426.5 153.9h0M433.0 128.0h0M426.3 141.1h0M433.5 131.0h0M417.6 146.1h0M420.4 158.0h0M430.7 134.1h0M419.8 153.4h0M433.7 131.9h0M424.6 130.0h0M434.5 128.3h0M423.7 150.8h0M423.7 142.4h0M419.8 150.8h0M422.9 143.3h0M424.1 148.6h0M429.4 134.6h0M430.1 146.3h0M416.9 142.2h0M434.5 141.3h0M430.5 134.7h0M417.6 140.6h0M431.0 127.0h0M424.9 143.8h0M421.8 151.2h0M437.1 140.2h0M430.9 131.8h0M427.0 153.6h0M427.5 158.1h0M427.5 138.3h0M424.6 151.3h0M427.9 155.3h0M416.4 146.3h0M437.3 135.3h0M434.0 150.8h0M429.9 131.7h0M428.5 129.3h0M427.4 127.1h0M423.6 153.0h0M422.2 145.0h0M434.3 146.4h0M435.6 130.7h0M433.5 132.7h0M429.1 149.3h0M420.3 143.6h0M424.3 136.3h0M417.5 148.0h0M435.6 143.7h0M424.9 137.4h0M425.4 131.9h0M436.3 148.7h0" stroke="#c472c8" stroke-width="1.45" stroke-linecap="round" fill="none"/>
<path d="M436.8 146.8h0M428.1 132.4h0M424.0 143.1h0M421.7 146.4h0M426.9 139.5h0M422.4 153.6h0M428.0 152.1h0M428.7 151.5h0M427.8 129.7h0M423.7 132.8h0M429.2 132.9h0M436.5 144.6h0M417.1 152.2h0M422.1 141.0h0M423.7 155.4h0M422.7 154.1h0M433.7 141.9h0M423.4 133.7h0M421.4 144.8h0M416.1 150.6h0M431.3 149.5h0M416.9 151.9h0M435.3 141.8h0M422.3 136.6h0M425.9 151.6h0M418.7 155.4h0M434.6 139.2h0M431.2 137.1h0M417.9 150.3h0M426.9 147.9h0M433.7 149.2h0M429.1 135.4h0M431.3 141.8h0M432.5 149.5h0M426.0 136.4h0M422.0 150.5h0M415.2 146.4h0M432.0 139.2h0M427.1 150.0h0M423.5 138.1h0M434.7 135.0h0M424.3 130.3h0M423.2 157.3h0M437.8 143.0h0M421.8 134.4h0M434.0 146.5h0M428.6 153.5h0M420.7 153.9h0M435.7 133.1h0M433.8 141.4h0M415.3 143.3h0M420.7 156.9h0M433.9 132.8h0M433.3 145.9h0M428.3 129.4h0M426.8 146.8h0M416.6 144.7h0M415.3 143.5h0M421.4 147.1h0M420.5 149.2h0M433.9 131.3h0M419.9 147.3h0M425.8 145.2h0M423.4 146.4h0M431.0 142.6h0M425.9 152.2h0M423.1 138.8h0M420.7 156.0h0M434.9 140.4h0M423.5 156.2h0M423.3 138.3h0M428.5 128.8h0M428.9 132.1h0M424.1 156.5h0M421.7 138.8h0M430.3 135.4h0M428.1 134.2h0M428.7 146.2h0M438.0 136.1h0M418.4 143.0h0M425.4 148.1h0M418.3 156.0h0M424.7 134.8h0M419.0 149.1h0M430.8 148.5h0M432.2 138.4h0M426.4 128.3h0M428.2 145.7h0M431.7 129.9h0M425.3 154.9h0M419.4 154.1h0M424.7 155.4h0M427.2 142.8h0M429.0 127.6h0M425.3 136.9h0M429.9 139.9h0" stroke="#d8a3db" stroke-width="1.45" stroke-linecap="round" fill="none"/>
<path d="M435.3 151.0h0M419.9 139.3h0M435.6 143.7h0M430.4 143.7h0M415.9 146.7h0M431.9 146.3h0M421.2 142.1h0M425.4 146.6h0M429.9 134.1h0M425.6 127.6h0M414.9 146.7h0M423.1 144.1h0M433.5 144.4h0M425.9 145.8h0M426.4 152.1h0M431.0 148.8h0M416.9 146.4h0M424.1 152.9h0M425.1 148.9h0M418.0 154.3h0M430.3 156.6h0M431.6 151.7h0M416.3 150.6h0M415.7 147.1h0M435.5 145.4h0M436.1 141.8h0M420.8 153.1h0M430.6 156.7h0M418.7 140.7h0M433.3 144.9h0M432.4 153.2h0M421.1 140.8h0M436.4 140.3h0M428.0 145.4h0M416.2 143.7h0M433.7 133.9h0M433.2 145.6h0M425.4 135.6h0M427.7 132.8h0M433.6 152.8h0M434.1 144.6h0M422.6 140.6h0M436.8 138.7h0M416.9 138.9h0M435.8 131.2h0M421.5 135.6h0M425.0 140.4h0M436.1 140.4h0M418.7 142.1h0M417.3 146.3h0M423.7 155.5h0M426.7 134.7h0M426.6 149.9h0M437.2 150.8h0M434.8 141.6h0M425.5 154.5h0M423.3 155.7h0M419.1 153.1h0M416.8 150.9h0M427.7 138.1h0M435.3 152.0h0M420.9 137.9h0M416.8 148.3h0M432.1 125.6h0M420.5 146.7h0M430.6 145.3h0M429.6 128.3h0M419.2 141.2h0M420.1 147.1h0M427.9 156.2h0M427.1 148.3h0M421.3 134.4h0M429.4 125.5h0M426.4 157.6h0M425.4 155.8h0M423.0 146.6h0M429.3 144.1h0M429.2 127.5h0M424.8 153.1h0M425.1 144.8h0M434.8 151.8h0M416.7 150.6h0M429.5 153.2h0M422.8 136.9h0M421.2 135.5h0M423.3 137.9h0M428.0 156.2h0M429.2 136.9h0M421.6 132.0h0M423.2 131.5h0M428.4 158.7h0M424.9 128.9h0M434.7 146.4h0M425.5 133.7h0" stroke="#bc6dc0" stroke-width="1.45" stroke-linecap="round" fill="none"/>
<path d="M420.1 142.9h0M434.5 130.3h0M423.3 150.2h0M427.9 139.8h0M434.6 148.2h0M436.3 142.0h0M425.0 138.9h0M421.6 157.9h0M419.9 143.1h0M427.3 145.5h0M430.7 124.9h0M419.7 143.7h0M421.2 143.9h0M420.8 137.3h0M427.6 144.7h0M432.7 147.2h0M426.5 133.0h0M422.2 140.5h0M433.0 150.8h0M430.5 144.0h0M430.2 130.7h0M422.6 141.8h0M415.5 147.4h0M439.4 141.3h0M422.8 152.7h0M423.5 149.0h0M426.5 144.7h0M422.5 143.0h0M429.7 137.4h0M419.4 148.6h0M435.9 144.3h0M416.9 148.7h0M430.8 148.4h0M429.0 137.2h0M417.0 151.5h0M431.5 134.7h0M437.1 139.6h0M428.7 127.2h0M414.5 145.8h0M435.5 129.1h0M434.6 151.4h0M429.5 129.8h0M429.6 150.7h0M426.3 130.5h0M437.3 140.1h0M415.7 141.5h0M419.4 149.5h0M428.9 149.7h0M426.6 131.9h0M427.4 150.3h0M433.0 151.9h0M426.3 153.2h0M426.5 139.6h0M421.1 138.3h0M424.7 158.4h0M427.8 149.7h0M417.0 141.7h0M430.1 145.8h0M431.6 134.1h0M428.2 146.7h0M432.7 141.2h0M425.4 145.9h0M428.6 140.5h0M421.3 131.9h0M418.2 142.3h0M416.9 140.5h0M425.5 138.9h0M432.0 126.5h0M415.9 144.8h0M430.3 141.6h0M420.7 149.3h0M433.1 153.0h0M420.5 153.9h0M424.9 145.7h0M437.0 136.5h0M416.2 148.0h0M437.2 130.6h0M424.4 156.3h0M432.1 136.2h0M416.1 152.9h0M432.1 149.8h0M417.8 140.4h0M420.4 153.0h0M431.0 144.8h0M428.8 140.8h0M433.7 142.2h0M417.6 149.2h0M414.6 148.4h0M431.0 125.8h0M429.1 149.1h0M434.8 139.1h0M425.5 138.0h0M423.2 146.1h0M437.5 136.5h0M424.2 143.5h0M427.7 148.7h0M424.0 145.6h0M432.5 133.5h0M422.8 155.7h0M429.4 143.6h0M422.3 155.5h0M433.2 149.4h0M432.3 137.1h0M421.6 134.5h0M419.5 154.7h0M416.4 144.9h0" stroke="#ac64b0" stroke-width="1.45" stroke-linecap="round" fill="none"/>
<path d="M436.3 129.5h0M430.0 129.6h0M430.8 145.1h0M431.8 147.3h0M430.5 128.8h0M418.8 152.4h0M427.8 138.8h0M415.9 143.6h0M433.8 153.1h0M431.9 151.6h0M421.8 149.2h0M423.4 154.2h0M433.8 149.2h0M434.2 144.2h0M427.9 150.6h0M438.2 139.3h0M429.1 138.6h0M429.4 141.0h0M424.0 152.7h0M420.2 136.9h0M423.3 130.5h0M420.7 147.4h0M423.5 154.8h0M437.0 141.4h0M431.0 143.1h0M430.0 148.2h0M422.2 143.0h0M426.3 150.6h0M425.7 136.6h0M430.6 131.7h0M429.7 144.3h0M429.8 133.4h0M433.8 147.4h0M437.9 139.1h0M426.2 133.0h0M418.5 152.3h0M420.3 151.4h0M426.6 154.0h0M417.9 145.7h0M426.1 156.3h0M429.4 156.9h0M422.0 135.7h0M427.7 143.4h0M419.4 147.5h0M428.2 155.4h0M416.3 145.0h0M420.0 158.4h0M429.4 148.6h0M434.7 131.1h0M434.0 142.4h0M428.7 133.6h0M430.5 132.4h0M437.1 140.3h0M436.4 147.8h0M420.3 153.5h0M419.6 140.2h0M432.7 142.9h0M416.4 148.1h0M433.5 151.6h0M416.2 144.7h0M432.3 146.8h0M421.7 133.8h0M436.8 141.9h0M415.3 150.1h0M426.5 135.2h0M419.8 155.0h0M422.5 152.1h0M428.5 145.5h0M420.2 156.8h0M428.4 145.1h0M426.3 132.5h0M419.3 138.2h0M422.8 144.8h0M434.1 140.8h0M421.3 150.5h0M425.2 149.1h0M430.9 152.3h0M422.2 153.4h0M423.2 157.4h0M432.4 150.3h0M420.5 134.0h0M435.9 141.7h0M427.5 148.4h0M425.5 150.6h0M428.8 135.6h0M417.5 140.2h0M436.7 136.5h0M425.3 134.5h0M416.8 144.8h0M421.1 157.0h0M425.1 154.6h0M425.0 133.8h0M431.4 131.8h0M433.2 142.8h0M432.5 152.3h0M429.3 153.1h0M431.6 136.2h0M417.2 143.6h0M430.1 126.6h0M435.9 132.0h0M416.8 138.0h0" stroke="#e1b8e3" stroke-width="1.45" stroke-linecap="round" fill="none"/>
<path d="M434.7 121.4h0M450.5 133.8h0M447.0 135.4h0M445.5 123.0h0M438.3 121.6h0M442.8 121.8h0M439.3 119.3h0M446.7 125.6h0M436.7 119.7h0M436.0 128.4h0M442.6 126.0h0M448.0 120.8h0M434.6 125.3h0M448.7 132.7h0M435.0 125.7h0M435.5 126.8h0M438.9 133.9h0M441.1 121.6h0M438.4 124.7h0M438.0 136.9h0M445.4 136.4h0M445.7 131.9h0M438.2 118.9h0M441.4 117.9h0M436.7 134.7h0M439.0 125.5h0M438.7 119.7h0M439.9 120.4h0M439.4 137.6h0M451.9 133.1h0M447.9 128.9h0M441.3 125.6h0M446.4 138.6h0M445.2 120.1h0M449.3 122.5h0M449.0 136.8h0M438.7 129.3h0M443.9 133.8h0M443.5 122.7h0M441.1 132.2h0M449.3 136.7h0M441.3 117.7h0M440.4 123.9h0M433.3 132.2h0M452.5 128.0h0M436.8 119.5h0M440.8 132.1h0M439.0 123.7h0M434.1 130.7h0M445.1 119.7h0M433.1 122.7h0M446.3 136.1h0M437.0 131.3h0M442.7 129.5h0M445.0 125.3h0M432.8 129.4h0M441.1 136.3h0M432.7 128.0h0M450.7 126.9h0M449.1 129.5h0M437.0 129.9h0" stroke="#5cc4f0" stroke-width="1.45" stroke-linecap="round" fill="none"/>
<path d="M442.7 124.3h0M444.5 134.9h0M437.8 126.8h0M436.3 123.3h0M442.8 124.7h0M446.3 133.3h0M450.2 133.3h0M444.8 123.9h0M444.3 128.4h0M449.2 131.1h0M448.6 132.1h0M448.7 128.1h0M445.5 121.3h0M438.3 124.4h0M451.8 132.0h0M435.4 129.2h0M436.7 127.7h0M437.0 132.1h0M442.8 134.4h0M441.5 128.8h0M435.6 118.8h0M446.1 125.9h0M433.2 125.5h0M444.6 125.7h0M434.9 132.9h0M435.2 121.2h0M434.6 122.0h0M442.2 131.5h0M439.9 126.6h0M443.5 139.4h0M453.5 129.3h0M438.8 123.1h0M450.9 135.4h0M444.5 122.6h0M441.9 133.2h0M440.5 130.0h0M449.5 121.7h0M438.6 130.4h0M440.4 124.9h0M447.5 130.7h0M449.8 137.1h0M449.8 123.4h0M454.1 130.9h0M441.6 127.1h0M444.4 128.4h0M447.9 133.5h0M438.5 121.1h0M443.1 124.6h0M449.3 134.8h0M452.7 132.2h0M448.8 133.8h0M439.3 132.0h0M449.6 134.7h0M431.9 127.2h0M450.1 129.7h0M435.2 127.3h0M437.3 136.6h0M451.0 133.7h0M454.3 136.5h0M444.1 117.4h0M437.6 136.2h0" stroke="#58bce6" stroke-width="1.45" stroke-linecap="round" fill="none"/>
<path d="M449.8 137.4h0M450.4 125.0h0M449.3 128.9h0M438.4 128.0h0M449.9 131.8h0M445.6 121.4h0M452.8 132.2h0M438.3 121.9h0M441.8 135.6h0M443.8 123.8h0M442.6 126.4h0M437.9 120.1h0M438.2 131.7h0M436.3 126.1h0M446.7 121.7h0M437.3 127.2h0M431.9 125.3h0M444.5 125.4h0M448.2 128.3h0M435.2 121.3h0M450.8 125.4h0M437.2 127.9h0M441.2 138.4h0M451.3 130.7h0M445.1 132.4h0M445.3 133.0h0M437.9 136.2h0M446.3 122.7h0M448.0 139.0h0M450.0 132.8h0M439.6 132.0h0M441.5 133.2h0M450.4 134.0h0M434.8 131.0h0M439.5 123.3h0M433.0 128.5h0M450.2 131.3h0M448.5 128.7h0M440.4 140.2h0M451.6 127.4h0M436.6 134.4h0M441.5 118.7h0M451.5 132.9h0M439.0 124.6h0M446.0 138.8h0M435.0 133.8h0M442.0 126.8h0M440.2 122.9h0M440.9 122.6h0M441.6 117.7h0M439.9 135.4h0M445.2 131.1h0M442.8 122.5h0M437.6 122.0h0M444.8 135.6h0M450.3 131.3h0M435.9 133.4h0M449.4 133.1h0M439.1 133.6h0M433.5 131.4h0M448.4 124.6h0M450.0 128.9h0M439.6 117.6h0M442.6 127.0h0M449.5 122.3h0M439.2 126.4h0M442.0 137.8h0M438.7 124.4h0M435.0 132.5h0M451.7 136.1h0M448.6 125.3h0M441.4 123.7h0M446.0 125.5h0M439.4 115.6h0M436.6 121.1h0M432.3 126.8h0M440.6 120.3h0M439.0 132.6h0M443.5 127.5h0M448.7 120.7h0M446.4 139.7h0M436.5 119.4h0M436.4 124.8h0" stroke="#50acd3" stroke-width="1.45" stroke-linecap="round" fill="none"/>
<path d="M448.6 137.1h0M448.1 126.5h0M433.3 130.0h0M435.2 131.2h0M443.4 120.9h0M439.3 125.0h0M435.2 127.5h0M449.5 125.6h0M440.6 125.2h0M440.6 133.7h0M445.9 119.9h0M432.7 125.0h0M437.1 133.7h0M437.6 126.2h0M440.6 131.9h0M442.9 130.0h0M447.6 139.5h0M443.8 131.0h0M451.6 125.0h0M434.6 128.6h0M446.1 121.7h0M446.7 123.8h0M441.6 119.7h0M445.2 118.2h0M436.7 128.6h0M438.7 117.6h0M442.7 138.4h0M444.8 127.5h0M441.1 139.1h0M435.1 125.2h0M437.2 126.1h0M438.4 118.1h0M446.6 120.6h0M432.8 129.5h0M444.7 117.7h0M443.2 131.7h0M433.3 133.3h0M436.2 125.1h0M445.0 127.2h0M446.9 137.7h0M442.1 121.1h0M440.7 130.2h0M439.5 125.6h0M452.0 131.5h0M432.4 128.7h0M432.8 129.4h0M436.4 121.5h0M434.7 121.5h0M442.4 120.0h0M440.6 121.1h0M437.1 128.6h0M437.2 131.5h0M441.7 129.2h0M451.8 133.3h0M444.2 120.9h0M441.6 118.3h0M453.2 133.0h0M445.4 129.6h0M440.5 130.4h0M435.9 126.0h0M438.9 129.2h0M446.4 121.0h0M436.0 124.5h0M444.3 119.1h0M444.9 129.3h0M450.1 123.7h0M444.8 132.1h0M441.4 126.1h0" stroke="#ade1f7" stroke-width="1.45" stroke-linecap="round" fill="none"/>
<path d="M449.8 136.5h0M440.5 121.8h0M450.0 138.6h0M442.9 121.9h0M448.8 132.6h0M444.2 127.2h0M439.8 129.8h0M443.4 119.5h0M441.4 126.1h0M450.8 125.3h0M444.4 118.2h0M448.0 121.1h0M438.9 118.1h0M442.5 129.4h0M435.7 121.3h0M440.3 136.8h0M447.6 127.9h0M449.7 133.0h0M432.4 127.7h0M452.5 131.3h0M439.2 118.9h0M443.0 118.7h0M442.9 129.1h0M445.5 117.6h0M439.0 131.7h0M441.3 117.1h0M443.0 132.9h0M439.6 122.2h0M446.3 127.3h0M449.6 124.3h0M435.7 119.5h0M436.5 133.0h0M437.5 123.5h0M436.2 121.1h0M437.3 122.4h0M441.5 129.8h0M433.9 131.8h0M441.7 131.9h0M447.5 133.8h0M439.7 124.8h0M449.5 122.0h0M437.7 119.1h0M452.8 133.7h0M444.8 127.0h0M435.2 133.0h0M435.8 126.9h0M451.7 125.2h0M444.9 126.3h0M443.9 135.6h0M438.6 118.8h0M446.9 136.9h0M437.4 134.6h0M443.1 133.5h0M449.8 129.6h0M443.8 117.4h0M436.1 120.0h0M449.9 123.6h0M439.9 124.3h0M445.3 126.6h0M438.9 130.3h0M442.2 131.9h0M444.9 124.7h0M443.5 130.9h0M440.1 123.4h0M449.6 131.3h0M436.8 135.5h0M444.6 130.5h0M435.2 128.3h0M441.3 133.5h0M441.9 117.8h0M436.6 135.1h0M432.9 126.7h0M439.4 134.3h0M454.1 127.9h0M432.5 124.2h0M435.8 133.5h0M450.8 125.0h0M435.8 120.0h0M435.3 129.6h0" stroke="#95d8f5" stroke-width="1.45" stroke-linecap="round" fill="none"/>
<path d="M444.3 136.9h0M447.1 124.0h0M438.8 136.5h0M442.3 123.7h0M447.4 132.8h0M448.5 133.8h0M435.5 123.1h0M437.9 134.2h0M444.5 121.2h0M432.7 130.2h0M439.4 123.7h0M439.3 136.5h0M438.3 124.5h0M445.0 136.6h0M437.1 137.3h0M448.0 131.5h0M443.9 120.3h0M443.8 123.2h0M446.7 138.8h0M442.3 136.2h0M438.6 121.4h0M436.1 124.6h0M445.5 119.2h0M436.3 131.9h0M444.3 129.5h0M448.4 122.0h0M439.1 131.8h0M439.8 131.0h0M448.7 134.7h0M444.2 120.1h0M448.8 124.8h0M445.3 127.1h0M436.7 130.8h0M441.7 123.8h0M433.9 121.6h0M452.0 126.4h0M440.1 124.7h0M436.1 129.3h0M439.2 126.1h0M443.9 136.7h0M451.6 136.4h0M446.5 135.4h0M439.2 134.5h0M445.3 135.8h0M437.5 130.0h0M451.7 137.2h0M434.5 132.3h0M453.0 129.5h0M433.2 122.2h0M444.6 128.9h0M436.2 130.0h0M438.6 118.6h0M438.6 134.4h0M433.6 129.7h0M445.9 120.8h0M450.5 126.1h0M451.1 134.6h0M439.4 130.0h0M445.8 131.7h0M441.9 118.4h0M444.2 118.3h0" stroke="#7fd0f3" stroke-width="1.45" stroke-linecap="round" fill="none"/>
<path d="M452.0 131.5h0M448.8 124.4h0M440.0 122.7h0M447.7 119.1h0M442.8 128.0h0M436.3 124.3h0M434.8 128.7h0M445.0 136.2h0M451.5 135.5h0M446.4 119.1h0M451.4 124.9h0M441.4 124.4h0M449.2 124.1h0M441.8 135.7h0M442.5 130.3h0M448.2 132.7h0M433.6 126.6h0M446.9 131.4h0M437.0 127.7h0M445.2 121.3h0M449.9 136.5h0M439.4 136.9h0M434.8 129.0h0M434.4 128.7h0M438.4 130.9h0M433.1 126.2h0M448.6 123.7h0M440.9 126.9h0M452.3 133.8h0M450.5 133.6h0M433.9 126.7h0M446.5 120.3h0M450.5 131.7h0M445.7 129.9h0M448.0 136.9h0M438.8 127.4h0M436.7 126.9h0M448.4 126.8h0M435.7 132.8h0M433.5 126.3h0M434.9 123.5h0M449.3 127.0h0M442.0 127.3h0M452.4 131.9h0M440.6 120.9h0M444.0 117.5h0M438.9 122.5h0M436.0 134.3h0M442.6 129.7h0M450.2 129.8h0M446.6 132.8h0M444.1 139.3h0M437.8 131.3h0M431.7 128.5h0M446.4 126.5h0" stroke="#6cc9f1" stroke-width="1.45" stroke-linecap="round" fill="none"/>
<path d="M431.9 150.8h0M446.5 146.4h0M438.8 143.7h0M441.3 156.8h0M439.1 161.3h0M450.4 143.5h0M447.5 158.9h0M445.6 159.0h0M454.7 144.0h0M438.5 154.4h0M433.1 156.6h0M446.0 153.6h0M445.8 156.9h0M450.0 156.5h0M440.8 150.5h0M440.1 146.8h0M450.6 151.7h0M443.4 139.8h0M436.2 152.9h0M432.1 155.6h0M446.6 160.1h0M444.4 146.4h0M438.2 153.5h0M435.6 158.9h0M450.3 146.2h0M439.6 147.9h0M436.6 161.2h0M444.7 153.5h0M447.6 150.9h0M437.2 146.5h0M447.2 155.6h0M432.2 155.1h0M437.8 162.3h0M449.2 148.5h0M444.8 145.3h0M443.4 162.1h0M440.6 145.9h0M449.1 146.1h0M438.6 146.5h0M438.9 150.5h0M437.4 153.5h0M455.7 148.6h0M443.2 150.5h0M450.0 144.5h0M431.6 158.9h0M445.8 144.9h0M435.3 158.3h0M444.6 151.9h0M451.8 155.3h0M435.8 161.6h0M453.1 149.0h0M447.1 154.3h0M443.1 147.9h0M433.0 148.4h0M432.8 157.5h0M439.8 148.9h0M442.2 161.6h0M432.0 157.4h0M438.1 149.2h0M432.0 152.0h0M441.8 139.9h0M445.7 149.3h0M441.7 138.9h0M445.8 144.9h0M438.7 141.4h0M446.7 149.5h0M442.7 161.6h0M448.2 140.2h0M439.9 140.3h0M446.2 153.5h0M445.8 151.3h0M446.7 147.7h0M436.9 147.7h0M434.7 158.6h0M442.7 150.8h0M448.5 151.4h0M439.8 157.6h0M439.7 150.8h0M437.6 144.2h0M445.6 141.2h0M440.8 149.2h0M455.4 147.7h0M449.2 154.3h0M450.8 146.9h0" stroke="#f9d1a6" stroke-width="1.45" stroke-linecap="round" fill="none"/>
<path d="M455.0 146.0h0M441.2 143.5h0M447.4 147.8h0M446.9 157.6h0M449.9 155.8h0M448.5 141.2h0M454.2 151.6h0M453.1 143.2h0M439.3 151.2h0M436.0 151.6h0M448.3 141.7h0M434.8 161.5h0M432.8 152.9h0M437.9 141.9h0M449.6 154.8h0M443.3 153.4h0M441.9 149.0h0M446.0 150.5h0M448.2 155.7h0M448.5 154.8h0M452.0 146.6h0M442.0 140.0h0M437.0 159.0h0M453.9 151.9h0M435.8 155.3h0M453.3 141.7h0M439.4 151.7h0M450.1 153.6h0M442.4 157.3h0M433.7 156.4h0M449.7 144.4h0M440.3 152.4h0M452.0 145.7h0M448.3 141.9h0M446.4 151.0h0M452.3 150.1h0M447.4 156.1h0M447.1 153.8h0M449.1 153.6h0M436.6 158.4h0M449.3 151.7h0M447.0 155.2h0M452.4 144.9h0M438.9 164.5h0M437.6 148.7h0M447.9 152.8h0M444.5 141.9h0M440.0 160.8h0M451.8 145.7h0M440.5 159.4h0M446.4 141.8h0M449.7 148.4h0M436.8 161.1h0M440.1 153.3h0M436.6 159.6h0M439.4 143.1h0M439.9 148.7h0M441.0 149.0h0M440.1 142.2h0M446.2 141.4h0M451.8 153.8h0M432.4 156.3h0M439.3 153.3h0M436.1 156.3h0M452.2 145.2h0M442.5 146.7h0M438.6 147.5h0M443.1 157.6h0M438.6 159.5h0M454.5 146.1h0M456.0 145.8h0M433.8 145.8h0M434.3 161.0h0M447.4 150.6h0M446.3 146.9h0M442.5 156.9h0M453.3 151.0h0M436.8 160.6h0M432.1 157.6h0M448.0 145.9h0M445.1 141.9h0M439.2 156.9h0M443.7 152.0h0M452.8 146.1h0M435.0 153.4h0M438.3 155.3h0M433.2 159.8h0M452.4 142.0h0M441.1 139.0h0M444.2 141.7h0M436.4 147.0h0" stroke="#f6b874" stroke-width="1.45" stroke-linecap="round" fill="none"/>
<path d="M447.5 151.0h0M434.4 146.0h0M433.9 160.1h0M435.7 154.6h0M433.0 148.2h0M444.6 147.0h0M441.1 146.3h0M447.2 141.1h0M444.6 151.2h0M444.7 142.0h0M443.9 154.4h0M451.5 143.3h0M436.6 149.6h0M441.7 157.3h0M434.6 146.7h0M440.2 153.2h0M454.3 144.8h0M444.1 154.2h0M450.5 155.1h0M438.4 152.2h0M437.1 150.7h0M431.8 150.3h0M439.0 157.2h0M446.7 158.0h0M446.5 140.0h0M434.9 147.9h0M449.2 147.3h0M450.1 156.0h0M445.0 145.9h0M442.5 160.4h0M438.5 146.2h0M444.3 159.7h0M437.5 157.6h0M450.0 148.2h0M438.8 149.3h0M453.9 146.9h0M439.4 153.9h0M453.1 148.5h0M442.4 147.2h0M433.0 146.5h0M454.7 147.1h0M454.4 140.4h0M453.2 151.1h0M446.7 150.6h0M436.8 150.2h0M435.8 145.9h0M439.8 150.5h0M434.6 156.4h0M446.7 155.5h0M447.2 158.1h0M442.0 142.9h0M453.7 153.3h0M443.6 147.6h0M439.4 157.3h0M436.6 154.9h0M443.4 148.6h0M443.7 146.8h0M445.2 143.1h0M441.3 158.1h0M449.3 145.5h0M434.9 151.0h0M450.6 146.6h0M445.3 147.7h0M431.7 150.2h0M431.5 150.6h0M451.1 149.4h0M436.9 153.8h0M439.0 157.6h0M440.3 140.8h0M438.2 141.4h0M439.6 160.8h0M442.1 161.6h0M447.2 156.1h0M449.1 157.4h0M449.6 145.4h0M444.2 138.6h0M437.7 160.8h0M437.9 147.5h0M433.5 160.2h0M439.6 154.3h0M446.7 154.3h0M448.6 142.7h0M431.6 156.5h0" stroke="#f7c38b" stroke-width="1.45" stroke-linecap="round" fill="none"/>
<path d="M453.8 150.7h0M444.9 158.3h0M432.4 149.8h0M437.7 142.8h0M439.6 149.6h0M433.6 150.2h0M452.8 141.0h0M434.9 157.7h0M447.4 160.7h0M451.7 155.2h0M437.0 163.1h0M434.3 160.2h0M437.6 151.6h0M448.1 150.3h0M439.5 149.6h0M443.9 149.4h0M453.6 156.4h0M446.6 144.4h0M448.2 160.6h0M442.6 150.7h0M450.4 140.3h0M449.2 146.1h0M448.0 152.7h0M454.6 145.2h0M434.7 159.0h0M436.5 162.5h0M451.4 151.5h0M432.8 150.2h0M431.9 155.8h0M453.6 151.3h0M439.9 157.8h0M441.8 139.7h0M450.1 142.6h0M449.4 152.4h0M443.1 146.8h0M447.9 151.6h0M444.7 155.8h0M434.2 144.4h0M449.6 152.9h0M451.6 149.9h0M440.7 139.8h0M443.0 152.5h0M444.0 143.1h0M433.1 157.0h0M447.2 153.7h0M436.6 157.8h0M453.0 150.0h0M440.1 149.2h0M434.4 158.7h0M442.1 161.1h0M441.0 141.3h0M437.0 144.5h0M448.1 153.9h0M448.2 147.6h0M432.4 154.2h0M451.1 150.3h0M446.9 150.3h0M451.1 156.9h0M448.3 144.2h0M433.5 150.5h0M434.7 146.1h0M438.5 158.0h0M453.5 152.7h0M451.8 142.0h0M443.2 154.8h0M451.1 141.4h0M436.3 156.4h0M439.1 151.3h0M434.3 156.6h0M431.9 159.8h0M436.6 157.2h0M440.3 161.7h0M443.3 146.3h0M448.8 146.1h0M442.5 157.6h0M442.2 155.5h0M436.3 159.3h0M449.9 154.2h0M438.4 142.6h0M448.4 140.4h0M444.4 154.9h0M439.1 147.5h0M440.3 148.9h0M434.9 154.6h0M454.8 146.4h0M443.5 148.6h0" stroke="#ea9d4a" stroke-width="1.45" stroke-linecap="round" fill="none"/>
<path d="M447.0 140.8h0M454.3 150.0h0M441.1 148.0h0M436.7 155.3h0M448.6 156.5h0M438.0 156.4h0M435.5 153.8h0M440.8 150.0h0M431.9 159.0h0M442.5 158.7h0M434.5 151.8h0M451.2 150.0h0M449.7 158.2h0M432.3 154.8h0M440.2 149.8h0M439.6 164.3h0M443.3 149.2h0M438.1 142.0h0M448.8 154.2h0M443.5 150.3h0M443.9 160.5h0M450.2 157.5h0M450.7 153.8h0M435.4 148.3h0M452.0 143.9h0M432.7 161.7h0M439.8 163.2h0M453.4 144.5h0M436.1 150.8h0M451.9 144.8h0M443.7 155.3h0M443.0 145.6h0M435.8 156.7h0M433.4 155.0h0M442.4 153.8h0M438.7 156.1h0M449.3 146.4h0M444.9 144.6h0M447.4 161.0h0M450.0 152.8h0M442.1 144.8h0M442.0 152.3h0M440.4 141.2h0M442.9 138.8h0M437.0 151.6h0M434.8 146.4h0M451.8 154.3h0M447.9 155.5h0M436.6 161.1h0M438.3 148.5h0M439.1 157.9h0M447.9 141.1h0M450.7 149.3h0M434.3 154.1h0M436.5 143.9h0M434.9 147.4h0M440.5 146.7h0M444.9 153.5h0M452.2 147.7h0M438.9 158.6h0M447.8 148.3h0M447.5 139.8h0M432.4 147.7h0M455.4 144.2h0M445.3 143.1h0M438.3 162.0h0M437.3 146.2h0M440.8 158.2h0M447.9 138.6h0M442.2 159.3h0M438.3 150.2h0M445.5 152.5h0M437.7 151.0h0M443.0 143.2h0M443.3 140.0h0M437.8 154.4h0M438.0 143.2h0M447.9 157.6h0M438.1 155.1h0M441.9 161.3h0M435.1 153.7h0M432.9 148.1h0" stroke="#d69044" stroke-width="1.45" stroke-linecap="round" fill="none"/>
<path d="M434.0 146.8h0M438.0 141.3h0M445.2 152.1h0M438.1 158.9h0M449.3 151.9h0M442.0 142.7h0M443.7 153.6h0M436.8 150.0h0M447.6 156.2h0M441.6 141.3h0M444.0 150.7h0M453.4 144.8h0M453.6 149.2h0M448.8 139.6h0M450.8 150.5h0M435.0 151.1h0M433.4 150.4h0M449.4 155.8h0M438.2 145.1h0M447.4 154.4h0M441.7 146.5h0M448.4 155.3h0M453.1 149.1h0M436.6 160.0h0M432.1 152.0h0M434.4 154.1h0M450.2 147.5h0M443.2 157.5h0M451.7 150.4h0M448.2 151.7h0M455.7 147.2h0M440.4 141.7h0M442.5 156.9h0M446.3 152.6h0M451.7 155.8h0M435.6 151.2h0M452.2 153.3h0M446.6 147.4h0M443.1 144.3h0M450.1 157.9h0M452.6 146.8h0M439.7 156.4h0M449.6 142.4h0M450.2 157.9h0M443.8 150.5h0M449.2 153.9h0M442.4 153.5h0M450.5 140.9h0M445.6 141.1h0M449.6 148.7h0M444.0 148.4h0M439.8 148.2h0M437.6 159.7h0M442.1 153.4h0M443.0 157.3h0M432.4 149.8h0M446.2 151.8h0M434.6 150.7h0M451.2 150.9h0M435.9 153.8h0M432.9 160.3h0M444.0 162.7h0M437.9 146.1h0M435.5 151.7h0M454.7 144.1h0M437.6 145.3h0M447.9 155.7h0M442.6 150.5h0M445.1 157.4h0M434.6 149.1h0M431.6 149.0h0" stroke="#f4a44e" stroke-width="1.45" stroke-linecap="round" fill="none"/>
<path d="M444.2 144.2h0M446.7 147.6h0M450.0 143.7h0M433.4 145.8h0M444.0 150.2h0M436.4 152.6h0M436.1 161.4h0M438.0 145.0h0M443.9 161.2h0M443.9 142.8h0M434.5 151.0h0M447.5 140.3h0M442.7 139.8h0M440.0 144.6h0M434.1 150.0h0M442.5 152.7h0M450.6 151.9h0M440.5 162.8h0M444.3 145.4h0M435.7 144.6h0M448.1 157.5h0M435.5 152.7h0M442.6 155.8h0M432.6 153.5h0M453.6 143.3h0M441.2 159.8h0M446.0 144.3h0M434.8 156.2h0M448.3 159.5h0M447.3 160.4h0M451.1 158.7h0M443.3 152.9h0M448.7 140.3h0M439.7 141.7h0M444.3 141.0h0M450.5 147.9h0M439.3 150.2h0M439.9 157.7h0M446.8 159.2h0M447.8 139.0h0M451.0 155.4h0M445.9 155.6h0M448.8 159.4h0M449.3 152.8h0M446.9 142.9h0M449.2 146.6h0M444.2 144.1h0M434.4 153.0h0M438.1 150.7h0M439.0 145.8h0M444.0 141.4h0M454.1 151.4h0M440.4 155.3h0M435.3 155.4h0M454.2 143.9h0M445.3 143.5h0M442.5 149.6h0M452.1 151.6h0M441.9 140.8h0M438.8 153.1h0M435.4 145.9h0M451.5 141.0h0M450.2 154.1h0M439.2 155.4h0M453.4 147.0h0M439.0 143.2h0M450.7 149.4h0M444.1 157.2h0M453.0 145.2h0M446.0 152.0h0M441.2 161.5h0M432.5 157.7h0M434.7 158.0h0M437.7 149.2h0M442.0 162.7h0M436.9 159.8h0M447.0 145.1h0M432.8 160.9h0" stroke="#f5ad5f" stroke-width="1.45" stroke-linecap="round" fill="none"/>
<path d="M412.9 151.9h0M420.6 163.3h0M410.0 145.3h0M411.0 149.8h0M410.8 156.4h0M432.6 165.8h0M421.0 164.7h0M420.1 159.8h0M415.4 152.5h0M409.8 149.3h0M427.4 164.7h0M425.8 160.8h0M410.1 146.4h0M430.3 161.0h0M424.5 160.4h0M415.4 154.9h0M419.9 161.8h0M431.5 163.4h0M427.0 163.0h0M415.9 160.8h0M426.3 160.3h0M434.2 165.8h0M432.5 166.8h0M433.0 167.7h0M419.8 157.2h0M414.3 162.9h0M410.6 154.6h0M424.3 164.7h0M411.5 155.1h0M431.9 162.3h0M421.4 164.8h0M414.8 151.6h0M406.6 151.8h0M412.2 157.9h0M408.1 149.8h0M423.3 164.3h0M432.6 162.6h0M413.0 148.5h0M422.9 166.9h0M429.9 166.2h0M422.5 165.7h0M410.3 156.6h0M418.1 157.1h0M437.0 165.9h0M435.4 166.6h0M429.6 163.6h0M425.8 167.7h0M435.8 165.2h0M427.6 162.5h0M430.6 167.5h0M419.2 156.7h0M409.4 156.4h0M419.1 163.2h0M425.3 165.2h0M409.7 146.0h0M412.5 157.4h0M407.5 149.7h0M408.8 152.0h0M408.7 148.8h0M416.6 164.8h0M414.9 153.5h0" stroke="#a2bf9d" stroke-width="1.45" stroke-linecap="round" fill="none"/>
<path d="M410.5 151.3h0M411.9 152.1h0M414.6 152.5h0M426.2 167.1h0M436.2 163.1h0M421.2 160.3h0M411.9 153.7h0M434.4 166.9h0M413.8 155.2h0M435.4 165.8h0M435.9 167.2h0M426.8 165.5h0M413.0 159.6h0M414.0 159.3h0M436.8 168.5h0M431.2 164.1h0M415.9 162.6h0M424.5 165.1h0M418.1 163.4h0M415.9 162.2h0M411.9 160.5h0M423.0 159.7h0M411.5 160.0h0M414.4 153.0h0M411.3 147.3h0M416.9 158.3h0M412.6 159.9h0M427.3 164.5h0M429.9 169.2h0M421.7 160.7h0M412.7 151.0h0M423.5 162.7h0M428.5 160.6h0M411.7 150.7h0M430.0 168.3h0M408.7 147.8h0M436.4 162.6h0M422.7 159.0h0M434.1 167.3h0M421.5 158.2h0M412.6 156.4h0M415.7 160.6h0M426.8 166.7h0M434.7 165.9h0M409.9 157.3h0M413.9 160.9h0M421.1 161.3h0M418.5 164.0h0M421.2 162.0h0M429.8 161.1h0M427.4 169.2h0M428.0 166.0h0M433.3 168.0h0" stroke="#588b4f" stroke-width="1.45" stroke-linecap="round" fill="none"/>
<path d="M424.9 161.5h0M420.4 162.7h0M409.8 147.9h0M422.8 166.0h0M420.4 160.4h0M413.4 160.7h0M408.6 150.5h0M412.2 150.2h0M422.2 164.9h0M408.8 149.6h0M410.6 147.2h0M408.4 153.8h0M427.8 160.9h0M435.8 167.9h0M413.4 160.9h0M434.3 163.2h0M432.1 164.3h0M417.7 157.9h0M422.2 159.7h0M435.1 166.4h0M414.7 162.2h0M414.9 154.7h0M424.9 164.6h0M424.0 159.6h0M428.4 168.3h0M433.7 161.6h0M433.0 163.2h0M432.1 167.1h0M422.9 159.2h0M415.8 163.4h0M412.0 149.7h0M413.0 157.2h0M411.9 158.6h0M408.1 152.4h0M427.3 160.9h0M432.1 168.6h0M427.3 163.4h0M416.9 159.3h0M411.7 156.5h0M412.5 148.0h0M427.5 167.7h0M411.8 150.9h0M408.4 155.1h0M417.7 159.7h0M434.1 167.4h0M415.7 158.6h0M423.0 167.1h0M414.0 158.9h0M427.2 161.8h0M410.9 151.0h0" stroke="#6e9b66" stroke-width="1.45" stroke-linecap="round" fill="none"/>
<path d="M418.9 163.2h0M412.7 153.4h0M431.8 164.3h0M413.1 148.4h0M436.5 162.2h0M410.3 144.8h0M409.1 154.0h0M419.1 161.9h0M430.2 163.9h0M412.2 152.0h0M419.4 158.2h0M414.3 159.9h0M411.1 161.7h0M411.3 152.0h0M423.1 160.0h0M413.5 159.9h0M427.6 160.9h0M413.7 157.9h0M420.5 167.5h0M421.3 161.7h0M413.3 161.9h0M427.4 163.0h0M424.9 167.5h0M435.1 162.9h0M419.1 162.7h0M425.2 162.7h0M414.7 164.3h0M426.5 164.4h0M424.5 165.0h0M422.3 163.1h0M412.3 155.7h0M416.1 156.9h0M432.5 167.2h0M417.5 165.4h0M407.6 153.0h0M411.3 155.1h0M419.1 164.2h0M434.7 167.4h0M412.3 146.5h0M429.4 162.9h0M415.7 157.1h0M413.7 156.4h0M421.1 158.4h0M434.9 163.9h0M412.0 156.3h0M416.7 156.0h0M406.5 152.3h0M424.0 164.6h0" stroke="#437939" stroke-width="1.45" stroke-linecap="round" fill="none"/>
<path d="M429.2 169.0h0M421.1 164.3h0M423.2 166.4h0M418.3 157.1h0M422.6 165.2h0M417.9 165.7h0M412.9 152.4h0M413.4 154.5h0M416.5 160.7h0M430.7 163.7h0M427.7 164.2h0M413.2 158.8h0M426.1 160.2h0M420.2 162.7h0M431.4 160.2h0M419.4 153.8h0M424.5 166.3h0M418.2 160.8h0M428.6 160.8h0M433.6 163.3h0M419.0 155.5h0M416.7 164.0h0M433.6 166.3h0M420.2 166.0h0M423.3 159.5h0M434.0 162.6h0M423.5 159.4h0M425.7 158.1h0M421.6 163.5h0M419.3 160.8h0M420.5 158.4h0M412.6 150.6h0M426.6 162.8h0M426.0 167.8h0M411.6 160.8h0M420.1 159.7h0M409.6 148.3h0M412.8 161.9h0M433.2 165.2h0M436.8 166.2h0M416.0 165.9h0" stroke="#467f3c" stroke-width="1.45" stroke-linecap="round" fill="none"/>
<path d="M428.3 161.9h0M420.3 164.1h0M413.4 153.0h0M409.5 149.1h0M413.4 153.4h0M408.7 154.0h0M414.7 156.5h0M421.6 159.7h0M415.2 157.8h0M425.6 164.1h0M433.9 161.3h0M434.5 163.7h0M423.8 159.2h0M416.8 161.5h0M410.7 156.5h0M436.1 167.4h0M416.2 161.4h0M433.7 165.2h0M415.0 160.2h0M436.0 167.3h0M422.8 159.2h0M415.3 157.9h0M417.1 164.1h0M415.1 152.5h0M426.7 168.4h0M429.2 167.1h0M430.5 161.8h0M417.1 163.0h0M426.5 164.7h0M410.2 154.5h0M410.4 157.8h0M412.4 150.5h0M413.2 155.2h0M418.5 164.0h0M425.7 165.0h0M429.7 165.4h0M422.7 164.7h0M418.5 157.7h0M431.0 163.9h0M413.4 151.9h0M409.4 155.0h0M415.9 156.4h0M417.8 163.3h0M409.4 148.5h0M412.6 161.0h0M412.7 161.1h0M414.5 151.4h0M413.6 152.4h0M412.3 151.0h0M409.9 146.5h0M421.1 163.3h0M428.9 168.5h0M434.7 161.6h0M424.2 161.0h0M412.2 159.8h0M410.3 149.1h0M430.2 163.2h0M409.3 148.8h0" stroke="#86ab80" stroke-width="1.45" stroke-linecap="round" fill="none"/>
<path d="M417.0 163.9h0M431.9 162.0h0M421.8 159.4h0M408.1 151.6h0M434.4 165.1h0M406.5 151.1h0M433.6 161.7h0M416.0 158.4h0M419.6 157.2h0M414.1 155.8h0M425.1 163.3h0M433.4 163.5h0M425.3 164.2h0M432.4 162.1h0M424.6 166.5h0M413.3 154.4h0M436.4 166.7h0M410.1 159.1h0M432.0 166.4h0M408.6 153.6h0M407.6 149.8h0M429.3 163.4h0M435.4 163.4h0M430.7 166.2h0M409.1 146.7h0M418.1 164.2h0M413.9 154.2h0M431.3 167.1h0M416.0 154.1h0M413.3 160.6h0M429.4 167.3h0M415.1 159.8h0M418.0 153.6h0M409.4 156.3h0M415.8 155.6h0M420.6 165.5h0M420.4 161.1h0M408.7 157.1h0M417.9 163.6h0M423.5 167.4h0M422.7 166.0h0M411.7 149.3h0M412.2 155.3h0M412.9 153.4h0M420.0 159.1h0M416.9 157.2h0" stroke="#3d6f34" stroke-width="1.45" stroke-linecap="round" fill="none"/>
<path d="M461.1 154.0h0M463.5 147.1h0M457.1 157.2h0M457.6 159.5h0M459.3 151.1h0M455.9 153.3h0M456.8 159.7h0M462.3 147.8h0M454.0 159.0h0M461.4 148.8h0M460.0 149.0h0M464.2 153.4h0M458.7 158.5h0M455.1 154.4h0M462.5 148.9h0M462.0 149.6h0M452.5 159.1h0M458.7 156.5h0M463.9 152.8h0M462.3 150.3h0M454.3 155.9h0M464.9 148.5h0M460.8 153.4h0M462.7 146.1h0M461.6 156.4h0" stroke="#e63f3f" stroke-width="1.45" stroke-linecap="round" fill="none"/>
<path d="M463.1 144.9h0M461.9 143.6h0M456.3 152.7h0M460.3 149.6h0M464.6 148.6h0M460.8 147.9h0M464.1 147.7h0M460.8 146.5h0M459.4 148.3h0M464.6 148.9h0M460.4 153.7h0M463.8 144.8h0M464.6 146.1h0M454.5 155.6h0M460.4 146.9h0M461.8 150.3h0" stroke="#c82424" stroke-width="1.45" stroke-linecap="round" fill="none"/>
<path d="M458.9 155.6h0M462.5 152.4h0M464.0 148.0h0M454.4 156.2h0M455.3 157.7h0M458.8 151.9h0M461.3 148.0h0M452.8 160.5h0M457.7 154.5h0M465.6 146.9h0M457.5 149.5h0M453.7 158.8h0M459.3 151.3h0M464.1 150.0h0M458.3 150.0h0M461.4 149.4h0M464.2 146.5h0M460.2 152.9h0M460.5 153.9h0M458.8 148.3h0M459.6 154.9h0M461.4 146.2h0M463.3 144.0h0M457.8 153.7h0M458.9 155.7h0M457.9 155.7h0M459.3 156.0h0M458.1 149.2h0M463.5 146.5h0" stroke="#f19494" stroke-width="1.45" stroke-linecap="round" fill="none"/>
<path d="M463.7 150.0h0M460.8 146.3h0M465.6 148.8h0M458.5 147.3h0M454.4 157.4h0M459.3 148.5h0M459.5 154.5h0M456.7 159.8h0M464.7 146.3h0M460.2 155.7h0M459.6 153.6h0M461.5 152.2h0M462.2 152.9h0M462.4 146.6h0M458.9 157.6h0M458.7 150.3h0M452.4 159.7h0" stroke="#e42a2a" stroke-width="1.45" stroke-linecap="round" fill="none"/>
<path d="M462.5 153.2h0M457.1 159.9h0M458.6 150.5h0M455.0 156.2h0M453.8 160.5h0M455.3 155.6h0M461.3 148.2h0M463.4 146.6h0M455.7 159.5h0M461.2 156.2h0M457.3 154.2h0M464.0 148.4h0M463.3 150.1h0M460.9 154.1h0M457.0 158.4h0M460.7 147.0h0M459.3 152.7h0M456.6 151.2h0M452.9 160.5h0M463.3 150.2h0M452.6 160.3h0" stroke="#ed7474" stroke-width="1.45" stroke-linecap="round" fill="none"/>
<path d="M459.7 156.6h0M463.5 150.8h0M452.3 158.0h0M463.3 146.4h0M462.6 152.4h0M461.4 147.5h0M458.6 149.6h0M464.3 146.9h0M459.8 153.7h0M458.1 160.6h0M459.7 147.5h0M463.6 147.7h0M463.1 151.4h0M453.6 161.2h0M454.3 162.1h0M463.2 148.9h0M461.4 153.2h0M460.1 149.1h0M457.5 157.0h0" stroke="#da2828" stroke-width="1.45" stroke-linecap="round" fill="none"/>
<path d="M457.8 149.8h0M456.5 150.7h0M457.3 151.5h0M454.4 157.0h0M454.9 154.0h0M454.3 158.0h0M454.5 162.7h0M461.0 144.7h0M459.4 149.3h0M456.0 155.4h0M460.7 152.2h0M454.1 157.3h0M461.4 154.0h0M459.8 146.5h0M460.5 148.1h0M459.0 158.3h0M462.8 149.4h0M462.9 152.9h0M464.2 146.1h0" stroke="#e95858" stroke-width="1.45" stroke-linecap="round" fill="none"/>
<path d="M439.9 160.4h0M437.6 161.4h0M441.6 164.7h0M441.6 163.3h0M440.3 161.6h0M438.8 166.8h0" stroke="#7bb2d1" stroke-width="1.45" stroke-linecap="round" fill="none"/>
<path d="M440.3 163.0h0M438.2 166.2h0M438.7 161.5h0M439.9 163.8h0M440.6 161.5h0M439.9 163.2h0M440.8 167.1h0M440.7 160.6h0M440.5 164.7h0M439.8 163.6h0M441.3 165.4h0" stroke="#8ccbee" stroke-width="1.45" stroke-linecap="round" fill="none"/>
<path d="M441.4 165.4h0M439.9 162.3h0M438.6 164.4h0M440.4 165.7h0M439.6 160.4h0M439.9 162.6h0M440.0 157.7h0M441.6 163.1h0M439.7 163.5h0" stroke="#c5e5f6" stroke-width="1.45" stroke-linecap="round" fill="none"/>
<path d="M441.1 160.8h0M439.0 162.3h0M439.2 168.1h0M438.3 162.0h0M441.8 165.7h0M438.7 162.0h0M439.1 164.8h0" stroke="#b4ddf3" stroke-width="1.45" stroke-linecap="round" fill="none"/>
<path d="M439.5 159.7h0M439.3 164.1h0M441.3 162.5h0" stroke="#86c2e4" stroke-width="1.45" stroke-linecap="round" fill="none"/>
<path d="M438.1 162.3h0M438.7 161.3h0M442.5 162.4h0M441.1 162.4h0" stroke="#97d0ef" stroke-width="1.45" stroke-linecap="round" fill="none"/>
<path d="M438.5 164.3h0M438.7 162.7h0" stroke="#a5d6f1" stroke-width="1.45" stroke-linecap="round" fill="none"/>
<rect x="387.50" y="84.60" width="86.80" height="85.70" fill="none" stroke="#222" stroke-width="1.5"/>
<line x1="385.10" y1="170.20" x2="387.50" y2="170.20" stroke="#222" stroke-width="0.7"/>
<line x1="386.20" y1="165.92" x2="387.50" y2="165.92" stroke="#222" stroke-width="0.7"/>
<line x1="386.20" y1="161.64" x2="387.50" y2="161.64" stroke="#222" stroke-width="0.7"/>
<line x1="386.20" y1="157.36" x2="387.50" y2="157.36" stroke="#222" stroke-width="0.7"/>
<line x1="385.10" y1="153.08" x2="387.50" y2="153.08" stroke="#222" stroke-width="0.7"/>
<line x1="386.20" y1="148.80" x2="387.50" y2="148.80" stroke="#222" stroke-width="0.7"/>
<line x1="386.20" y1="144.52" x2="387.50" y2="144.52" stroke="#222" stroke-width="0.7"/>
<line x1="386.20" y1="140.24" x2="387.50" y2="140.24" stroke="#222" stroke-width="0.7"/>
<line x1="385.10" y1="135.96" x2="387.50" y2="135.96" stroke="#222" stroke-width="0.7"/>
<line x1="386.20" y1="131.68" x2="387.50" y2="131.68" stroke="#222" stroke-width="0.7"/>
<line x1="386.20" y1="127.40" x2="387.50" y2="127.40" stroke="#222" stroke-width="0.7"/>
<line x1="386.20" y1="123.12" x2="387.50" y2="123.12" stroke="#222" stroke-width="0.7"/>
<line x1="385.10" y1="118.84" x2="387.50" y2="118.84" stroke="#222" stroke-width="0.7"/>
<line x1="386.20" y1="114.56" x2="387.50" y2="114.56" stroke="#222" stroke-width="0.7"/>
<line x1="386.20" y1="110.28" x2="387.50" y2="110.28" stroke="#222" stroke-width="0.7"/>
<line x1="386.20" y1="106.00" x2="387.50" y2="106.00" stroke="#222" stroke-width="0.7"/>
<line x1="385.10" y1="101.72" x2="387.50" y2="101.72" stroke="#222" stroke-width="0.7"/>
<line x1="386.20" y1="97.44" x2="387.50" y2="97.44" stroke="#222" stroke-width="0.7"/>
<line x1="386.20" y1="93.16" x2="387.50" y2="93.16" stroke="#222" stroke-width="0.7"/>
<line x1="386.20" y1="88.88" x2="387.50" y2="88.88" stroke="#222" stroke-width="0.7"/>
<line x1="385.10" y1="84.60" x2="387.50" y2="84.60" stroke="#222" stroke-width="0.7"/>
<text x="381.90" y="172.40" font-size="6.4" text-anchor="end" fill="#353535" font-weight="normal" stroke="#353535" stroke-width="0.18">0</text>
<text x="381.90" y="155.28" font-size="6.4" text-anchor="end" fill="#353535" font-weight="normal" stroke="#353535" stroke-width="0.18">20</text>
<text x="381.90" y="138.16" font-size="6.4" text-anchor="end" fill="#353535" font-weight="normal" stroke="#353535" stroke-width="0.18">40</text>
<text x="381.90" y="121.04" font-size="6.4" text-anchor="end" fill="#353535" font-weight="normal" stroke="#353535" stroke-width="0.18">60</text>
<text x="381.90" y="103.92" font-size="6.4" text-anchor="end" fill="#353535" font-weight="normal" stroke="#353535" stroke-width="0.18">80</text>
<text x="381.90" y="86.80" font-size="6.4" text-anchor="end" fill="#353535" font-weight="normal" stroke="#353535" stroke-width="0.18">100</text>
<line x1="387.69" y1="170.30" x2="387.69" y2="171.60" stroke="#222" stroke-width="0.7"/>
<line x1="391.60" y1="170.30" x2="391.60" y2="172.70" stroke="#222" stroke-width="0.7"/>
<line x1="395.51" y1="170.30" x2="395.51" y2="171.60" stroke="#222" stroke-width="0.7"/>
<line x1="399.42" y1="170.30" x2="399.42" y2="171.60" stroke="#222" stroke-width="0.7"/>
<line x1="403.33" y1="170.30" x2="403.33" y2="171.60" stroke="#222" stroke-width="0.7"/>
<line x1="407.24" y1="170.30" x2="407.24" y2="172.70" stroke="#222" stroke-width="0.7"/>
<line x1="411.15" y1="170.30" x2="411.15" y2="171.60" stroke="#222" stroke-width="0.7"/>
<line x1="415.06" y1="170.30" x2="415.06" y2="171.60" stroke="#222" stroke-width="0.7"/>
<line x1="418.97" y1="170.30" x2="418.97" y2="171.60" stroke="#222" stroke-width="0.7"/>
<line x1="422.88" y1="170.30" x2="422.88" y2="172.70" stroke="#222" stroke-width="0.7"/>
<line x1="426.79" y1="170.30" x2="426.79" y2="171.60" stroke="#222" stroke-width="0.7"/>
<line x1="430.70" y1="170.30" x2="430.70" y2="171.60" stroke="#222" stroke-width="0.7"/>
<line x1="434.61" y1="170.30" x2="434.61" y2="171.60" stroke="#222" stroke-width="0.7"/>
<line x1="438.52" y1="170.30" x2="438.52" y2="172.70" stroke="#222" stroke-width="0.7"/>
<line x1="442.43" y1="170.30" x2="442.43" y2="171.60" stroke="#222" stroke-width="0.7"/>
<line x1="446.34" y1="170.30" x2="446.34" y2="171.60" stroke="#222" stroke-width="0.7"/>
<line x1="450.25" y1="170.30" x2="450.25" y2="171.60" stroke="#222" stroke-width="0.7"/>
<line x1="454.16" y1="170.30" x2="454.16" y2="172.70" stroke="#222" stroke-width="0.7"/>
<line x1="458.07" y1="170.30" x2="458.07" y2="171.60" stroke="#222" stroke-width="0.7"/>
<line x1="461.98" y1="170.30" x2="461.98" y2="171.60" stroke="#222" stroke-width="0.7"/>
<line x1="465.89" y1="170.30" x2="465.89" y2="171.60" stroke="#222" stroke-width="0.7"/>
<line x1="469.80" y1="170.30" x2="469.80" y2="172.70" stroke="#222" stroke-width="0.7"/>
<line x1="473.71" y1="170.30" x2="473.71" y2="171.60" stroke="#222" stroke-width="0.7"/>
<text x="391.80" y="182.10" font-size="6.4" text-anchor="middle" fill="#353535" font-weight="normal" stroke="#353535" stroke-width="0.18">0</text>
<text x="407.44" y="182.10" font-size="6.4" text-anchor="middle" fill="#353535" font-weight="normal" stroke="#353535" stroke-width="0.18">20</text>
<text x="423.08" y="182.10" font-size="6.4" text-anchor="middle" fill="#353535" font-weight="normal" stroke="#353535" stroke-width="0.18">40</text>
<text x="438.72" y="182.10" font-size="6.4" text-anchor="middle" fill="#353535" font-weight="normal" stroke="#353535" stroke-width="0.18">60</text>
<text x="454.36" y="182.10" font-size="6.4" text-anchor="middle" fill="#353535" font-weight="normal" stroke="#353535" stroke-width="0.18">80</text>
<text x="470.00" y="182.10" font-size="6.4" text-anchor="middle" fill="#353535" font-weight="normal" stroke="#353535" stroke-width="0.18">100</text>
<text x="430.20" y="193.30" font-size="6.9" text-anchor="middle" fill="#353535" font-weight="normal" stroke="#353535" stroke-width="0.18" textLength="19.2" lengthAdjust="spacingAndGlyphs">tSNE-1</text>
<text x="254.40" y="127.70" font-size="6.8" text-anchor="middle" fill="#353535" font-weight="normal" stroke="#353535" stroke-width="0.18" transform="rotate(-90 254.40 127.70)" textLength="18.6" lengthAdjust="spacingAndGlyphs">tSNE-2</text>
<text x="332.60" y="94.30" font-size="9.3" text-anchor="start" fill="#d63636" font-weight="normal" stroke="#d63636" stroke-width="0.18">patient</text>
<text x="277.40" y="168.60" font-size="10" text-anchor="start" fill="#e39462" font-weight="normal" stroke="#e39462" stroke-width="0.18" textLength="33.4" lengthAdjust="spacingAndGlyphs">MZ twin</text>
<rect x="478.20" y="98.60" width="16.90" height="70.08" fill="#2f3a4a"/>
<rect x="479.30" y="99.70" width="14.70" height="8.64" fill="#a8c832"/>
<text x="486.65" y="106.32" font-size="6.4" text-anchor="middle" fill="#46560c" font-weight="bold">1</text>
<rect x="479.30" y="109.54" width="14.70" height="8.64" fill="#3cb8ea"/>
<text x="486.65" y="116.16" font-size="6.4" text-anchor="middle" fill="#1a5a8a" font-weight="bold">2</text>
<rect x="479.30" y="119.38" width="14.70" height="8.64" fill="#e42a2a"/>
<text x="486.65" y="126.00" font-size="6.4" text-anchor="middle" fill="#9a1010" font-weight="bold">3</text>
<rect x="479.30" y="129.22" width="14.70" height="8.64" fill="#f29a40"/>
<text x="486.65" y="135.84" font-size="6.4" text-anchor="middle" fill="#7a4008" font-weight="bold">4</text>
<rect x="479.30" y="139.06" width="14.70" height="8.64" fill="#b25ab2"/>
<text x="486.65" y="145.68" font-size="6.4" text-anchor="middle" fill="#5e2060" font-weight="bold">5</text>
<rect x="479.30" y="148.90" width="14.70" height="8.64" fill="#2e6b2e"/>
<text x="486.65" y="155.52" font-size="6.4" text-anchor="middle" fill="#c8e8c0" font-weight="bold">6</text>
<rect x="479.30" y="158.74" width="14.70" height="8.64" fill="#c9a09c"/>
<text x="486.65" y="165.36" font-size="6.4" text-anchor="middle" fill="#705050" font-weight="bold">7</text>
<rect x="495.10" y="98.60" width="1.70" height="69.00" fill="#b8d4f0"/>
<rect x="496.80" y="98.60" width="16.90" height="70.08" fill="#2a2f5a"/>
<rect x="497.90" y="99.70" width="14.70" height="8.64" fill="#7a2a8a"/>
<text x="505.25" y="106.32" font-size="6.4" text-anchor="middle" fill="#e8c8ec" font-weight="bold">8</text>
<rect x="497.90" y="109.54" width="14.70" height="8.64" fill="#1f9898"/>
<text x="505.25" y="116.16" font-size="6.4" text-anchor="middle" fill="#0c4a4a" font-weight="bold">9</text>
<rect x="497.90" y="119.38" width="14.70" height="8.64" fill="#f5f000"/>
<text x="505.25" y="126.00" font-size="6.4" text-anchor="middle" fill="#333" font-weight="bold">10</text>
<rect x="497.90" y="129.22" width="14.70" height="8.64" fill="#6a6a6a"/>
<text x="505.25" y="135.84" font-size="6.4" text-anchor="middle" fill="#2e2e2e" font-weight="bold">11</text>
<rect x="497.90" y="139.06" width="14.70" height="8.64" fill="#d4d4d8"/>
<text x="505.25" y="145.68" font-size="6.4" text-anchor="middle" fill="#444" font-weight="bold">12</text>
<rect x="497.90" y="148.90" width="14.70" height="8.64" fill="#2e2a8c"/>
<text x="505.25" y="155.52" font-size="6.4" text-anchor="middle" fill="#c8c8f8" font-weight="bold">13</text>
<rect x="497.90" y="158.74" width="14.70" height="8.64" fill="#f5ec10"/>
<text x="505.25" y="165.36" font-size="6.4" text-anchor="middle" fill="#444" font-weight="bold">14</text>
<text x="6.90" y="221.70" font-size="11.5" text-anchor="start" fill="#111" font-weight="bold">E</text>
<rect x="52.10" y="249.90" width="13.21" height="10.79" fill="#ec463a" shape-rendering="crispEdges"/>
<rect x="65.25" y="249.90" width="13.21" height="10.79" fill="#ec463a" shape-rendering="crispEdges"/>
<rect x="78.41" y="249.90" width="13.21" height="10.79" fill="#a7a9db" shape-rendering="crispEdges"/>
<rect x="91.56" y="249.90" width="13.21" height="10.79" fill="#e41810" shape-rendering="crispEdges"/>
<rect x="104.72" y="249.90" width="13.21" height="10.79" fill="#f6a8a0" shape-rendering="crispEdges"/>
<rect x="117.88" y="249.90" width="13.21" height="10.79" fill="#f06b5e" shape-rendering="crispEdges"/>
<rect x="131.03" y="249.90" width="13.21" height="10.79" fill="#f06b5e" shape-rendering="crispEdges"/>
<rect x="144.19" y="249.90" width="13.21" height="10.79" fill="#f49086" shape-rendering="crispEdges"/>
<rect x="157.34" y="249.90" width="13.21" height="10.79" fill="#f6a8a0" shape-rendering="crispEdges"/>
<rect x="170.50" y="249.90" width="13.21" height="10.79" fill="#e82f25" shape-rendering="crispEdges"/>
<rect x="183.65" y="249.90" width="13.21" height="10.79" fill="#fbe9e6" shape-rendering="crispEdges"/>
<rect x="196.80" y="249.90" width="13.21" height="10.79" fill="#e41810" shape-rendering="crispEdges"/>
<rect x="209.96" y="249.90" width="13.21" height="10.79" fill="#f59c93" shape-rendering="crispEdges"/>
<rect x="223.11" y="249.90" width="13.21" height="10.79" fill="#f59c93" shape-rendering="crispEdges"/>
<rect x="236.27" y="249.90" width="13.21" height="10.79" fill="#e41810" shape-rendering="crispEdges"/>
<rect x="249.42" y="249.90" width="13.21" height="10.79" fill="#e41810" shape-rendering="crispEdges"/>
<rect x="262.58" y="249.90" width="13.21" height="10.79" fill="#e82f25" shape-rendering="crispEdges"/>
<rect x="275.74" y="249.90" width="13.21" height="10.79" fill="#ea3b2f" shape-rendering="crispEdges"/>
<rect x="288.89" y="249.90" width="13.21" height="10.79" fill="#f49086" shape-rendering="crispEdges"/>
<rect x="302.05" y="249.90" width="13.21" height="10.79" fill="#ea3b2f" shape-rendering="crispEdges"/>
<rect x="315.20" y="249.90" width="13.21" height="10.79" fill="#e6241a" shape-rendering="crispEdges"/>
<rect x="328.36" y="249.90" width="13.21" height="10.79" fill="#e82f25" shape-rendering="crispEdges"/>
<rect x="341.51" y="249.90" width="13.21" height="10.79" fill="#e82f25" shape-rendering="crispEdges"/>
<rect x="354.67" y="249.90" width="13.21" height="10.79" fill="#e82f25" shape-rendering="crispEdges"/>
<rect x="52.10" y="260.64" width="13.21" height="10.79" fill="#f49086" shape-rendering="crispEdges"/>
<rect x="65.25" y="260.64" width="13.21" height="10.79" fill="#a1a3d7" shape-rendering="crispEdges"/>
<rect x="78.41" y="260.64" width="13.21" height="10.79" fill="#6b6cb7" shape-rendering="crispEdges"/>
<rect x="91.56" y="260.64" width="13.21" height="10.79" fill="#faccc6" shape-rendering="crispEdges"/>
<rect x="104.72" y="260.64" width="13.21" height="10.79" fill="#fcf2f1" shape-rendering="crispEdges"/>
<rect x="117.88" y="260.64" width="13.21" height="10.79" fill="#dfe0f2" shape-rendering="crispEdges"/>
<rect x="131.03" y="260.64" width="13.21" height="10.79" fill="#dfe0f2" shape-rendering="crispEdges"/>
<rect x="144.19" y="260.64" width="13.21" height="10.79" fill="#eeeef7" shape-rendering="crispEdges"/>
<rect x="157.34" y="260.64" width="13.21" height="10.79" fill="#cacbea" shape-rendering="crispEdges"/>
<rect x="170.50" y="260.64" width="13.21" height="10.79" fill="#f8b4ac" shape-rendering="crispEdges"/>
<rect x="183.65" y="260.64" width="13.21" height="10.79" fill="#7476be" shape-rendering="crispEdges"/>
<rect x="196.80" y="260.64" width="13.21" height="10.79" fill="#fad6d1" shape-rendering="crispEdges"/>
<rect x="209.96" y="260.64" width="13.21" height="10.79" fill="#fbdfdc" shape-rendering="crispEdges"/>
<rect x="223.11" y="260.64" width="13.21" height="10.79" fill="#fcfcfc" shape-rendering="crispEdges"/>
<rect x="236.27" y="260.64" width="13.21" height="10.79" fill="#f9c0b9" shape-rendering="crispEdges"/>
<rect x="249.42" y="260.64" width="13.21" height="10.79" fill="#fbe9e6" shape-rendering="crispEdges"/>
<rect x="262.58" y="260.64" width="13.21" height="10.79" fill="#faccc6" shape-rendering="crispEdges"/>
<rect x="275.74" y="260.64" width="13.21" height="10.79" fill="#f6a8a0" shape-rendering="crispEdges"/>
<rect x="288.89" y="260.64" width="13.21" height="10.79" fill="#fbe9e6" shape-rendering="crispEdges"/>
<rect x="302.05" y="260.64" width="13.21" height="10.79" fill="#fcf7f7" shape-rendering="crispEdges"/>
<rect x="315.20" y="260.64" width="13.21" height="10.79" fill="#fcf2f1" shape-rendering="crispEdges"/>
<rect x="328.36" y="260.64" width="13.21" height="10.79" fill="#fcfcfc" shape-rendering="crispEdges"/>
<rect x="341.51" y="260.64" width="13.21" height="10.79" fill="#fad6d1" shape-rendering="crispEdges"/>
<rect x="354.67" y="260.64" width="13.21" height="10.79" fill="#fbdfdc" shape-rendering="crispEdges"/>
<rect x="52.10" y="271.39" width="13.21" height="10.79" fill="#6261b0" shape-rendering="crispEdges"/>
<rect x="65.25" y="271.39" width="13.21" height="10.79" fill="#a1a3d7" shape-rendering="crispEdges"/>
<rect x="78.41" y="271.39" width="13.21" height="10.79" fill="#5857aa" shape-rendering="crispEdges"/>
<rect x="91.56" y="271.39" width="13.21" height="10.79" fill="#a7a9db" shape-rendering="crispEdges"/>
<rect x="104.72" y="271.39" width="13.21" height="10.79" fill="#9496d0" shape-rendering="crispEdges"/>
<rect x="117.88" y="271.39" width="13.21" height="10.79" fill="#403b96" shape-rendering="crispEdges"/>
<rect x="131.03" y="271.39" width="13.21" height="10.79" fill="#f5f5f9" shape-rendering="crispEdges"/>
<rect x="144.19" y="271.39" width="13.21" height="10.79" fill="#4f4ca3" shape-rendering="crispEdges"/>
<rect x="157.34" y="271.39" width="13.21" height="10.79" fill="#5857aa" shape-rendering="crispEdges"/>
<rect x="170.50" y="271.39" width="13.21" height="10.79" fill="#5857aa" shape-rendering="crispEdges"/>
<rect x="183.65" y="271.39" width="13.21" height="10.79" fill="#8e90cc" shape-rendering="crispEdges"/>
<rect x="196.80" y="271.39" width="13.21" height="10.79" fill="#f5f5f9" shape-rendering="crispEdges"/>
<rect x="209.96" y="271.39" width="13.21" height="10.79" fill="#f9c0b9" shape-rendering="crispEdges"/>
<rect x="223.11" y="271.39" width="13.21" height="10.79" fill="#2e2786" shape-rendering="crispEdges"/>
<rect x="236.27" y="271.39" width="13.21" height="10.79" fill="#8183c5" shape-rendering="crispEdges"/>
<rect x="249.42" y="271.39" width="13.21" height="10.79" fill="#fbdfdc" shape-rendering="crispEdges"/>
<rect x="262.58" y="271.39" width="13.21" height="10.79" fill="#b4b6e2" shape-rendering="crispEdges"/>
<rect x="275.74" y="271.39" width="13.21" height="10.79" fill="#cacbea" shape-rendering="crispEdges"/>
<rect x="288.89" y="271.39" width="13.21" height="10.79" fill="#d8d9ef" shape-rendering="crispEdges"/>
<rect x="302.05" y="271.39" width="13.21" height="10.79" fill="#5857aa" shape-rendering="crispEdges"/>
<rect x="315.20" y="271.39" width="13.21" height="10.79" fill="#dfe0f2" shape-rendering="crispEdges"/>
<rect x="328.36" y="271.39" width="13.21" height="10.79" fill="#6b6cb7" shape-rendering="crispEdges"/>
<rect x="341.51" y="271.39" width="13.21" height="10.79" fill="#2e2786" shape-rendering="crispEdges"/>
<rect x="354.67" y="271.39" width="13.21" height="10.79" fill="#dfe0f2" shape-rendering="crispEdges"/>
<rect x="52.10" y="282.13" width="13.21" height="10.79" fill="#fcfcfc" shape-rendering="crispEdges"/>
<rect x="65.25" y="282.13" width="13.21" height="10.79" fill="#fad6d1" shape-rendering="crispEdges"/>
<rect x="78.41" y="282.13" width="13.21" height="10.79" fill="#5857aa" shape-rendering="crispEdges"/>
<rect x="91.56" y="282.13" width="13.21" height="10.79" fill="#fcfcfc" shape-rendering="crispEdges"/>
<rect x="104.72" y="282.13" width="13.21" height="10.79" fill="#d1d2ec" shape-rendering="crispEdges"/>
<rect x="117.88" y="282.13" width="13.21" height="10.79" fill="#8e90cc" shape-rendering="crispEdges"/>
<rect x="131.03" y="282.13" width="13.21" height="10.79" fill="#9a9cd4" shape-rendering="crispEdges"/>
<rect x="144.19" y="282.13" width="13.21" height="10.79" fill="#a7a9db" shape-rendering="crispEdges"/>
<rect x="157.34" y="282.13" width="13.21" height="10.79" fill="#7476be" shape-rendering="crispEdges"/>
<rect x="170.50" y="282.13" width="13.21" height="10.79" fill="#9496d0" shape-rendering="crispEdges"/>
<rect x="183.65" y="282.13" width="13.21" height="10.79" fill="#5857aa" shape-rendering="crispEdges"/>
<rect x="196.80" y="282.13" width="13.21" height="10.79" fill="#eeeef7" shape-rendering="crispEdges"/>
<rect x="209.96" y="282.13" width="13.21" height="10.79" fill="#fcf2f1" shape-rendering="crispEdges"/>
<rect x="223.11" y="282.13" width="13.21" height="10.79" fill="#9a9cd4" shape-rendering="crispEdges"/>
<rect x="236.27" y="282.13" width="13.21" height="10.79" fill="#fcf7f7" shape-rendering="crispEdges"/>
<rect x="249.42" y="282.13" width="13.21" height="10.79" fill="#fcf7f7" shape-rendering="crispEdges"/>
<rect x="262.58" y="282.13" width="13.21" height="10.79" fill="#fcf7f7" shape-rendering="crispEdges"/>
<rect x="275.74" y="282.13" width="13.21" height="10.79" fill="#fbdfdc" shape-rendering="crispEdges"/>
<rect x="288.89" y="282.13" width="13.21" height="10.79" fill="#fcfcfc" shape-rendering="crispEdges"/>
<rect x="302.05" y="282.13" width="13.21" height="10.79" fill="#cacbea" shape-rendering="crispEdges"/>
<rect x="315.20" y="282.13" width="13.21" height="10.79" fill="#f5f5f9" shape-rendering="crispEdges"/>
<rect x="328.36" y="282.13" width="13.21" height="10.79" fill="#7476be" shape-rendering="crispEdges"/>
<rect x="341.51" y="282.13" width="13.21" height="10.79" fill="#b4b6e2" shape-rendering="crispEdges"/>
<rect x="354.67" y="282.13" width="13.21" height="10.79" fill="#c2c4e7" shape-rendering="crispEdges"/>
<rect x="52.10" y="292.88" width="13.21" height="10.79" fill="#f2776c" shape-rendering="crispEdges"/>
<rect x="65.25" y="292.88" width="13.21" height="10.79" fill="#ef5e51" shape-rendering="crispEdges"/>
<rect x="78.41" y="292.88" width="13.21" height="10.79" fill="#6b6cb7" shape-rendering="crispEdges"/>
<rect x="91.56" y="292.88" width="13.21" height="10.79" fill="#f59c93" shape-rendering="crispEdges"/>
<rect x="104.72" y="292.88" width="13.21" height="10.79" fill="#fbeeec" shape-rendering="crispEdges"/>
<rect x="117.88" y="292.88" width="13.21" height="10.79" fill="#fbe9e6" shape-rendering="crispEdges"/>
<rect x="131.03" y="292.88" width="13.21" height="10.79" fill="#fcfcfc" shape-rendering="crispEdges"/>
<rect x="144.19" y="292.88" width="13.21" height="10.79" fill="#dfe0f2" shape-rendering="crispEdges"/>
<rect x="157.34" y="292.88" width="13.21" height="10.79" fill="#fcfcfc" shape-rendering="crispEdges"/>
<rect x="170.50" y="292.88" width="13.21" height="10.79" fill="#fbdfdc" shape-rendering="crispEdges"/>
<rect x="183.65" y="292.88" width="13.21" height="10.79" fill="#c2c4e7" shape-rendering="crispEdges"/>
<rect x="196.80" y="292.88" width="13.21" height="10.79" fill="#f6a8a0" shape-rendering="crispEdges"/>
<rect x="209.96" y="292.88" width="13.21" height="10.79" fill="#fad6d1" shape-rendering="crispEdges"/>
<rect x="223.11" y="292.88" width="13.21" height="10.79" fill="#fbeeec" shape-rendering="crispEdges"/>
<rect x="236.27" y="292.88" width="13.21" height="10.79" fill="#f49086" shape-rendering="crispEdges"/>
<rect x="249.42" y="292.88" width="13.21" height="10.79" fill="#f49086" shape-rendering="crispEdges"/>
<rect x="262.58" y="292.88" width="13.21" height="10.79" fill="#f6a8a0" shape-rendering="crispEdges"/>
<rect x="275.74" y="292.88" width="13.21" height="10.79" fill="#f49086" shape-rendering="crispEdges"/>
<rect x="288.89" y="292.88" width="13.21" height="10.79" fill="#fad6d1" shape-rendering="crispEdges"/>
<rect x="302.05" y="292.88" width="13.21" height="10.79" fill="#faccc6" shape-rendering="crispEdges"/>
<rect x="315.20" y="292.88" width="13.21" height="10.79" fill="#f59c93" shape-rendering="crispEdges"/>
<rect x="328.36" y="292.88" width="13.21" height="10.79" fill="#faccc6" shape-rendering="crispEdges"/>
<rect x="341.51" y="292.88" width="13.21" height="10.79" fill="#faccc6" shape-rendering="crispEdges"/>
<rect x="354.67" y="292.88" width="13.21" height="10.79" fill="#fbdfdc" shape-rendering="crispEdges"/>
<rect x="52.10" y="303.62" width="13.21" height="10.79" fill="#f9c0b9" shape-rendering="crispEdges"/>
<rect x="65.25" y="303.62" width="13.21" height="10.79" fill="#f06b5e" shape-rendering="crispEdges"/>
<rect x="78.41" y="303.62" width="13.21" height="10.79" fill="#6b6cb7" shape-rendering="crispEdges"/>
<rect x="91.56" y="303.62" width="13.21" height="10.79" fill="#f6a8a0" shape-rendering="crispEdges"/>
<rect x="104.72" y="303.62" width="13.21" height="10.79" fill="#e6e7f4" shape-rendering="crispEdges"/>
<rect x="117.88" y="303.62" width="13.21" height="10.79" fill="#c2c4e7" shape-rendering="crispEdges"/>
<rect x="131.03" y="303.62" width="13.21" height="10.79" fill="#fbe9e6" shape-rendering="crispEdges"/>
<rect x="144.19" y="303.62" width="13.21" height="10.79" fill="#c2c4e7" shape-rendering="crispEdges"/>
<rect x="157.34" y="303.62" width="13.21" height="10.79" fill="#9a9cd4" shape-rendering="crispEdges"/>
<rect x="170.50" y="303.62" width="13.21" height="10.79" fill="#f9c0b9" shape-rendering="crispEdges"/>
<rect x="183.65" y="303.62" width="13.21" height="10.79" fill="#a7a9db" shape-rendering="crispEdges"/>
<rect x="196.80" y="303.62" width="13.21" height="10.79" fill="#fad6d1" shape-rendering="crispEdges"/>
<rect x="209.96" y="303.62" width="13.21" height="10.79" fill="#fad6d1" shape-rendering="crispEdges"/>
<rect x="223.11" y="303.62" width="13.21" height="10.79" fill="#5857aa" shape-rendering="crispEdges"/>
<rect x="236.27" y="303.62" width="13.21" height="10.79" fill="#f2776c" shape-rendering="crispEdges"/>
<rect x="249.42" y="303.62" width="13.21" height="10.79" fill="#fad6d1" shape-rendering="crispEdges"/>
<rect x="262.58" y="303.62" width="13.21" height="10.79" fill="#f6a8a0" shape-rendering="crispEdges"/>
<rect x="275.74" y="303.62" width="13.21" height="10.79" fill="#fbe9e6" shape-rendering="crispEdges"/>
<rect x="288.89" y="303.62" width="13.21" height="10.79" fill="#e41810" shape-rendering="crispEdges"/>
<rect x="302.05" y="303.62" width="13.21" height="10.79" fill="#8e90cc" shape-rendering="crispEdges"/>
<rect x="315.20" y="303.62" width="13.21" height="10.79" fill="#fad6d1" shape-rendering="crispEdges"/>
<rect x="328.36" y="303.62" width="13.21" height="10.79" fill="#fad6d1" shape-rendering="crispEdges"/>
<rect x="341.51" y="303.62" width="13.21" height="10.79" fill="#fcf7f7" shape-rendering="crispEdges"/>
<rect x="354.67" y="303.62" width="13.21" height="10.79" fill="#dfe0f2" shape-rendering="crispEdges"/>
<rect x="52.10" y="314.37" width="13.21" height="10.79" fill="#7476be" shape-rendering="crispEdges"/>
<rect x="65.25" y="314.37" width="13.21" height="10.79" fill="#8e90cc" shape-rendering="crispEdges"/>
<rect x="78.41" y="314.37" width="13.21" height="10.79" fill="#b4b6e2" shape-rendering="crispEdges"/>
<rect x="91.56" y="314.37" width="13.21" height="10.79" fill="#6b6cb7" shape-rendering="crispEdges"/>
<rect x="104.72" y="314.37" width="13.21" height="10.79" fill="#7476be" shape-rendering="crispEdges"/>
<rect x="117.88" y="314.37" width="13.21" height="10.79" fill="#403b96" shape-rendering="crispEdges"/>
<rect x="131.03" y="314.37" width="13.21" height="10.79" fill="#342e8b" shape-rendering="crispEdges"/>
<rect x="144.19" y="314.37" width="13.21" height="10.79" fill="#46429c" shape-rendering="crispEdges"/>
<rect x="157.34" y="314.37" width="13.21" height="10.79" fill="#403b96" shape-rendering="crispEdges"/>
<rect x="170.50" y="314.37" width="13.21" height="10.79" fill="#5857aa" shape-rendering="crispEdges"/>
<rect x="183.65" y="314.37" width="13.21" height="10.79" fill="#5857aa" shape-rendering="crispEdges"/>
<rect x="196.80" y="314.37" width="13.21" height="10.79" fill="#9a9cd4" shape-rendering="crispEdges"/>
<rect x="209.96" y="314.37" width="13.21" height="10.79" fill="#fcfcfc" shape-rendering="crispEdges"/>
<rect x="223.11" y="314.37" width="13.21" height="10.79" fill="#2e2786" shape-rendering="crispEdges"/>
<rect x="236.27" y="314.37" width="13.21" height="10.79" fill="#dfe0f2" shape-rendering="crispEdges"/>
<rect x="249.42" y="314.37" width="13.21" height="10.79" fill="#6b6cb7" shape-rendering="crispEdges"/>
<rect x="262.58" y="314.37" width="13.21" height="10.79" fill="#b4b6e2" shape-rendering="crispEdges"/>
<rect x="275.74" y="314.37" width="13.21" height="10.79" fill="#a7a9db" shape-rendering="crispEdges"/>
<rect x="288.89" y="314.37" width="13.21" height="10.79" fill="#dfe0f2" shape-rendering="crispEdges"/>
<rect x="302.05" y="314.37" width="13.21" height="10.79" fill="#342e8b" shape-rendering="crispEdges"/>
<rect x="315.20" y="314.37" width="13.21" height="10.79" fill="#6b6cb7" shape-rendering="crispEdges"/>
<rect x="328.36" y="314.37" width="13.21" height="10.79" fill="#fad6d1" shape-rendering="crispEdges"/>
<rect x="341.51" y="314.37" width="13.21" height="10.79" fill="#342e8b" shape-rendering="crispEdges"/>
<rect x="354.67" y="314.37" width="13.21" height="10.79" fill="#6b6cb7" shape-rendering="crispEdges"/>
<rect x="52.10" y="325.12" width="13.21" height="10.79" fill="#b4b6e2" shape-rendering="crispEdges"/>
<rect x="65.25" y="325.12" width="13.21" height="10.79" fill="#b4b6e2" shape-rendering="crispEdges"/>
<rect x="78.41" y="325.12" width="13.21" height="10.79" fill="#faccc6" shape-rendering="crispEdges"/>
<rect x="91.56" y="325.12" width="13.21" height="10.79" fill="#a7a9db" shape-rendering="crispEdges"/>
<rect x="104.72" y="325.12" width="13.21" height="10.79" fill="#282080" shape-rendering="crispEdges"/>
<rect x="117.88" y="325.12" width="13.21" height="10.79" fill="#f59c93" shape-rendering="crispEdges"/>
<rect x="131.03" y="325.12" width="13.21" height="10.79" fill="#a7a9db" shape-rendering="crispEdges"/>
<rect x="144.19" y="325.12" width="13.21" height="10.79" fill="#9a9cd4" shape-rendering="crispEdges"/>
<rect x="157.34" y="325.12" width="13.21" height="10.79" fill="#fbdfdc" shape-rendering="crispEdges"/>
<rect x="170.50" y="325.12" width="13.21" height="10.79" fill="#fbdfdc" shape-rendering="crispEdges"/>
<rect x="183.65" y="325.12" width="13.21" height="10.79" fill="#fad6d1" shape-rendering="crispEdges"/>
<rect x="196.80" y="325.12" width="13.21" height="10.79" fill="#eeeef7" shape-rendering="crispEdges"/>
<rect x="209.96" y="325.12" width="13.21" height="10.79" fill="#fbe9e6" shape-rendering="crispEdges"/>
<rect x="223.11" y="325.12" width="13.21" height="10.79" fill="#f9c0b9" shape-rendering="crispEdges"/>
<rect x="236.27" y="325.12" width="13.21" height="10.79" fill="#b4b6e2" shape-rendering="crispEdges"/>
<rect x="249.42" y="325.12" width="13.21" height="10.79" fill="#a7a9db" shape-rendering="crispEdges"/>
<rect x="262.58" y="325.12" width="13.21" height="10.79" fill="#c2c4e7" shape-rendering="crispEdges"/>
<rect x="275.74" y="325.12" width="13.21" height="10.79" fill="#c2c4e7" shape-rendering="crispEdges"/>
<rect x="288.89" y="325.12" width="13.21" height="10.79" fill="#a7a9db" shape-rendering="crispEdges"/>
<rect x="302.05" y="325.12" width="13.21" height="10.79" fill="#fcf7f7" shape-rendering="crispEdges"/>
<rect x="315.20" y="325.12" width="13.21" height="10.79" fill="#bbbde5" shape-rendering="crispEdges"/>
<rect x="328.36" y="325.12" width="13.21" height="10.79" fill="#9a9cd4" shape-rendering="crispEdges"/>
<rect x="341.51" y="325.12" width="13.21" height="10.79" fill="#fcf7f7" shape-rendering="crispEdges"/>
<rect x="354.67" y="325.12" width="13.21" height="10.79" fill="#fad6d1" shape-rendering="crispEdges"/>
<rect x="52.10" y="335.86" width="13.21" height="10.79" fill="#7476be" shape-rendering="crispEdges"/>
<rect x="65.25" y="335.86" width="13.21" height="10.79" fill="#9a9cd4" shape-rendering="crispEdges"/>
<rect x="78.41" y="335.86" width="13.21" height="10.79" fill="#fbeeec" shape-rendering="crispEdges"/>
<rect x="91.56" y="335.86" width="13.21" height="10.79" fill="#a7a9db" shape-rendering="crispEdges"/>
<rect x="104.72" y="335.86" width="13.21" height="10.79" fill="#f9c0b9" shape-rendering="crispEdges"/>
<rect x="117.88" y="335.86" width="13.21" height="10.79" fill="#6261b0" shape-rendering="crispEdges"/>
<rect x="131.03" y="335.86" width="13.21" height="10.79" fill="#fcfcfc" shape-rendering="crispEdges"/>
<rect x="144.19" y="335.86" width="13.21" height="10.79" fill="#fbeeec" shape-rendering="crispEdges"/>
<rect x="157.34" y="335.86" width="13.21" height="10.79" fill="#dfe0f2" shape-rendering="crispEdges"/>
<rect x="170.50" y="335.86" width="13.21" height="10.79" fill="#5857aa" shape-rendering="crispEdges"/>
<rect x="183.65" y="335.86" width="13.21" height="10.79" fill="#9a9cd4" shape-rendering="crispEdges"/>
<rect x="196.80" y="335.86" width="13.21" height="10.79" fill="#6666b4" shape-rendering="crispEdges"/>
<rect x="209.96" y="335.86" width="13.21" height="10.79" fill="#2e2786" shape-rendering="crispEdges"/>
<rect x="223.11" y="335.86" width="13.21" height="10.79" fill="#c2c4e7" shape-rendering="crispEdges"/>
<rect x="236.27" y="335.86" width="13.21" height="10.79" fill="#6b6cb7" shape-rendering="crispEdges"/>
<rect x="249.42" y="335.86" width="13.21" height="10.79" fill="#6b6cb7" shape-rendering="crispEdges"/>
<rect x="262.58" y="335.86" width="13.21" height="10.79" fill="#5857aa" shape-rendering="crispEdges"/>
<rect x="275.74" y="335.86" width="13.21" height="10.79" fill="#5857aa" shape-rendering="crispEdges"/>
<rect x="288.89" y="335.86" width="13.21" height="10.79" fill="#8e90cc" shape-rendering="crispEdges"/>
<rect x="302.05" y="335.86" width="13.21" height="10.79" fill="#7476be" shape-rendering="crispEdges"/>
<rect x="315.20" y="335.86" width="13.21" height="10.79" fill="#6261b0" shape-rendering="crispEdges"/>
<rect x="328.36" y="335.86" width="13.21" height="10.79" fill="#5452a6" shape-rendering="crispEdges"/>
<rect x="341.51" y="335.86" width="13.21" height="10.79" fill="#8e90cc" shape-rendering="crispEdges"/>
<rect x="354.67" y="335.86" width="13.21" height="10.79" fill="#2e2786" shape-rendering="crispEdges"/>
<rect x="52.10" y="346.61" width="13.21" height="10.79" fill="#b4b6e2" shape-rendering="crispEdges"/>
<rect x="65.25" y="346.61" width="13.21" height="10.79" fill="#d1d2ec" shape-rendering="crispEdges"/>
<rect x="78.41" y="346.61" width="13.21" height="10.79" fill="#fbdad6" shape-rendering="crispEdges"/>
<rect x="91.56" y="346.61" width="13.21" height="10.79" fill="#c2c4e7" shape-rendering="crispEdges"/>
<rect x="104.72" y="346.61" width="13.21" height="10.79" fill="#f6a8a0" shape-rendering="crispEdges"/>
<rect x="117.88" y="346.61" width="13.21" height="10.79" fill="#fbeeec" shape-rendering="crispEdges"/>
<rect x="131.03" y="346.61" width="13.21" height="10.79" fill="#f38479" shape-rendering="crispEdges"/>
<rect x="144.19" y="346.61" width="13.21" height="10.79" fill="#f38479" shape-rendering="crispEdges"/>
<rect x="157.34" y="346.61" width="13.21" height="10.79" fill="#f8b4ac" shape-rendering="crispEdges"/>
<rect x="170.50" y="346.61" width="13.21" height="10.79" fill="#dfe0f2" shape-rendering="crispEdges"/>
<rect x="183.65" y="346.61" width="13.21" height="10.79" fill="#f9c0b9" shape-rendering="crispEdges"/>
<rect x="196.80" y="346.61" width="13.21" height="10.79" fill="#a7a9db" shape-rendering="crispEdges"/>
<rect x="209.96" y="346.61" width="13.21" height="10.79" fill="#342e8b" shape-rendering="crispEdges"/>
<rect x="223.11" y="346.61" width="13.21" height="10.79" fill="#fad6d1" shape-rendering="crispEdges"/>
<rect x="236.27" y="346.61" width="13.21" height="10.79" fill="#9a9cd4" shape-rendering="crispEdges"/>
<rect x="249.42" y="346.61" width="13.21" height="10.79" fill="#c2c4e7" shape-rendering="crispEdges"/>
<rect x="262.58" y="346.61" width="13.21" height="10.79" fill="#9a9cd4" shape-rendering="crispEdges"/>
<rect x="275.74" y="346.61" width="13.21" height="10.79" fill="#5857aa" shape-rendering="crispEdges"/>
<rect x="288.89" y="346.61" width="13.21" height="10.79" fill="#9a9cd4" shape-rendering="crispEdges"/>
<rect x="302.05" y="346.61" width="13.21" height="10.79" fill="#fcf2f1" shape-rendering="crispEdges"/>
<rect x="315.20" y="346.61" width="13.21" height="10.79" fill="#b4b6e2" shape-rendering="crispEdges"/>
<rect x="328.36" y="346.61" width="13.21" height="10.79" fill="#fcfcfc" shape-rendering="crispEdges"/>
<rect x="341.51" y="346.61" width="13.21" height="10.79" fill="#fbdad6" shape-rendering="crispEdges"/>
<rect x="354.67" y="346.61" width="13.21" height="10.79" fill="#8183c5" shape-rendering="crispEdges"/>
<rect x="52.10" y="357.35" width="13.21" height="10.79" fill="#a7a9db" shape-rendering="crispEdges"/>
<rect x="65.25" y="357.35" width="13.21" height="10.79" fill="#a7a9db" shape-rendering="crispEdges"/>
<rect x="78.41" y="357.35" width="13.21" height="10.79" fill="#fbeeec" shape-rendering="crispEdges"/>
<rect x="91.56" y="357.35" width="13.21" height="10.79" fill="#a7a9db" shape-rendering="crispEdges"/>
<rect x="104.72" y="357.35" width="13.21" height="10.79" fill="#282080" shape-rendering="crispEdges"/>
<rect x="117.88" y="357.35" width="13.21" height="10.79" fill="#f9c0b9" shape-rendering="crispEdges"/>
<rect x="131.03" y="357.35" width="13.21" height="10.79" fill="#fad6d1" shape-rendering="crispEdges"/>
<rect x="144.19" y="357.35" width="13.21" height="10.79" fill="#a7a9db" shape-rendering="crispEdges"/>
<rect x="157.34" y="357.35" width="13.21" height="10.79" fill="#f8b4ac" shape-rendering="crispEdges"/>
<rect x="170.50" y="357.35" width="13.21" height="10.79" fill="#fcfcfc" shape-rendering="crispEdges"/>
<rect x="183.65" y="357.35" width="13.21" height="10.79" fill="#fcf7f7" shape-rendering="crispEdges"/>
<rect x="196.80" y="357.35" width="13.21" height="10.79" fill="#8e90cc" shape-rendering="crispEdges"/>
<rect x="209.96" y="357.35" width="13.21" height="10.79" fill="#b4b6e2" shape-rendering="crispEdges"/>
<rect x="223.11" y="357.35" width="13.21" height="10.79" fill="#fad6d1" shape-rendering="crispEdges"/>
<rect x="236.27" y="357.35" width="13.21" height="10.79" fill="#8e90cc" shape-rendering="crispEdges"/>
<rect x="249.42" y="357.35" width="13.21" height="10.79" fill="#8e90cc" shape-rendering="crispEdges"/>
<rect x="262.58" y="357.35" width="13.21" height="10.79" fill="#9496d0" shape-rendering="crispEdges"/>
<rect x="275.74" y="357.35" width="13.21" height="10.79" fill="#5857aa" shape-rendering="crispEdges"/>
<rect x="288.89" y="357.35" width="13.21" height="10.79" fill="#b4b6e2" shape-rendering="crispEdges"/>
<rect x="302.05" y="357.35" width="13.21" height="10.79" fill="#c2c4e7" shape-rendering="crispEdges"/>
<rect x="315.20" y="357.35" width="13.21" height="10.79" fill="#b4b6e2" shape-rendering="crispEdges"/>
<rect x="328.36" y="357.35" width="13.21" height="10.79" fill="#6b6cb7" shape-rendering="crispEdges"/>
<rect x="341.51" y="357.35" width="13.21" height="10.79" fill="#fcf7f7" shape-rendering="crispEdges"/>
<rect x="354.67" y="357.35" width="13.21" height="10.79" fill="#fcf2f1" shape-rendering="crispEdges"/>
<rect x="52.10" y="368.10" width="13.21" height="10.79" fill="#fbeeec" shape-rendering="crispEdges"/>
<rect x="65.25" y="368.10" width="13.21" height="10.79" fill="#d1d2ec" shape-rendering="crispEdges"/>
<rect x="78.41" y="368.10" width="13.21" height="10.79" fill="#ec463a" shape-rendering="crispEdges"/>
<rect x="91.56" y="368.10" width="13.21" height="10.79" fill="#a7a9db" shape-rendering="crispEdges"/>
<rect x="104.72" y="368.10" width="13.21" height="10.79" fill="#fbeeec" shape-rendering="crispEdges"/>
<rect x="117.88" y="368.10" width="13.21" height="10.79" fill="#f59c93" shape-rendering="crispEdges"/>
<rect x="131.03" y="368.10" width="13.21" height="10.79" fill="#8e90cc" shape-rendering="crispEdges"/>
<rect x="144.19" y="368.10" width="13.21" height="10.79" fill="#fbdfdc" shape-rendering="crispEdges"/>
<rect x="157.34" y="368.10" width="13.21" height="10.79" fill="#f8b4ac" shape-rendering="crispEdges"/>
<rect x="170.50" y="368.10" width="13.21" height="10.79" fill="#fad6d1" shape-rendering="crispEdges"/>
<rect x="183.65" y="368.10" width="13.21" height="10.79" fill="#ea3b2f" shape-rendering="crispEdges"/>
<rect x="196.80" y="368.10" width="13.21" height="10.79" fill="#fbe9e6" shape-rendering="crispEdges"/>
<rect x="209.96" y="368.10" width="13.21" height="10.79" fill="#f6a8a0" shape-rendering="crispEdges"/>
<rect x="223.11" y="368.10" width="13.21" height="10.79" fill="#f38479" shape-rendering="crispEdges"/>
<rect x="236.27" y="368.10" width="13.21" height="10.79" fill="#fcfcfc" shape-rendering="crispEdges"/>
<rect x="249.42" y="368.10" width="13.21" height="10.79" fill="#fcfcfc" shape-rendering="crispEdges"/>
<rect x="262.58" y="368.10" width="13.21" height="10.79" fill="#fbe9e6" shape-rendering="crispEdges"/>
<rect x="275.74" y="368.10" width="13.21" height="10.79" fill="#faccc6" shape-rendering="crispEdges"/>
<rect x="288.89" y="368.10" width="13.21" height="10.79" fill="#b4b6e2" shape-rendering="crispEdges"/>
<rect x="302.05" y="368.10" width="13.21" height="10.79" fill="#ee5244" shape-rendering="crispEdges"/>
<rect x="315.20" y="368.10" width="13.21" height="10.79" fill="#fcf7f7" shape-rendering="crispEdges"/>
<rect x="328.36" y="368.10" width="13.21" height="10.79" fill="#fbdad6" shape-rendering="crispEdges"/>
<rect x="341.51" y="368.10" width="13.21" height="10.79" fill="#fbdad6" shape-rendering="crispEdges"/>
<rect x="354.67" y="368.10" width="13.21" height="10.79" fill="#ef5e51" shape-rendering="crispEdges"/>
<rect x="52.10" y="378.84" width="13.21" height="10.79" fill="#f8f8fa" shape-rendering="crispEdges"/>
<rect x="65.25" y="378.84" width="13.21" height="10.79" fill="#b4b6e2" shape-rendering="crispEdges"/>
<rect x="78.41" y="378.84" width="13.21" height="10.79" fill="#f6a8a0" shape-rendering="crispEdges"/>
<rect x="91.56" y="378.84" width="13.21" height="10.79" fill="#c2c4e7" shape-rendering="crispEdges"/>
<rect x="104.72" y="378.84" width="13.21" height="10.79" fill="#ec463a" shape-rendering="crispEdges"/>
<rect x="117.88" y="378.84" width="13.21" height="10.79" fill="#fbeeec" shape-rendering="crispEdges"/>
<rect x="131.03" y="378.84" width="13.21" height="10.79" fill="#f49086" shape-rendering="crispEdges"/>
<rect x="144.19" y="378.84" width="13.21" height="10.79" fill="#ee5244" shape-rendering="crispEdges"/>
<rect x="157.34" y="378.84" width="13.21" height="10.79" fill="#ef5e51" shape-rendering="crispEdges"/>
<rect x="170.50" y="378.84" width="13.21" height="10.79" fill="#8183c5" shape-rendering="crispEdges"/>
<rect x="183.65" y="378.84" width="13.21" height="10.79" fill="#f38479" shape-rendering="crispEdges"/>
<rect x="196.80" y="378.84" width="13.21" height="10.79" fill="#6f71bb" shape-rendering="crispEdges"/>
<rect x="209.96" y="378.84" width="13.21" height="10.79" fill="#282080" shape-rendering="crispEdges"/>
<rect x="223.11" y="378.84" width="13.21" height="10.79" fill="#f9c0b9" shape-rendering="crispEdges"/>
<rect x="236.27" y="378.84" width="13.21" height="10.79" fill="#6261b0" shape-rendering="crispEdges"/>
<rect x="249.42" y="378.84" width="13.21" height="10.79" fill="#c2c4e7" shape-rendering="crispEdges"/>
<rect x="262.58" y="378.84" width="13.21" height="10.79" fill="#5857aa" shape-rendering="crispEdges"/>
<rect x="275.74" y="378.84" width="13.21" height="10.79" fill="#5857aa" shape-rendering="crispEdges"/>
<rect x="288.89" y="378.84" width="13.21" height="10.79" fill="#a7a9db" shape-rendering="crispEdges"/>
<rect x="302.05" y="378.84" width="13.21" height="10.79" fill="#fcf7f7" shape-rendering="crispEdges"/>
<rect x="315.20" y="378.84" width="13.21" height="10.79" fill="#b4b6e2" shape-rendering="crispEdges"/>
<rect x="328.36" y="378.84" width="13.21" height="10.79" fill="#fbeeec" shape-rendering="crispEdges"/>
<rect x="341.51" y="378.84" width="13.21" height="10.79" fill="#fbdfdc" shape-rendering="crispEdges"/>
<rect x="354.67" y="378.84" width="13.21" height="10.79" fill="#46429c" shape-rendering="crispEdges"/>
<rect x="52.10" y="389.59" width="13.21" height="10.79" fill="#8e90cc" shape-rendering="crispEdges"/>
<rect x="65.25" y="389.59" width="13.21" height="10.79" fill="#a7a9db" shape-rendering="crispEdges"/>
<rect x="78.41" y="389.59" width="13.21" height="10.79" fill="#f59c93" shape-rendering="crispEdges"/>
<rect x="91.56" y="389.59" width="13.21" height="10.79" fill="#9a9cd4" shape-rendering="crispEdges"/>
<rect x="104.72" y="389.59" width="13.21" height="10.79" fill="#fcf7f7" shape-rendering="crispEdges"/>
<rect x="117.88" y="389.59" width="13.21" height="10.79" fill="#9a9cd4" shape-rendering="crispEdges"/>
<rect x="131.03" y="389.59" width="13.21" height="10.79" fill="#4f4ca3" shape-rendering="crispEdges"/>
<rect x="144.19" y="389.59" width="13.21" height="10.79" fill="#b4b6e2" shape-rendering="crispEdges"/>
<rect x="157.34" y="389.59" width="13.21" height="10.79" fill="#a7a9db" shape-rendering="crispEdges"/>
<rect x="170.50" y="389.59" width="13.21" height="10.79" fill="#fcfcfc" shape-rendering="crispEdges"/>
<rect x="183.65" y="389.59" width="13.21" height="10.79" fill="#e6e7f4" shape-rendering="crispEdges"/>
<rect x="196.80" y="389.59" width="13.21" height="10.79" fill="#9a9cd4" shape-rendering="crispEdges"/>
<rect x="209.96" y="389.59" width="13.21" height="10.79" fill="#fbeeec" shape-rendering="crispEdges"/>
<rect x="223.11" y="389.59" width="13.21" height="10.79" fill="#fcfcfc" shape-rendering="crispEdges"/>
<rect x="236.27" y="389.59" width="13.21" height="10.79" fill="#b4b6e2" shape-rendering="crispEdges"/>
<rect x="249.42" y="389.59" width="13.21" height="10.79" fill="#9a9cd4" shape-rendering="crispEdges"/>
<rect x="262.58" y="389.59" width="13.21" height="10.79" fill="#b4b6e2" shape-rendering="crispEdges"/>
<rect x="275.74" y="389.59" width="13.21" height="10.79" fill="#fcf7f7" shape-rendering="crispEdges"/>
<rect x="288.89" y="389.59" width="13.21" height="10.79" fill="#a7a9db" shape-rendering="crispEdges"/>
<rect x="302.05" y="389.59" width="13.21" height="10.79" fill="#eeeef7" shape-rendering="crispEdges"/>
<rect x="315.20" y="389.59" width="13.21" height="10.79" fill="#a1a3d7" shape-rendering="crispEdges"/>
<rect x="328.36" y="389.59" width="13.21" height="10.79" fill="#8183c5" shape-rendering="crispEdges"/>
<rect x="341.51" y="389.59" width="13.21" height="10.79" fill="#a7a9db" shape-rendering="crispEdges"/>
<rect x="354.67" y="389.59" width="13.21" height="10.79" fill="#fcf7f7" shape-rendering="crispEdges"/>
<line x1="52.10" y1="400.53" x2="367.82" y2="400.53" stroke="#555" stroke-width="0.8"/>
<line x1="51.90" y1="249.90" x2="51.90" y2="400.33" stroke="#999" stroke-width="0.5"/>
<line x1="58.68" y1="400.33" x2="58.68" y2="402.93" stroke="#444" stroke-width="0.7"/>
<text x="60.98" y="404.30" font-size="6.5" text-anchor="end" fill="#353535" font-weight="normal" stroke="#353535" stroke-width="0.18" transform="rotate(-90 60.98 404.30)">CD56</text>
<line x1="71.83" y1="400.33" x2="71.83" y2="402.93" stroke="#444" stroke-width="0.7"/>
<text x="74.13" y="404.30" font-size="6.5" text-anchor="end" fill="#353535" font-weight="normal" stroke="#353535" stroke-width="0.18" transform="rotate(-90 74.13 404.30)">CD16</text>
<line x1="84.99" y1="400.33" x2="84.99" y2="402.93" stroke="#444" stroke-width="0.7"/>
<text x="87.29" y="404.30" font-size="6.5" text-anchor="end" fill="#353535" font-weight="normal" stroke="#353535" stroke-width="0.18" transform="rotate(-90 87.29 404.30)">CD226</text>
<line x1="98.14" y1="400.33" x2="98.14" y2="402.93" stroke="#444" stroke-width="0.7"/>
<text x="100.44" y="404.30" font-size="6.5" text-anchor="end" fill="#353535" font-weight="normal" stroke="#353535" stroke-width="0.18" transform="rotate(-90 100.44 404.30)">NKp30</text>
<line x1="111.30" y1="400.33" x2="111.30" y2="402.93" stroke="#444" stroke-width="0.7"/>
<text x="113.60" y="404.30" font-size="6.5" text-anchor="end" fill="#353535" font-weight="normal" stroke="#353535" stroke-width="0.18" transform="rotate(-90 113.60 404.30)">CD57</text>
<line x1="124.45" y1="400.33" x2="124.45" y2="402.93" stroke="#444" stroke-width="0.7"/>
<text x="126.75" y="404.30" font-size="6.5" text-anchor="end" fill="#353535" font-weight="normal" stroke="#353535" stroke-width="0.18" transform="rotate(-90 126.75 404.30)">NKG2D</text>
<line x1="137.61" y1="400.33" x2="137.61" y2="402.93" stroke="#444" stroke-width="0.7"/>
<text x="139.91" y="404.30" font-size="6.5" text-anchor="end" fill="#353535" font-weight="normal" stroke="#353535" stroke-width="0.18" transform="rotate(-90 139.91 404.30)">NKG2C</text>
<line x1="150.76" y1="400.33" x2="150.76" y2="402.93" stroke="#444" stroke-width="0.7"/>
<text x="153.06" y="404.30" font-size="6.5" text-anchor="end" fill="#353535" font-weight="normal" stroke="#353535" stroke-width="0.18" transform="rotate(-90 153.06 404.30)">NKp46</text>
<line x1="163.92" y1="400.33" x2="163.92" y2="402.93" stroke="#444" stroke-width="0.7"/>
<text x="166.22" y="404.30" font-size="6.5" text-anchor="end" fill="#353535" font-weight="normal" stroke="#353535" stroke-width="0.18" transform="rotate(-90 166.22 404.30)">NKp44</text>
<line x1="177.07" y1="400.33" x2="177.07" y2="402.93" stroke="#444" stroke-width="0.7"/>
<text x="179.37" y="404.30" font-size="6.5" text-anchor="end" fill="#353535" font-weight="normal" stroke="#353535" stroke-width="0.18" transform="rotate(-90 179.37 404.30)">TRAIL</text>
<line x1="190.23" y1="400.33" x2="190.23" y2="402.93" stroke="#444" stroke-width="0.7"/>
<text x="192.53" y="404.30" font-size="6.5" text-anchor="end" fill="#353535" font-weight="normal" stroke="#353535" stroke-width="0.18" transform="rotate(-90 192.53 404.30)">CD38</text>
<line x1="203.38" y1="400.33" x2="203.38" y2="402.93" stroke="#444" stroke-width="0.7"/>
<text x="205.68" y="404.30" font-size="6.5" text-anchor="end" fill="#353535" font-weight="normal" stroke="#353535" stroke-width="0.18" transform="rotate(-90 205.68 404.30)">CD69</text>
<line x1="216.54" y1="400.33" x2="216.54" y2="402.93" stroke="#444" stroke-width="0.7"/>
<text x="218.84" y="404.30" font-size="6.5" text-anchor="end" fill="#353535" font-weight="normal" stroke="#353535" stroke-width="0.18" transform="rotate(-90 218.84 404.30)">CXCR6</text>
<line x1="229.69" y1="400.33" x2="229.69" y2="402.93" stroke="#444" stroke-width="0.7"/>
<text x="231.99" y="404.30" font-size="6.5" text-anchor="end" fill="#353535" font-weight="normal" stroke="#353535" stroke-width="0.18" transform="rotate(-90 231.99 404.30)">CD94</text>
<line x1="242.85" y1="400.33" x2="242.85" y2="402.93" stroke="#444" stroke-width="0.7"/>
<text x="245.15" y="404.30" font-size="6.5" text-anchor="end" fill="#353535" font-weight="normal" stroke="#353535" stroke-width="0.18" transform="rotate(-90 245.15 404.30)">TIM3</text>
<line x1="256.00" y1="400.33" x2="256.00" y2="402.93" stroke="#444" stroke-width="0.7"/>
<text x="258.30" y="404.30" font-size="6.5" text-anchor="end" fill="#353535" font-weight="normal" stroke="#353535" stroke-width="0.18" transform="rotate(-90 258.30 404.30)">CD161</text>
<line x1="269.16" y1="400.33" x2="269.16" y2="402.93" stroke="#444" stroke-width="0.7"/>
<text x="271.46" y="404.30" font-size="6.5" text-anchor="end" fill="#353535" font-weight="normal" stroke="#353535" stroke-width="0.18" transform="rotate(-90 271.46 404.30)">KIR2DL1/S1</text>
<line x1="282.31" y1="400.33" x2="282.31" y2="402.93" stroke="#444" stroke-width="0.7"/>
<text x="284.61" y="404.30" font-size="6.5" text-anchor="end" fill="#353535" font-weight="normal" stroke="#353535" stroke-width="0.18" transform="rotate(-90 284.61 404.30)">KIR2DL2/L3/S2</text>
<line x1="295.47" y1="400.33" x2="295.47" y2="402.93" stroke="#444" stroke-width="0.7"/>
<text x="297.77" y="404.30" font-size="6.5" text-anchor="end" fill="#353535" font-weight="normal" stroke="#353535" stroke-width="0.18" transform="rotate(-90 297.77 404.30)">KIR3DL1</text>
<line x1="308.62" y1="400.33" x2="308.62" y2="402.93" stroke="#444" stroke-width="0.7"/>
<text x="310.92" y="404.30" font-size="6.5" text-anchor="end" fill="#353535" font-weight="normal" stroke="#353535" stroke-width="0.18" transform="rotate(-90 310.92 404.30)">NKG2A</text>
<line x1="321.78" y1="400.33" x2="321.78" y2="402.93" stroke="#444" stroke-width="0.7"/>
<text x="324.08" y="404.30" font-size="6.5" text-anchor="end" fill="#353535" font-weight="normal" stroke="#353535" stroke-width="0.18" transform="rotate(-90 324.08 404.30)">LAIR1</text>
<line x1="334.93" y1="400.33" x2="334.93" y2="402.93" stroke="#444" stroke-width="0.7"/>
<text x="337.23" y="404.30" font-size="6.5" text-anchor="end" fill="#353535" font-weight="normal" stroke="#353535" stroke-width="0.18" transform="rotate(-90 337.23 404.30)">LAG3</text>
<line x1="348.09" y1="400.33" x2="348.09" y2="402.93" stroke="#444" stroke-width="0.7"/>
<text x="350.39" y="404.30" font-size="6.5" text-anchor="end" fill="#353535" font-weight="normal" stroke="#353535" stroke-width="0.18" transform="rotate(-90 350.39 404.30)">PD-1</text>
<line x1="361.24" y1="400.33" x2="361.24" y2="402.93" stroke="#444" stroke-width="0.7"/>
<text x="363.54" y="404.30" font-size="6.5" text-anchor="end" fill="#353535" font-weight="normal" stroke="#353535" stroke-width="0.18" transform="rotate(-90 363.54 404.30)">PD-L1</text>
<line x1="80.40" y1="436.10" x2="194.60" y2="436.10" stroke="#222" stroke-width="1.4"/>
<text x="137.20" y="446.60" font-size="6.9" text-anchor="middle" fill="#353535" font-weight="normal" stroke="#353535" stroke-width="0.18" textLength="28.7" lengthAdjust="spacingAndGlyphs">Activating</text>
<line x1="237.30" y1="457.40" x2="368.00" y2="457.40" stroke="#222" stroke-width="1.4"/>
<text x="303.30" y="468.20" font-size="6.9" text-anchor="middle" fill="#353535" font-weight="normal" stroke="#353535" stroke-width="0.18">Inhibitory</text>
<defs><linearGradient id="cb" x1="0" x2="1" y1="0" y2="0"><stop offset="0" stop-color="#2a2484"/><stop offset="0.2" stop-color="#6464b0"/><stop offset="0.4" stop-color="#fcfcfc"/><stop offset="0.6" stop-color="#f4aaaa"/><stop offset="0.8" stop-color="#e84848"/><stop offset="1" stop-color="#d41818"/></linearGradient></defs>
<rect x="51.70" y="224.20" width="60.20" height="10.30" fill="url(#cb)" stroke="#333" stroke-width="0.5"/>
<line x1="64.20" y1="232.70" x2="64.20" y2="234.40" stroke="#333" stroke-width="0.6"/>
<line x1="76.20" y1="232.70" x2="76.20" y2="234.40" stroke="#333" stroke-width="0.6"/>
<line x1="88.80" y1="232.70" x2="88.80" y2="234.40" stroke="#333" stroke-width="0.6"/>
<line x1="100.80" y1="232.70" x2="100.80" y2="234.40" stroke="#333" stroke-width="0.6"/>
<text x="63.90" y="243.30" font-size="6.5" text-anchor="middle" fill="#353535" font-weight="normal" stroke="#353535" stroke-width="0.18">−1</text>
<text x="76.30" y="243.30" font-size="6.5" text-anchor="middle" fill="#353535" font-weight="normal" stroke="#353535" stroke-width="0.18">0</text>
<text x="88.80" y="243.30" font-size="6.5" text-anchor="middle" fill="#353535" font-weight="normal" stroke="#353535" stroke-width="0.18">1</text>
<text x="100.80" y="243.30" font-size="6.5" text-anchor="middle" fill="#353535" font-weight="normal" stroke="#353535" stroke-width="0.18">2</text>
<text x="115.20" y="231.70" font-size="6.6" text-anchor="start" fill="#353535" font-weight="normal" stroke="#353535" stroke-width="0.18" textLength="20.2" lengthAdjust="spacingAndGlyphs">Z-score</text>
<rect x="28.20" y="251.20" width="20.50" height="149.10" fill="#2a3a3a"/>
<rect x="29.30" y="252.20" width="18.30" height="9.45" fill="#a8c832"/>
<text x="38.45" y="259.32" font-size="6.7" text-anchor="middle" fill="#46560c" font-weight="bold">1</text>
<rect x="29.30" y="262.85" width="18.30" height="9.45" fill="#3cb8ea"/>
<text x="38.45" y="269.97" font-size="6.7" text-anchor="middle" fill="#1a5a8a" font-weight="bold">2</text>
<rect x="29.30" y="273.50" width="18.30" height="9.45" fill="#e42a2a"/>
<text x="38.45" y="280.62" font-size="6.7" text-anchor="middle" fill="#9a1010" font-weight="bold">3</text>
<rect x="29.30" y="284.15" width="18.30" height="9.45" fill="#f29a40"/>
<text x="38.45" y="291.27" font-size="6.7" text-anchor="middle" fill="#7a4008" font-weight="bold">4</text>
<rect x="29.30" y="294.80" width="18.30" height="9.45" fill="#b25ab2"/>
<text x="38.45" y="301.93" font-size="6.7" text-anchor="middle" fill="#5e2060" font-weight="bold">5</text>
<rect x="29.30" y="305.45" width="18.30" height="9.45" fill="#2e6b2e"/>
<text x="38.45" y="312.57" font-size="6.7" text-anchor="middle" fill="#c8e8c0" font-weight="bold">6</text>
<rect x="29.30" y="316.10" width="18.30" height="9.45" fill="#c9a09c"/>
<text x="38.45" y="323.23" font-size="6.7" text-anchor="middle" fill="#705050" font-weight="bold">7</text>
<rect x="29.30" y="326.75" width="18.30" height="9.45" fill="#7a2a8a"/>
<text x="38.45" y="333.88" font-size="6.7" text-anchor="middle" fill="#e8c8ec" font-weight="bold">8</text>
<rect x="29.30" y="337.40" width="18.30" height="9.45" fill="#1f9898"/>
<text x="38.45" y="344.52" font-size="6.7" text-anchor="middle" fill="#0c4a4a" font-weight="bold">9</text>
<rect x="29.30" y="348.05" width="18.30" height="9.45" fill="#f5f000"/>
<text x="38.45" y="355.18" font-size="6.7" text-anchor="middle" fill="#333" font-weight="bold">10</text>
<rect x="29.30" y="358.70" width="18.30" height="9.45" fill="#6a6a6a"/>
<text x="38.45" y="365.82" font-size="6.7" text-anchor="middle" fill="#2e2e2e" font-weight="bold">11</text>
<rect x="29.30" y="369.35" width="18.30" height="9.45" fill="#d4d4d8"/>
<text x="38.45" y="376.48" font-size="6.7" text-anchor="middle" fill="#444" font-weight="bold">12</text>
<rect x="29.30" y="380.00" width="18.30" height="9.45" fill="#2e2a8c"/>
<text x="38.45" y="387.12" font-size="6.7" text-anchor="middle" fill="#c8c8f8" font-weight="bold">13</text>
<rect x="29.30" y="390.65" width="18.30" height="9.45" fill="#f5ec10"/>
<text x="38.45" y="397.77" font-size="6.7" text-anchor="middle" fill="#444" font-weight="bold">14</text>
<line x1="14.20" y1="325.20" x2="52.00" y2="325.20" stroke="#444" stroke-width="0.8"/>
<text x="377.50" y="221.90" font-size="11.5" text-anchor="start" fill="#111" font-weight="bold">F</text>
<line x1="380.60" y1="251.10" x2="380.60" y2="401.60" stroke="#222" stroke-width="1.0"/>
<line x1="380.10" y1="401.20" x2="482.40" y2="401.20" stroke="#222" stroke-width="1.0"/>
<line x1="377.40" y1="258.40" x2="380.60" y2="258.40" stroke="#222" stroke-width="0.8"/>
<rect x="381.10" y="255.20" width="1.50" height="6.50" fill="#c0102c"/>
<rect x="382.60" y="255.20" width="30.46" height="6.50" fill="#f5b400"/>
<line x1="377.40" y1="268.89" x2="380.60" y2="268.89" stroke="#222" stroke-width="0.8"/>
<rect x="381.10" y="265.69" width="3.50" height="6.50" fill="#c0102c"/>
<rect x="384.60" y="265.69" width="46.19" height="6.50" fill="#f5b400"/>
<line x1="377.40" y1="279.38" x2="380.60" y2="279.38" stroke="#222" stroke-width="0.8"/>
<rect x="381.10" y="276.18" width="2.50" height="6.50" fill="#c0102c"/>
<rect x="383.60" y="276.18" width="19.48" height="6.50" fill="#f5b400"/>
<line x1="377.40" y1="289.87" x2="380.60" y2="289.87" stroke="#222" stroke-width="0.8"/>
<rect x="381.10" y="286.67" width="1.25" height="6.50" fill="#c0102c"/>
<rect x="382.35" y="286.67" width="49.44" height="6.50" fill="#f5b400"/>
<line x1="377.40" y1="300.36" x2="380.60" y2="300.36" stroke="#222" stroke-width="0.8"/>
<rect x="381.10" y="297.16" width="2.50" height="6.50" fill="#c0102c"/>
<rect x="383.60" y="297.16" width="68.67" height="6.50" fill="#f5b400"/>
<line x1="377.40" y1="310.85" x2="380.60" y2="310.85" stroke="#222" stroke-width="0.8"/>
<rect x="381.10" y="307.65" width="0.25" height="6.50" fill="#c0102c"/>
<rect x="381.35" y="307.65" width="26.47" height="6.50" fill="#f5b400"/>
<line x1="377.40" y1="321.34" x2="380.60" y2="321.34" stroke="#222" stroke-width="0.8"/>
<rect x="381.10" y="318.14" width="0.62" height="6.50" fill="#c0102c"/>
<line x1="377.40" y1="331.83" x2="380.60" y2="331.83" stroke="#222" stroke-width="0.8"/>
<rect x="381.10" y="328.63" width="9.74" height="6.50" fill="#c0102c"/>
<line x1="377.40" y1="342.32" x2="380.60" y2="342.32" stroke="#222" stroke-width="0.8"/>
<rect x="381.10" y="339.12" width="33.46" height="6.50" fill="#c0102c"/>
<line x1="377.40" y1="352.81" x2="380.60" y2="352.81" stroke="#222" stroke-width="0.8"/>
<rect x="381.10" y="349.61" width="34.96" height="6.50" fill="#c0102c"/>
<line x1="377.40" y1="363.30" x2="380.60" y2="363.30" stroke="#222" stroke-width="0.8"/>
<rect x="381.10" y="360.10" width="16.73" height="6.50" fill="#c0102c"/>
<line x1="377.40" y1="373.79" x2="380.60" y2="373.79" stroke="#222" stroke-width="0.8"/>
<rect x="381.10" y="370.59" width="23.72" height="6.50" fill="#c0102c"/>
<line x1="377.40" y1="384.28" x2="380.60" y2="384.28" stroke="#222" stroke-width="0.8"/>
<rect x="381.10" y="381.08" width="40.45" height="6.50" fill="#c0102c"/>
<line x1="377.40" y1="394.77" x2="380.60" y2="394.77" stroke="#222" stroke-width="0.8"/>
<rect x="381.10" y="391.57" width="77.41" height="6.50" fill="#c0102c"/>
<rect x="458.51" y="391.57" width="0.75" height="6.50" fill="#f5b400"/>
<line x1="380.60" y1="401.20" x2="380.60" y2="403.60" stroke="#222" stroke-width="0.8"/>
<text x="380.60" y="412.80" font-size="6.6" text-anchor="middle" fill="#353535" font-weight="normal" stroke="#353535" stroke-width="0.18">0</text>
<line x1="405.57" y1="401.20" x2="405.57" y2="403.60" stroke="#222" stroke-width="0.8"/>
<text x="405.57" y="412.80" font-size="6.6" text-anchor="middle" fill="#353535" font-weight="normal" stroke="#353535" stroke-width="0.18">10</text>
<line x1="430.54" y1="401.20" x2="430.54" y2="403.60" stroke="#222" stroke-width="0.8"/>
<text x="430.54" y="412.80" font-size="6.6" text-anchor="middle" fill="#353535" font-weight="normal" stroke="#353535" stroke-width="0.18">20</text>
<line x1="455.51" y1="401.20" x2="455.51" y2="403.60" stroke="#222" stroke-width="0.8"/>
<text x="455.51" y="412.80" font-size="6.6" text-anchor="middle" fill="#353535" font-weight="normal" stroke="#353535" stroke-width="0.18">30</text>
<line x1="480.48" y1="401.20" x2="480.48" y2="403.60" stroke="#222" stroke-width="0.8"/>
<text x="480.48" y="412.80" font-size="6.6" text-anchor="middle" fill="#353535" font-weight="normal" stroke="#353535" stroke-width="0.18">40</text>
<text x="431.70" y="424.00" font-size="6.9" text-anchor="middle" fill="#353535" font-weight="normal" stroke="#353535" stroke-width="0.18" textLength="28.9" lengthAdjust="spacingAndGlyphs">% NK cells</text>
<rect x="449.70" y="319.40" width="4.30" height="4.40" fill="#f5b400"/>
<text x="456.10" y="323.60" font-size="6.4" text-anchor="start" fill="#353535" font-weight="normal" stroke="#353535" stroke-width="0.18">MZ twin</text>
<rect x="449.70" y="329.20" width="4.30" height="4.40" fill="#c0102c"/>
<text x="456.10" y="333.40" font-size="6.4" text-anchor="start" fill="#353535" font-weight="normal" stroke="#353535" stroke-width="0.18">patient</text>
<text x="7.10" y="494.50" font-size="11.5" text-anchor="start" fill="#111" font-weight="bold">G</text>
<line x1="48.60" y1="505.30" x2="48.60" y2="584.90" stroke="#222" stroke-width="1.0"/>
<line x1="48.10" y1="584.40" x2="110.40" y2="584.40" stroke="#222" stroke-width="1.0"/>
<line x1="45.60" y1="584.40" x2="48.60" y2="584.40" stroke="#222" stroke-width="0.8"/>
<text x="43.20" y="586.70" font-size="6.5" text-anchor="end" fill="#353535" font-weight="normal" stroke="#353535" stroke-width="0.18">0</text>
<line x1="45.60" y1="558.20" x2="48.60" y2="558.20" stroke="#222" stroke-width="0.8"/>
<text x="43.20" y="560.50" font-size="6.5" text-anchor="end" fill="#353535" font-weight="normal" stroke="#353535" stroke-width="0.18">1000</text>
<line x1="45.60" y1="532.00" x2="48.60" y2="532.00" stroke="#222" stroke-width="0.8"/>
<text x="43.20" y="534.30" font-size="6.5" text-anchor="end" fill="#353535" font-weight="normal" stroke="#353535" stroke-width="0.18">2000</text>
<line x1="45.60" y1="505.80" x2="48.60" y2="505.80" stroke="#222" stroke-width="0.8"/>
<text x="43.20" y="508.10" font-size="6.5" text-anchor="end" fill="#353535" font-weight="normal" stroke="#353535" stroke-width="0.18">3000</text>
<rect x="54.60" y="583.75" width="4.30" height="0.65" fill="#c0102c"/>
<line x1="54.60" y1="584.40" x2="54.60" y2="586.80" stroke="#222" stroke-width="0.8"/>
<text x="54.90" y="593.40" font-size="6.6" text-anchor="end" fill="#353535" font-weight="normal" stroke="#353535" stroke-width="0.18" transform="rotate(-45 54.90 593.40)">H2O</text>
<rect x="67.10" y="577.33" width="4.30" height="7.07" fill="#c0102c"/>
<line x1="67.10" y1="584.40" x2="67.10" y2="586.80" stroke="#222" stroke-width="0.8"/>
<text x="67.40" y="593.40" font-size="6.6" text-anchor="end" fill="#353535" font-weight="normal" stroke="#353535" stroke-width="0.18" transform="rotate(-45 67.40 593.40)">IL-2</text>
<rect x="79.60" y="560.82" width="4.30" height="23.58" fill="#c0102c"/>
<line x1="79.60" y1="584.40" x2="79.60" y2="586.80" stroke="#222" stroke-width="0.8"/>
<text x="79.90" y="593.40" font-size="6.6" text-anchor="end" fill="#353535" font-weight="normal" stroke="#353535" stroke-width="0.18" transform="rotate(-45 79.90 593.40)">IL-12</text>
<rect x="91.90" y="580.21" width="4.30" height="4.19" fill="#c0102c"/>
<line x1="91.90" y1="584.40" x2="91.90" y2="586.80" stroke="#222" stroke-width="0.8"/>
<text x="92.20" y="593.40" font-size="6.6" text-anchor="end" fill="#353535" font-weight="normal" stroke="#353535" stroke-width="0.18" transform="rotate(-45 92.20 593.40)">IL-18</text>
<rect x="99.80" y="556.89" width="4.20" height="27.51" fill="#f5b400"/>
<rect x="104.00" y="519.69" width="4.30" height="64.71" fill="#c0102c"/>
<line x1="104.00" y1="584.40" x2="104.00" y2="586.80" stroke="#222" stroke-width="0.8"/>
<text x="104.30" y="593.40" font-size="6.6" text-anchor="end" fill="#353535" font-weight="normal" stroke="#353535" stroke-width="0.18" transform="rotate(-45 104.30 593.40)">IL-12+18</text>
<rect x="51.20" y="507.50" width="3.80" height="3.80" fill="#f5b400"/>
<text x="59.50" y="511.60" font-size="6.4" text-anchor="start" fill="#353535" font-weight="normal" stroke="#353535" stroke-width="0.18">MZ twin</text>
<rect x="51.20" y="517.00" width="3.80" height="3.80" fill="#c0102c"/>
<text x="59.50" y="521.10" font-size="6.4" text-anchor="start" fill="#353535" font-weight="normal" stroke="#353535" stroke-width="0.18">patient</text>
<text x="22.60" y="543.60" font-size="6.9" text-anchor="middle" fill="#353535" font-weight="normal" stroke="#353535" stroke-width="0.18" transform="rotate(-90 22.60 543.60)" textLength="36" lengthAdjust="spacingAndGlyphs">IFNγ [pg/ml]</text>
<text x="134.60" y="495.00" font-size="11.5" text-anchor="start" fill="#111" font-weight="bold">H</text>
<text stroke="#353535" stroke-width="0.18" x="204.6" y="498.6" font-size="8.3" text-anchor="middle" fill="#353535">CD56<tspan dy="-3.5" font-size="5.4">dim</tspan><tspan dy="3.5"> CD16</tspan><tspan dy="-3.5" font-size="5.4">dim</tspan></text>
<line x1="178.60" y1="505.30" x2="178.60" y2="584.90" stroke="#222" stroke-width="1.0"/>
<line x1="178.10" y1="584.40" x2="230.40" y2="584.40" stroke="#222" stroke-width="1.0"/>
<line x1="175.60" y1="584.40" x2="178.60" y2="584.40" stroke="#222" stroke-width="0.8"/>
<text x="173.40" y="586.70" font-size="6.5" text-anchor="end" fill="#353535" font-weight="normal" stroke="#353535" stroke-width="0.18">0</text>
<line x1="175.60" y1="568.68" x2="178.60" y2="568.68" stroke="#222" stroke-width="0.8"/>
<text x="173.40" y="570.98" font-size="6.5" text-anchor="end" fill="#353535" font-weight="normal" stroke="#353535" stroke-width="0.18">20</text>
<line x1="175.60" y1="552.96" x2="178.60" y2="552.96" stroke="#222" stroke-width="0.8"/>
<text x="173.40" y="555.26" font-size="6.5" text-anchor="end" fill="#353535" font-weight="normal" stroke="#353535" stroke-width="0.18">40</text>
<line x1="175.60" y1="537.24" x2="178.60" y2="537.24" stroke="#222" stroke-width="0.8"/>
<text x="173.40" y="539.54" font-size="6.5" text-anchor="end" fill="#353535" font-weight="normal" stroke="#353535" stroke-width="0.18">60</text>
<line x1="175.60" y1="521.52" x2="178.60" y2="521.52" stroke="#222" stroke-width="0.8"/>
<text x="173.40" y="523.82" font-size="6.5" text-anchor="end" fill="#353535" font-weight="normal" stroke="#353535" stroke-width="0.18">80</text>
<line x1="175.60" y1="505.80" x2="178.60" y2="505.80" stroke="#222" stroke-width="0.8"/>
<text x="173.40" y="508.10" font-size="6.5" text-anchor="end" fill="#353535" font-weight="normal" stroke="#353535" stroke-width="0.18">100</text>
<rect x="187.70" y="541.96" width="4.30" height="42.44" fill="#c0102c"/>
<line x1="187.70" y1="584.40" x2="187.70" y2="586.80" stroke="#222" stroke-width="0.8"/>
<text x="188.00" y="593.40" font-size="6.6" text-anchor="end" fill="#353535" font-weight="normal" stroke="#353535" stroke-width="0.18" transform="rotate(-45 188.00 593.40)">H2O</text>
<rect x="200.30" y="581.26" width="4.20" height="3.14" fill="#f5b400"/>
<rect x="204.50" y="531.35" width="4.30" height="53.05" fill="#c0102c"/>
<line x1="204.50" y1="584.40" x2="204.50" y2="586.80" stroke="#222" stroke-width="0.8"/>
<text x="204.80" y="593.40" font-size="6.6" text-anchor="end" fill="#353535" font-weight="normal" stroke="#353535" stroke-width="0.18" transform="rotate(-45 204.80 593.40)">IFNα+IL-2</text>
<rect x="222.30" y="540.38" width="4.30" height="44.02" fill="#c0102c"/>
<line x1="222.30" y1="584.40" x2="222.30" y2="586.80" stroke="#222" stroke-width="0.8"/>
<text x="222.60" y="593.40" font-size="6.6" text-anchor="end" fill="#353535" font-weight="normal" stroke="#353535" stroke-width="0.18" transform="rotate(-45 222.60 593.40)">PMA/iono</text>
<rect x="181.70" y="507.50" width="3.80" height="3.80" fill="#f5b400"/>
<text x="189.50" y="511.60" font-size="6.4" text-anchor="start" fill="#353535" font-weight="normal" stroke="#353535" stroke-width="0.18">MZ twin</text>
<rect x="181.70" y="517.00" width="3.80" height="3.80" fill="#c0102c"/>
<text x="189.50" y="521.10" font-size="6.4" text-anchor="start" fill="#353535" font-weight="normal" stroke="#353535" stroke-width="0.18">patient</text>
<text stroke="#353535" stroke-width="0.18" x="156.9" y="543.4" font-size="6.9" text-anchor="middle" fill="#353535" transform="rotate(-90 156.9 543.4)" textLength="44.5" lengthAdjust="spacingAndGlyphs">% IFNγ<tspan dy="-2.4" font-size="4.6">+</tspan><tspan dy="2.4"> PBMCs</tspan></text>
<rect x="260.80" y="486.20" width="2.30" height="8.50" fill="#111"/>
<text stroke="#353535" stroke-width="0.18" x="341.6" y="494.8" font-size="6.2" text-anchor="middle" fill="#353535">CD56<tspan dy="-2.7" font-size="4.6">dim</tspan><tspan dy="2.7"> CD16</tspan><tspan dy="-2.7" font-size="4.6">dim</tspan></text>
<path d="M316.6 532.80 L316.60 532.80 L317.30 532.80 L318.00 532.80 L318.70 532.80 L319.40 532.80 L320.10 532.80 L320.80 532.80 L321.50 532.80 L322.20 532.80 L322.90 532.80 L323.60 532.68 L324.30 531.88 L325.00 531.01 L325.70 530.41 L326.40 529.48 L327.10 528.53 L327.80 528.00 L328.50 526.72 L329.20 525.90 L329.90 525.83 L330.60 525.07 L331.30 523.74 L332.00 522.44 L332.70 522.23 L333.40 521.47 L334.10 519.98 L334.80 519.24 L335.50 517.46 L336.20 515.80 L336.90 516.11 L337.60 518.39 L338.30 520.32 L339.00 522.17 L339.70 523.51 L340.40 525.14 L341.10 526.67 L341.80 527.40 L342.50 528.88 L343.20 530.15 L343.90 531.53 L344.60 532.57 L345.30 532.54 L346.00 532.54 L346.70 532.50 L347.40 532.45 L348.10 532.42 L348.80 532.38 L349.50 532.37 L350.20 532.32 L350.90 532.30 L351.60 532.30 L352.30 532.26 L353.00 532.22 L353.70 532.20 L354.40 532.21 L355.10 532.20 L355.80 532.23 L356.50 532.22 L357.20 532.19 L357.90 532.22 L358.60 532.25 L359.30 532.25 L360.00 532.26 L360.70 532.28 L361.40 532.33 L362.10 532.35 L362.80 532.38 L363.50 532.40 L364.20 532.44 L364.90 532.48 L365.60 532.51 L366.30 532.55 L367.00 532.58 L367.70 532.59 L368.40 532.61 L369.10 532.64 L369.80 532.67 L370.50 532.69 L371.20 532.70 L371.90 532.71 L371.4 532.80 Z" fill="#fdf2de" fill-opacity="0.85" stroke="#f6e2bc" stroke-width="0.7" stroke-linejoin="round"/>
<path d="M316.6 548.60 L316.60 548.42 L317.30 548.34 L318.00 548.29 L318.70 548.17 L319.40 547.91 L320.10 547.70 L320.80 547.45 L321.50 547.24 L322.20 546.82 L322.90 546.45 L323.60 546.07 L324.30 545.93 L325.00 545.41 L325.70 545.10 L326.40 544.53 L327.10 543.99 L327.80 543.68 L328.50 543.67 L329.20 543.29 L329.90 542.87 L330.60 542.41 L331.30 541.54 L332.00 539.79 L332.70 539.02 L333.40 537.97 L334.10 536.04 L334.80 536.33 L335.50 535.84 L336.20 536.39 L336.90 536.78 L337.60 535.98 L338.30 536.74 L339.00 536.48 L339.70 536.55 L340.40 538.80 L341.10 541.26 L341.80 541.83 L342.50 543.31 L343.20 544.34 L343.90 544.81 L344.60 545.22 L345.30 545.35 L346.00 545.69 L346.70 545.41 L347.40 545.57 L348.10 546.19 L348.80 546.13 L349.50 546.42 L350.20 546.78 L350.90 547.00 L351.60 547.22 L352.30 547.28 L353.00 547.52 L353.70 547.54 L354.40 547.70 L355.10 547.65 L355.80 547.68 L356.50 547.78 L357.20 547.78 L357.90 547.75 L358.60 547.80 L359.30 547.87 L360.00 547.93 L360.70 547.95 L361.40 547.94 L362.10 548.04 L362.80 548.00 L363.50 548.11 L364.20 548.09 L364.90 548.19 L365.60 548.17 L366.30 548.24 L367.00 548.29 L367.70 548.32 L368.40 548.35 L369.10 548.39 L369.80 548.43 L370.50 548.45 L371.20 548.47 L371.90 548.48 L371.4 548.60 Z" fill="#fbe2a6" fill-opacity="0.8" stroke="#f2cc70" stroke-width="0.7" stroke-linejoin="round"/>
<path d="M316.6 564.40 L316.60 563.92 L317.30 563.66 L318.00 563.40 L318.70 563.00 L319.40 562.59 L320.10 562.33 L320.80 561.93 L321.50 561.11 L322.20 560.98 L322.90 560.60 L323.60 559.66 L324.30 559.57 L325.00 558.68 L325.70 558.28 L326.40 557.18 L327.10 556.68 L327.80 554.75 L328.50 552.94 L329.20 552.16 L329.90 550.38 L330.60 549.34 L331.30 549.88 L332.00 547.36 L332.70 547.23 L333.40 547.61 L334.10 548.05 L334.80 545.31 L335.50 545.97 L336.20 544.61 L336.90 543.49 L337.60 543.66 L338.30 543.31 L339.00 546.15 L339.70 547.20 L340.40 550.98 L341.10 553.29 L341.80 556.54 L342.50 559.75 L343.20 561.38 L343.90 562.42 L344.60 562.87 L345.30 563.31 L346.00 563.41 L346.70 563.49 L347.40 563.45 L348.10 563.45 L348.80 563.44 L349.50 563.39 L350.20 563.39 L350.90 563.35 L351.60 563.41 L352.30 563.41 L353.00 563.47 L353.70 563.51 L354.40 563.61 L355.10 563.74 L355.80 563.74 L356.50 563.80 L357.20 563.88 L357.90 563.98 L358.60 564.03 L359.30 564.11 L360.00 564.14 L360.70 564.19 L361.40 564.24 L362.10 564.28 L362.80 564.29 L363.50 564.31 L364.20 564.34 L364.90 564.35 L365.60 564.37 L366.30 564.38 L367.00 564.38 L367.70 564.39 L368.40 564.39 L369.10 564.39 L369.80 564.40 L370.50 564.40 L371.20 564.40 L371.90 564.40 L371.4 564.40 Z" fill="#f8cd74" fill-opacity="0.75" stroke="#eeb128" stroke-width="0.7" stroke-linejoin="round"/>
<path d="M316.6 579.80 L316.60 578.84 L317.30 578.63 L318.00 578.32 L318.70 578.07 L319.40 577.76 L320.10 577.31 L320.80 576.73 L321.50 576.34 L322.20 575.92 L322.90 575.76 L323.60 575.19 L324.30 574.96 L325.00 574.68 L325.70 574.43 L326.40 574.09 L327.10 573.32 L327.80 573.12 L328.50 572.82 L329.20 572.39 L329.90 572.32 L330.60 571.34 L331.30 569.73 L332.00 567.89 L332.70 565.53 L333.40 562.92 L334.10 561.90 L334.80 557.98 L335.50 555.31 L336.20 553.87 L336.90 553.79 L337.60 552.62 L338.30 554.59 L339.00 553.62 L339.70 556.26 L340.40 559.90 L341.10 563.34 L341.80 565.06 L342.50 568.19 L343.20 570.01 L343.90 571.84 L344.60 573.49 L345.30 574.56 L346.00 575.22 L346.70 575.89 L347.40 576.48 L348.10 576.82 L348.80 577.01 L349.50 577.56 L350.20 577.83 L350.90 577.93 L351.60 578.21 L352.30 578.32 L353.00 578.46 L353.70 578.58 L354.40 578.56 L355.10 578.72 L355.80 578.73 L356.50 578.79 L357.20 578.77 L357.90 578.84 L358.60 578.86 L359.30 578.85 L360.00 578.93 L360.70 578.95 L361.40 578.96 L362.10 579.09 L362.80 579.14 L363.50 579.18 L364.20 579.19 L364.90 579.25 L365.60 579.33 L366.30 579.37 L367.00 579.43 L367.70 579.46 L368.40 579.52 L369.10 579.53 L369.80 579.56 L370.50 579.60 L371.20 579.63 L371.90 579.65 L371.4 579.80 Z" fill="#f4cfc4" fill-opacity="0.6" stroke="#e0a898" stroke-width="0.7" stroke-linejoin="round"/>
<path d="M316.6 595.80 L316.60 595.12 L317.30 594.30 L318.00 593.49 L318.70 592.64 L319.40 591.88 L320.10 591.01 L320.80 590.58 L321.50 589.60 L322.20 588.54 L322.90 587.91 L323.60 586.93 L324.30 586.71 L325.00 585.65 L325.70 585.06 L326.40 584.00 L327.10 583.18 L327.80 582.98 L328.50 581.99 L329.20 581.14 L329.90 579.56 L330.60 578.94 L331.30 578.98 L332.00 577.28 L332.70 577.47 L333.40 575.95 L334.10 575.95 L334.80 575.39 L335.50 573.10 L336.20 573.49 L336.90 572.70 L337.60 570.42 L338.30 569.80 L339.00 570.17 L339.70 570.61 L340.40 573.19 L341.10 574.68 L341.80 577.11 L342.50 577.65 L343.20 579.58 L343.90 580.75 L344.60 582.27 L345.30 584.19 L346.00 585.35 L346.70 586.68 L347.40 587.83 L348.10 589.02 L348.80 590.11 L349.50 590.00 L350.20 589.94 L350.90 589.40 L351.60 589.53 L352.30 589.66 L353.00 589.67 L353.70 590.19 L354.40 590.70 L355.10 591.11 L355.80 591.52 L356.50 592.20 L357.20 592.40 L357.90 593.05 L358.60 593.28 L359.30 593.62 L360.00 594.07 L360.70 594.25 L361.40 594.56 L362.10 594.78 L362.80 595.02 L363.50 595.19 L364.20 595.34 L364.90 595.43 L365.60 595.55 L366.30 595.62 L367.00 595.67 L367.70 595.72 L368.40 595.75 L369.10 595.77 L369.80 595.78 L370.50 595.79 L371.20 595.79 L371.90 595.80 L371.4 595.80 Z" fill="#f1bdb0" fill-opacity="0.6" stroke="#c88070" stroke-width="0.7" stroke-linejoin="round"/>
<path d="M316.6 610.80 L316.60 610.80 L317.30 610.80 L318.00 610.80 L318.70 610.80 L319.40 610.80 L320.10 610.80 L320.80 610.80 L321.50 610.80 L322.20 610.80 L322.90 610.80 L323.60 610.80 L324.30 610.80 L325.00 610.80 L325.70 610.80 L326.40 610.80 L327.10 610.80 L327.80 610.80 L328.50 610.80 L329.20 610.80 L329.90 610.80 L330.60 610.64 L331.30 609.52 L332.00 608.38 L332.70 607.39 L333.40 606.39 L334.10 605.01 L334.80 603.88 L335.50 602.98 L336.20 602.13 L336.90 600.99 L337.60 599.52 L338.30 598.75 L339.00 596.96 L339.70 596.24 L340.40 595.61 L341.10 593.91 L341.80 593.19 L342.50 591.19 L343.20 589.99 L343.90 589.35 L344.60 588.08 L345.30 588.86 L346.00 589.36 L346.70 589.55 L347.40 591.34 L348.10 590.88 L348.80 590.49 L349.50 591.03 L350.20 590.84 L350.90 592.22 L351.60 592.07 L352.30 594.09 L353.00 596.48 L353.70 598.08 L354.40 600.78 L355.10 603.22 L355.80 605.38 L356.50 607.66 L357.20 608.38 L357.90 608.86 L358.60 609.36 L359.30 609.79 L360.00 610.01 L360.70 610.27 L361.40 610.43 L362.10 610.54 L362.80 610.64 L363.50 610.70 L364.20 610.74 L364.90 610.77 L365.60 610.78 L366.30 610.79 L367.00 610.80 L367.70 610.80 L368.40 610.80 L369.10 610.80 L369.80 610.80 L370.50 610.80 L371.20 610.80 L371.90 610.80 L371.4 610.80 Z" fill="#efb4a8" fill-opacity="0.6" stroke="#b86860" stroke-width="0.7" stroke-linejoin="round"/>
<rect x="316.1" y="499.5" width="55.8" height="112.7" fill="none" stroke="#333" stroke-width="0.9"/>
<line x1="318.80" y1="612.20" x2="318.80" y2="613.60" stroke="#333" stroke-width="0.6"/>
<line x1="322.30" y1="612.20" x2="322.30" y2="613.60" stroke="#333" stroke-width="0.6"/>
<line x1="325.80" y1="612.20" x2="325.80" y2="613.60" stroke="#333" stroke-width="0.6"/>
<line x1="330.50" y1="612.20" x2="330.50" y2="613.60" stroke="#333" stroke-width="0.6"/>
<line x1="335.00" y1="612.20" x2="335.00" y2="613.60" stroke="#333" stroke-width="0.6"/>
<line x1="340.50" y1="612.20" x2="340.50" y2="613.60" stroke="#333" stroke-width="0.6"/>
<line x1="345.50" y1="612.20" x2="345.50" y2="613.60" stroke="#333" stroke-width="0.6"/>
<line x1="351.00" y1="612.20" x2="351.00" y2="613.60" stroke="#333" stroke-width="0.6"/>
<line x1="355.00" y1="612.20" x2="355.00" y2="613.60" stroke="#333" stroke-width="0.6"/>
<line x1="359.50" y1="612.20" x2="359.50" y2="613.60" stroke="#333" stroke-width="0.6"/>
<line x1="364.00" y1="612.20" x2="364.00" y2="613.60" stroke="#333" stroke-width="0.6"/>
<line x1="368.00" y1="612.20" x2="368.00" y2="613.60" stroke="#333" stroke-width="0.6"/>
<rect x="326.50" y="612.00" width="2.00" height="2.00" fill="#111"/>
<text x="328.30" y="623.50" font-size="6.4" text-anchor="middle" fill="#353535" font-weight="normal" stroke="#353535" stroke-width="0.18">0</text>
<text stroke="#353535" stroke-width="0.18" x="355.0" y="623.5" font-size="6.4" text-anchor="middle" fill="#353535">10<tspan dy="-2.4" font-size="4.2">4</tspan></text>
<line x1="316.30" y1="628.80" x2="367.00" y2="628.80" stroke="#222" stroke-width="0.9"/>
<path d="M371.0 628.8 L366.0 626.8 L367.0 628.8 L366.0 630.8 Z" fill="#222"/>
<text x="373.00" y="631.20" font-size="6.4" text-anchor="start" fill="#353535" font-weight="normal" stroke="#353535" stroke-width="0.18">IFNγ</text>
<text x="309.60" y="534.10" font-size="6.5" text-anchor="end" fill="#353535" font-weight="normal" stroke="#353535" stroke-width="0.18">H2O</text>
<text x="309.60" y="547.80" font-size="6.5" text-anchor="end" fill="#353535" font-weight="normal" stroke="#353535" stroke-width="0.18">IFNα+IL-2</text>
<text x="309.60" y="561.10" font-size="6.5" text-anchor="end" fill="#353535" font-weight="normal" stroke="#353535" stroke-width="0.18">PMA/iono</text>
<text x="309.60" y="579.30" font-size="6.5" text-anchor="end" fill="#353535" font-weight="normal" stroke="#353535" stroke-width="0.18">H2O</text>
<text x="309.60" y="594.30" font-size="6.5" text-anchor="end" fill="#353535" font-weight="normal" stroke="#353535" stroke-width="0.18">IFNα+IL-2</text>
<text x="309.60" y="608.60" font-size="6.5" text-anchor="end" fill="#353535" font-weight="normal" stroke="#353535" stroke-width="0.18">PMA/iono</text>
<line x1="268.60" y1="524.90" x2="268.60" y2="561.90" stroke="#222" stroke-width="0.9"/>
<line x1="268.60" y1="572.70" x2="268.60" y2="609.20" stroke="#222" stroke-width="0.9"/>
<text x="263.60" y="543.50" font-size="6.5" text-anchor="middle" fill="#353535" font-weight="normal" stroke="#353535" stroke-width="0.18" transform="rotate(-90 263.60 543.50)">MZ twin</text>
<text x="263.60" y="591.00" font-size="6.5" text-anchor="middle" fill="#353535" font-weight="normal" stroke="#353535" stroke-width="0.18" transform="rotate(-90 263.60 591.00)">patient</text>
<text stroke="#353535" stroke-width="0.18" x="455.5" y="498.0" font-size="7" text-anchor="middle" fill="#353535">IFNγ<tspan dy="-2.5" font-size="4.6">+</tspan></text>
<line x1="430.00" y1="505.30" x2="430.00" y2="584.90" stroke="#222" stroke-width="1.0"/>
<line x1="429.50" y1="584.40" x2="488.80" y2="584.40" stroke="#222" stroke-width="1.0"/>
<line x1="427.00" y1="584.40" x2="430.00" y2="584.40" stroke="#222" stroke-width="0.8"/>
<text x="424.80" y="586.70" font-size="6.5" text-anchor="end" fill="#353535" font-weight="normal" stroke="#353535" stroke-width="0.18">0</text>
<line x1="427.00" y1="558.20" x2="430.00" y2="558.20" stroke="#222" stroke-width="0.8"/>
<text x="424.80" y="560.50" font-size="6.5" text-anchor="end" fill="#353535" font-weight="normal" stroke="#353535" stroke-width="0.18">20</text>
<line x1="427.00" y1="532.00" x2="430.00" y2="532.00" stroke="#222" stroke-width="0.8"/>
<text x="424.80" y="534.30" font-size="6.5" text-anchor="end" fill="#353535" font-weight="normal" stroke="#353535" stroke-width="0.18">40</text>
<line x1="427.00" y1="505.80" x2="430.00" y2="505.80" stroke="#222" stroke-width="0.8"/>
<text x="424.80" y="508.10" font-size="6.5" text-anchor="end" fill="#353535" font-weight="normal" stroke="#353535" stroke-width="0.18">60</text>
<rect x="438.60" y="579.42" width="4.50" height="4.98" fill="#c0102c"/>
<line x1="438.60" y1="584.40" x2="438.60" y2="586.80" stroke="#222" stroke-width="0.8"/>
<text x="438.90" y="593.40" font-size="6.6" text-anchor="end" fill="#353535" font-weight="normal" stroke="#353535" stroke-width="0.18" transform="rotate(-45 438.90 593.40)">H2O</text>
<rect x="451.80" y="575.88" width="4.40" height="8.51" fill="#f5b400"/>
<rect x="456.20" y="552.96" width="4.50" height="31.44" fill="#c0102c"/>
<line x1="456.20" y1="584.40" x2="456.20" y2="586.80" stroke="#222" stroke-width="0.8"/>
<text x="456.50" y="593.40" font-size="6.6" text-anchor="end" fill="#353535" font-weight="normal" stroke="#353535" stroke-width="0.18" transform="rotate(-45 456.50 593.40)">IFNα+IL-2</text>
<rect x="474.20" y="528.33" width="4.50" height="56.07" fill="#c0102c"/>
<line x1="474.20" y1="584.40" x2="474.20" y2="586.80" stroke="#222" stroke-width="0.8"/>
<text x="474.50" y="593.40" font-size="6.6" text-anchor="end" fill="#353535" font-weight="normal" stroke="#353535" stroke-width="0.18" transform="rotate(-45 474.50 593.40)">PMA/iono</text>
<rect x="433.00" y="509.50" width="3.80" height="3.80" fill="#f5b400"/>
<text x="441.30" y="513.60" font-size="6.4" text-anchor="start" fill="#353535" font-weight="normal" stroke="#353535" stroke-width="0.18">MZ twin</text>
<rect x="433.00" y="518.80" width="3.80" height="3.80" fill="#c0102c"/>
<text x="441.30" y="522.90" font-size="6.4" text-anchor="start" fill="#353535" font-weight="normal" stroke="#353535" stroke-width="0.18">patient</text>
<text stroke="#353535" stroke-width="0.18" x="411.9" y="543.4" font-size="7.4" text-anchor="middle" fill="#353535" transform="rotate(-90 411.9 543.4)" textLength="52.5" lengthAdjust="spacingAndGlyphs">% CD56<tspan dy="-2.6" font-size="4.6">dim</tspan><tspan dy="2.6">CD16</tspan><tspan dy="-2.6" font-size="4.6">dim</tspan></text>
</svg>
<div id="frame"></div>
</body></html>
